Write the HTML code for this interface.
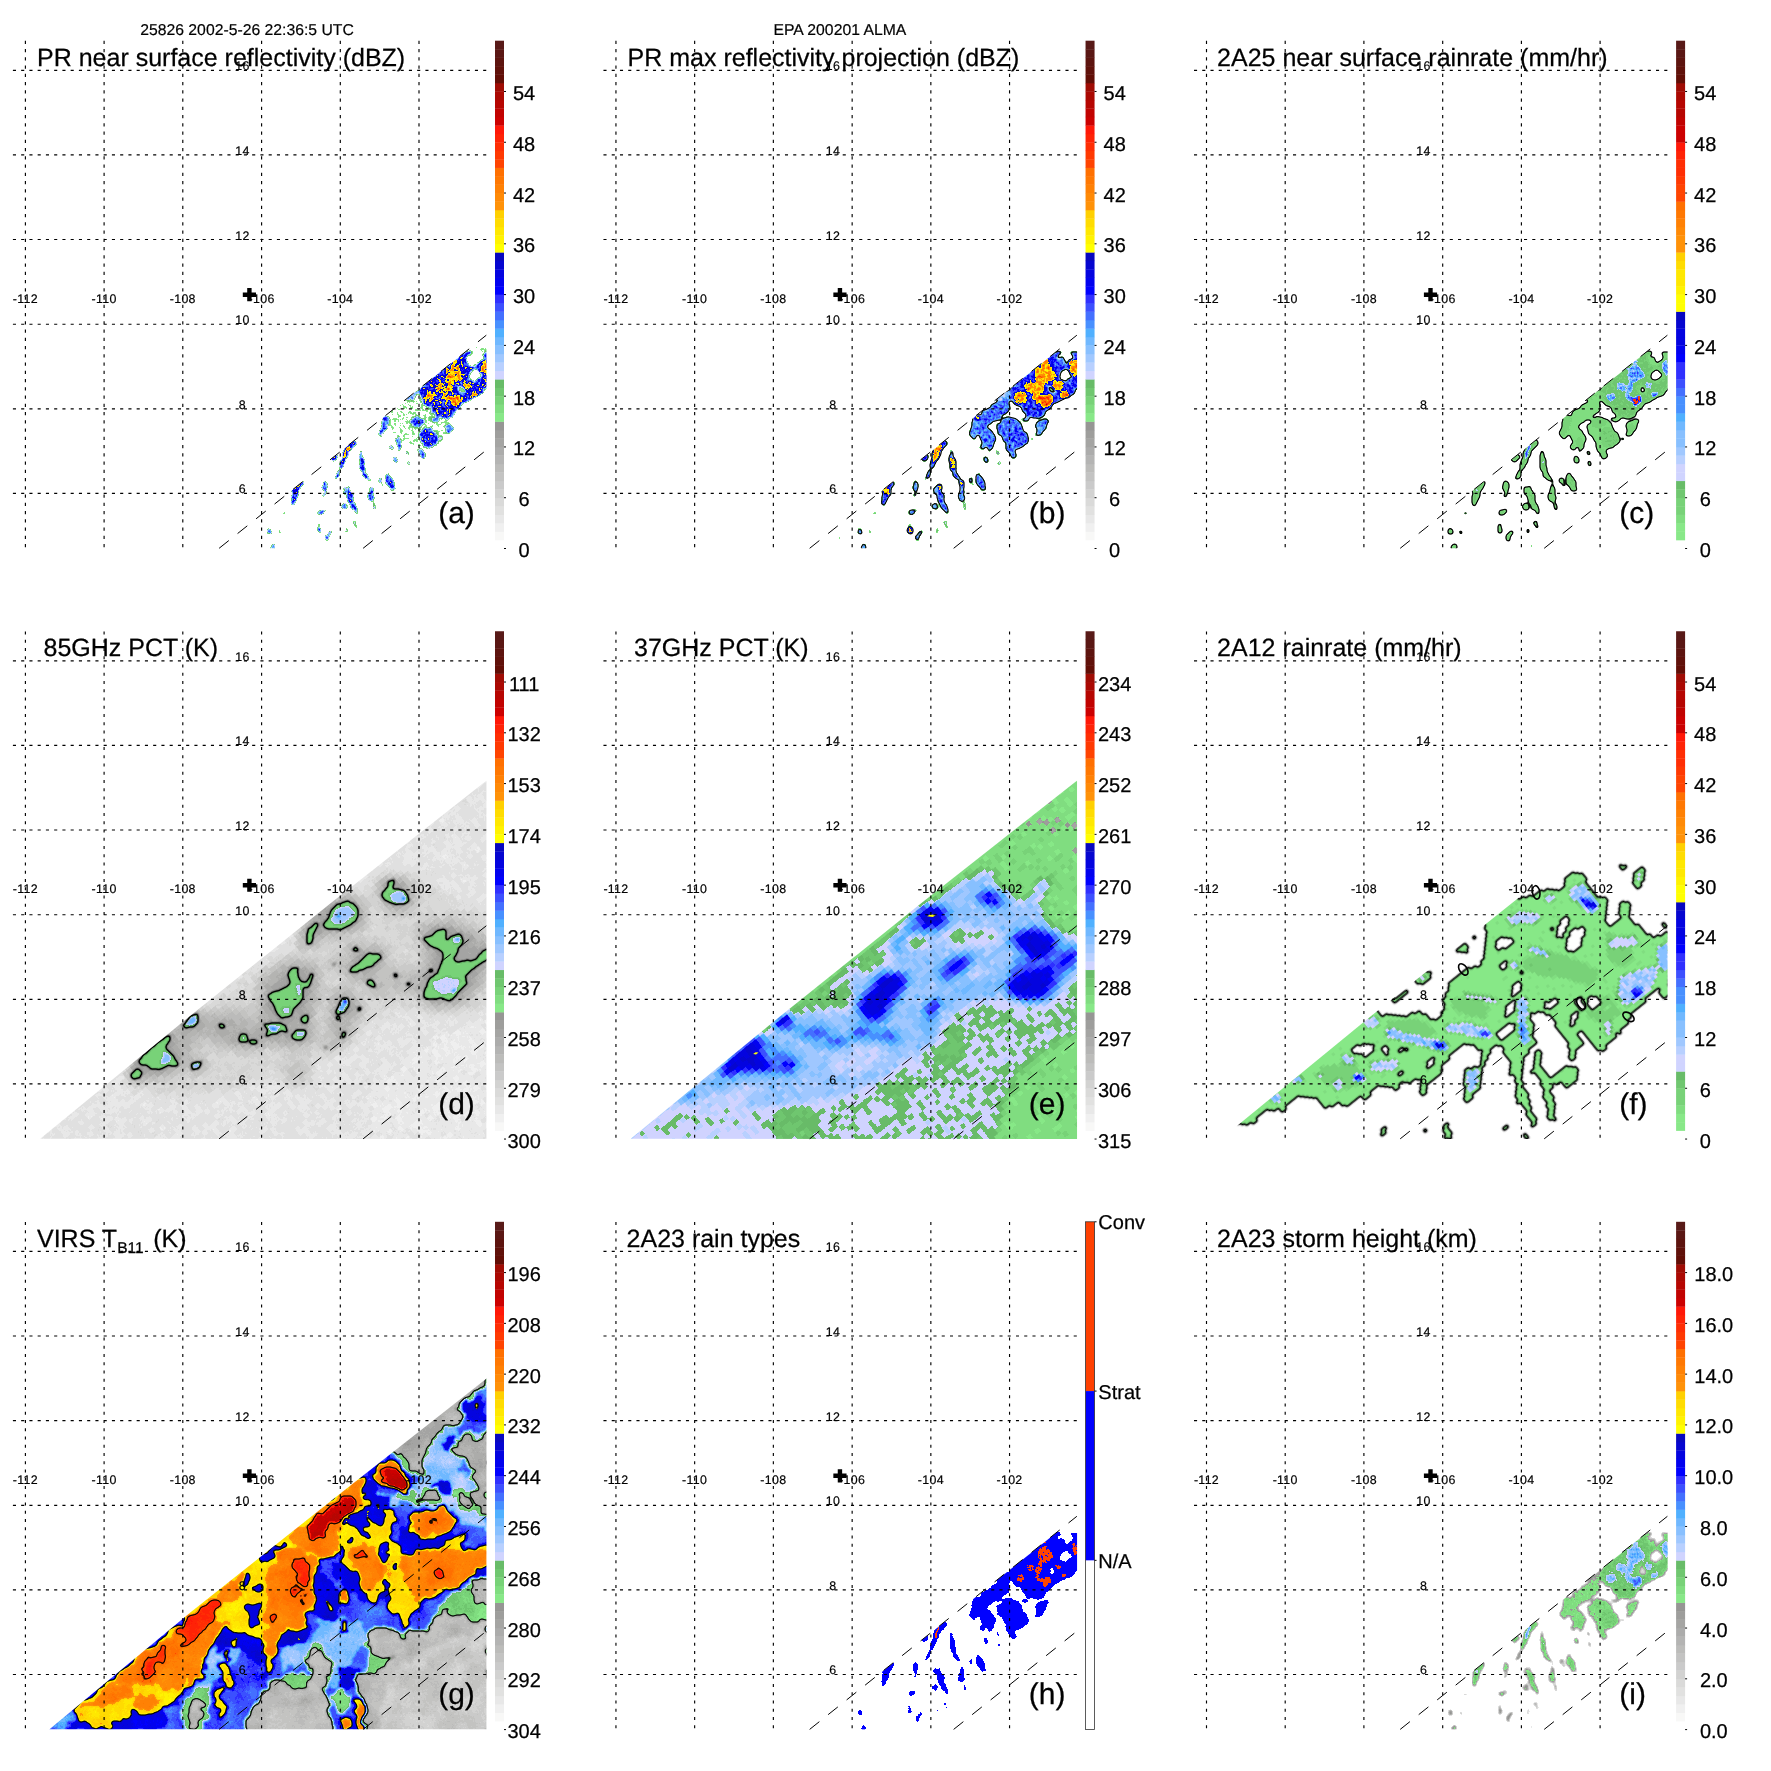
<!DOCTYPE html>
<html><head><meta charset="utf-8"><title>TRMM 25826</title>
<style>html,body{margin:0;padding:0;background:#fff}svg{display:block}</style></head><body>
<svg width="1771" height="1771" viewBox="0 0 1771 1771" style="text-rendering:geometricPrecision">
<defs><clipPath id="mapclip"><rect x="13" y="40.8" width="473.7" height="507.7"/></clipPath></defs>
<rect width="1771" height="1771" fill="#fff"/>
<g opacity="0.9999">
<text x="140.2" y="35.1" style="font-family:'Liberation Sans',sans-serif;font-size:15.75px" fill="#000" stroke="#000" stroke-width="0.2">25826 2002-5-26 22:36:5 UTC</text>
<text x="773.5" y="35.1" style="font-family:'Liberation Sans',sans-serif;font-size:15.75px" fill="#000" stroke="#000" stroke-width="0.2">EPA 200201 ALMA</text>
<g transform="translate(0.00,0.00)">
<g clip-path="url(#mapclip)">
<defs><clipPath id="clipa"><polygon points="219.1,548.6 486.7,335.0 486.7,548.6"/></clipPath></defs>
<filter id="fa" filterUnits="userSpaceOnUse" x="180" y="300" width="330" height="270" color-interpolation-filters="sRGB">
<feTurbulence type="fractalNoise" baseFrequency="0.15" numOctaves="2" seed="21" result="dn"/>
<feDisplacementMap in="SourceGraphic" in2="dn" scale="6" xChannelSelector="R" yChannelSelector="G" result="dp"/>
<feGaussianBlur in="dp" stdDeviation="1.0" result="bl"/>
<feTurbulence type="fractalNoise" baseFrequency="0.33" numOctaves="2" seed="3" result="fn0"/>
<feColorMatrix in="fn0" type="matrix" values="1 0 0 0 0 1 0 0 0 0 1 0 0 0 0 0 0 0 0 1" result="fg0"/>
<feComposite in="bl" in2="fg0" operator="arithmetic" k1="0.7" k2="0.66" k3="0" k4="0" result="fld0"/>
<feComponentTransfer in="fld0" result="col"><feFuncR type="discrete" tableValues="1.000 1.000 1.000 1.000 1.000 1.000 1.000 1.000 1.000 1.000 1.000 1.000 1.000 1.000 1.000 0.533 0.502 0.471 0.439 0.408 0.816 0.722 0.627 0.533 0.439 0.314 0.282 0.267 0.235 0.188 0.000 0.008 0.016 0.024 0.031 1.000 1.000 1.000 1.000 1.000 1.000 1.000 1.000 1.000 1.000 1.000 1.000 1.000 1.000 1.000 0.800 0.757 0.714 0.671 0.627 0.384 0.375 0.365 0.355 0.345"/><feFuncG type="discrete" tableValues="1.000 1.000 1.000 1.000 1.000 1.000 1.000 1.000 1.000 1.000 1.000 1.000 1.000 1.000 1.000 0.910 0.867 0.824 0.780 0.737 0.831 0.816 0.784 0.753 0.722 0.690 0.565 0.439 0.314 0.188 0.000 0.008 0.016 0.024 0.031 1.000 0.954 0.908 0.862 0.816 0.573 0.539 0.506 0.473 0.439 0.267 0.224 0.180 0.137 0.094 0.000 0.012 0.024 0.035 0.047 0.055 0.067 0.078 0.090 0.102"/><feFuncB type="discrete" tableValues="1.000 1.000 1.000 1.000 1.000 1.000 1.000 1.000 1.000 1.000 1.000 1.000 1.000 1.000 1.000 0.533 0.502 0.471 0.439 0.408 1.000 1.000 1.000 1.000 1.000 1.000 1.000 1.000 1.000 1.000 1.000 0.938 0.876 0.815 0.753 0.000 0.000 0.000 0.000 0.000 0.031 0.024 0.016 0.008 0.000 0.000 0.008 0.016 0.024 0.031 0.000 0.004 0.008 0.012 0.016 0.024 0.041 0.059 0.076 0.094"/></feComponentTransfer>
<feMerge><feMergeNode in="col"/></feMerge>
</filter>
<g clip-path="url(#clipa)"><g filter="url(#fa)"><rect x="180" y="300" width="330" height="270" fill="#000"/>
<polygon points="389.4,409.1 402.9,400.0 419.9,397.8 436.8,415.8 452.6,418.1 448.1,431.6 436.8,449.7 421.0,452.0 402.9,442.9 391.6,438.4 387.1,422.6" fill="#3c3c3c"/>
<polygon points="466.2,350.3 482.0,343.6 488.8,346.9 488.8,359.4 472.9,366.1" fill="#3c3c3c"/>
<polygon points="419.9,388.7 431.2,377.4 448.1,363.9 466.2,350.3 470.7,352.6 466.2,361.6 472.9,367.3 482.0,361.6 485.9,352.6 488.8,352.6 488.8,388.7 482.0,393.2 475.2,397.8 466.2,402.3 459.4,409.1 452.6,415.8 445.8,418.1 436.8,415.8 430.0,409.1 423.3,402.3 418.7,395.5" fill="#868686" stroke="#868686" stroke-width="0.9" stroke-linejoin="round"/>
<polygon points="409.7,420.3 416.5,417.0 423.3,420.3 419.9,427.1 412.0,426.0" fill="#7d7d7d" stroke="#7d7d7d" stroke-width="0.9" stroke-linejoin="round"/>
<polygon points="421.0,431.6 430.0,428.2 436.8,433.9 436.8,442.9 430.0,448.6 423.3,445.2 421.0,438.4" fill="#828282" stroke="#828282" stroke-width="0.9" stroke-linejoin="round"/>
<polygon points="381.5,415.8 387.1,414.7 390.5,420.3 386.0,429.4 380.3,437.3 378.1,435.0 381.5,427.1" fill="#797979" stroke="#797979" stroke-width="0.9" stroke-linejoin="round"/>
<polygon points="402.9,398.9 414.2,389.9 419.9,393.2 412.0,400.0" fill="#686868" stroke="#686868" stroke-width="0.9" stroke-linejoin="round"/>
<polygon points="396.2,438.4 399.5,437.3 401.8,447.4 398.4,452.0 396.7,445.2" fill="#7d7d7d" stroke="#7d7d7d" stroke-width="0.9" stroke-linejoin="round"/>
<polygon points="417.6,452.0 422.1,449.7 425.5,455.4 421.0,458.7" fill="#7d7d7d" stroke="#7d7d7d" stroke-width="0.9" stroke-linejoin="round"/>
<polygon points="392.8,457.6 397.3,456.5 398.4,461.0 393.9,462.1" fill="#828282" stroke="#828282" stroke-width="0.9" stroke-linejoin="round"/>
<polygon points="346.5,445.2 353.2,438.4 357.8,442.9 351.0,449.7 346.5,457.6 343.1,465.5 339.7,474.6 335.2,480.2 334.0,477.9 338.6,470.0 340.8,461.0" fill="#868686" stroke="#868686" stroke-width="0.9" stroke-linejoin="round"/>
<polygon points="329.5,458.7 335.2,453.7 338.6,455.4 334.0,461.0" fill="#8a8a8a" stroke="#8a8a8a" stroke-width="0.9" stroke-linejoin="round"/>
<polygon points="360.0,448.6 362.3,449.7 363.4,459.9 364.5,471.2 369.1,476.8 371.3,481.3 367.9,480.2 362.3,475.7 359.5,467.8 360.0,458.7" fill="#828282" stroke="#828282" stroke-width="0.9" stroke-linejoin="round"/>
<polygon points="383.7,475.7 389.4,473.4 393.9,481.3 396.2,489.2 391.6,490.4 387.1,484.7" fill="#828282" stroke="#828282" stroke-width="0.9" stroke-linejoin="round"/>
<polygon points="378.7,477.9 380.3,477.4 383.7,487.0 382.0,488.1" fill="#757575" stroke="#757575" stroke-width="0.9" stroke-linejoin="round"/>
<polygon points="291.1,488.1 301.3,481.3 303.6,482.5 299.0,491.5 296.8,499.4 293.4,506.2 291.7,499.4" fill="#868686" stroke="#868686" stroke-width="0.9" stroke-linejoin="round"/>
<polygon points="321.6,482.5 326.1,480.2 327.8,488.1 326.1,496.0 322.7,497.1 323.3,489.2" fill="#797979" stroke="#797979" stroke-width="0.9" stroke-linejoin="round"/>
<polygon points="346.5,488.1 351.0,490.4 353.2,499.4 357.8,510.7 355.5,512.9 349.9,503.9 346.5,496.0" fill="#828282" stroke="#828282" stroke-width="0.9" stroke-linejoin="round"/>
<polygon points="341.9,488.1 345.3,487.0 345.3,492.6 342.5,493.7" fill="#717171" stroke="#717171" stroke-width="0.9" stroke-linejoin="round"/>
<polygon points="343.1,502.8 346.5,501.7 347.6,507.3 344.2,508.4" fill="#717171" stroke="#717171" stroke-width="0.9" stroke-linejoin="round"/>
<polygon points="369.1,485.8 372.4,487.0 374.7,497.1 371.3,501.7 368.5,493.7" fill="#7d7d7d" stroke="#7d7d7d" stroke-width="0.9" stroke-linejoin="round"/>
<polygon points="372.4,502.8 374.7,502.2 376.4,508.4 374.1,509.6" fill="#6c6c6c" stroke="#6c6c6c" stroke-width="0.9" stroke-linejoin="round"/>
<polygon points="318.2,510.7 322.7,507.9 325.6,509.6 322.7,514.1 318.8,514.6" fill="#797979" stroke="#797979" stroke-width="0.9" stroke-linejoin="round"/>
<polygon points="445.8,426.0 451.5,423.7 452.6,429.4 448.1,433.9 445.8,431.6" fill="#757575" stroke="#757575" stroke-width="0.9" stroke-linejoin="round"/>
<polygon points="440.2,437.3 443.6,436.2 444.2,440.1 441.3,441.2" fill="#686868" stroke="#686868" stroke-width="0.9" stroke-linejoin="round"/>
<polygon points="430.0,418.1 436.8,417.0 439.1,420.3 432.3,422.6" fill="#717171" stroke="#717171" stroke-width="0.9" stroke-linejoin="round"/>
<polygon points="389.4,446.3 392.2,445.2 393.3,449.7 390.5,450.3" fill="#6c6c6c" stroke="#6c6c6c" stroke-width="0.9" stroke-linejoin="round"/>
<polygon points="405.2,449.7 407.4,449.1 408.6,454.2 406.3,454.8" fill="#717171" stroke="#717171" stroke-width="0.9" stroke-linejoin="round"/>
<polygon points="406.3,462.1 409.7,461.0 410.3,464.4 407.4,465.0" fill="#6c6c6c" stroke="#6c6c6c" stroke-width="0.9" stroke-linejoin="round"/>
<polygon points="266.5,529.3 270.4,528.7 271.5,533.8 267.6,534.4" fill="#7d7d7d" stroke="#7d7d7d" stroke-width="0.9" stroke-linejoin="round"/>
<polygon points="270.4,543.4 273.2,542.9 274.9,549.1 271.9,549.1" fill="#7d7d7d" stroke="#7d7d7d" stroke-width="0.9" stroke-linejoin="round"/>
<polygon points="317.3,522.5 320.1,522.0 321.2,532.1 318.4,533.3" fill="#6c6c6c" stroke="#6c6c6c" stroke-width="0.9" stroke-linejoin="round"/>
<polygon points="324.6,535.5 329.7,529.9 332.0,531.6 327.4,541.2 325.2,540.0" fill="#797979" stroke="#797979" stroke-width="0.9" stroke-linejoin="round"/>
<polygon points="353.6,522.5 356.6,522.0 356.8,528.7 354.6,528.7" fill="#686868" stroke="#686868" stroke-width="0.9" stroke-linejoin="round"/>
<polygon points="283.6,511.8 285.9,511.6 286.1,513.8 283.9,514.1" fill="#797979" stroke="#797979" stroke-width="0.9" stroke-linejoin="round"/>
<polygon points="248.2,536.1 249.8,536.1 249.8,540.0 248.2,540.0" fill="#606060" stroke="#606060" stroke-width="0.9" stroke-linejoin="round"/>
<polygon points="277.8,528.7 279.1,528.7 280.2,532.1 278.9,532.4" fill="#606060" stroke="#606060" stroke-width="0.9" stroke-linejoin="round"/>
<polygon points="344.4,527.6 347.2,527.0 347.8,532.7 345.3,533.3" fill="#5b5b5b" stroke="#5b5b5b" stroke-width="0.9" stroke-linejoin="round"/>
<polygon points="349.5,543.4 351.2,543.4 351.2,547.9 349.6,547.9" fill="#5b5b5b" stroke="#5b5b5b" stroke-width="0.9" stroke-linejoin="round"/>
<polygon points="341.6,505.0 345.5,503.9 347.2,508.4 343.3,509.5" fill="#757575" stroke="#757575" stroke-width="0.9" stroke-linejoin="round"/>
<polygon points="372.6,505.0 374.9,504.5 376.0,509.5 373.7,510.1" fill="#646464" stroke="#646464" stroke-width="0.9" stroke-linejoin="round"/>
<polygon points="367.5,497.1 370.4,496.6 371.5,501.6 368.7,502.2" fill="#757575" stroke="#757575" stroke-width="0.9" stroke-linejoin="round"/>
<polygon points="469.6,372.9 477.5,367.3 482.0,375.2 475.2,383.1 470.7,379.7" fill="#2d2d2d"/>
<polygon points="457.1,386.5 464.5,385.9 466.2,392.1 459.4,393.8" fill="#3e3e3e"/>
<polygon points="472.9,352.6 479.7,350.3 482.0,359.4 475.2,363.9" fill="#2d2d2d"/>
<polygon points="445.8,368.4 452.6,363.9 459.4,368.4 463.9,375.2 459.4,379.7 452.6,384.2 448.1,393.2 452.6,400.0 448.1,402.3 443.6,395.5 445.8,384.2 448.1,377.4" fill="#a4a4a4" stroke="#a4a4a4" stroke-width="0.54" stroke-linejoin="round"/>
<polygon points="424.4,395.5 432.3,393.2 434.6,398.9 427.8,402.3" fill="#a4a4a4" stroke="#a4a4a4" stroke-width="0.54" stroke-linejoin="round"/>
<polygon points="436.8,384.2 442.5,383.1 443.6,388.7 437.9,389.9" fill="#a4a4a4" stroke="#a4a4a4" stroke-width="0.54" stroke-linejoin="round"/>
<polygon points="450.4,397.8 459.4,396.6 461.7,402.3 453.7,405.7" fill="#b5b5b5" stroke="#b5b5b5" stroke-width="0.54" stroke-linejoin="round"/>
<polygon points="480.9,361.6 487.1,360.5 488.8,375.2 482.0,374.0" fill="#a4a4a4" stroke="#a4a4a4" stroke-width="0.54" stroke-linejoin="round"/>
<polygon points="463.9,383.1 469.6,381.9 470.7,387.6 465.0,388.7" fill="#9f9f9f" stroke="#9f9f9f" stroke-width="0.54" stroke-linejoin="round"/>
<polygon points="470.7,393.2 475.2,392.1 476.3,396.6 471.8,397.8" fill="#acacac" stroke="#acacac" stroke-width="0.54" stroke-linejoin="round"/>
<polygon points="451.5,359.4 454.9,358.2 456.0,362.7 452.6,363.3" fill="#acacac" stroke="#acacac" stroke-width="0.54" stroke-linejoin="round"/>
<polygon points="344.8,445.2 348.7,442.9 349.3,449.7 345.9,457.6 343.1,459.9 344.2,452.0" fill="#a8a8a8" stroke="#a8a8a8" stroke-width="0.54" stroke-linejoin="round"/>
<polygon points="360.6,459.9 362.8,459.9 363.2,465.5 360.9,465.5" fill="#9f9f9f" stroke="#9f9f9f" stroke-width="0.54" stroke-linejoin="round"/>
<polygon points="294.0,488.7 296.8,488.1 299.0,492.6 296.8,493.7" fill="#9f9f9f" stroke="#9f9f9f" stroke-width="0.54" stroke-linejoin="round"/>
<polygon points="385.4,415.8 387.1,415.6 387.3,418.1 385.7,418.3" fill="#9b9b9b" stroke="#9b9b9b" stroke-width="0.54" stroke-linejoin="round"/>
<polygon points="348.2,485.8 350.4,485.6 350.6,488.1 348.4,488.3" fill="#9b9b9b" stroke="#9b9b9b" stroke-width="0.54" stroke-linejoin="round"/>
<polygon points="370.2,483.0 371.9,482.8 372.1,484.9 370.4,485.2" fill="#9b9b9b" stroke="#9b9b9b" stroke-width="0.54" stroke-linejoin="round"/>
<polygon points="319.0,529.3 320.9,529.1 321.1,531.0 319.2,531.2" fill="#9b9b9b" stroke="#9b9b9b" stroke-width="0.54" stroke-linejoin="round"/></g></g>
</g>
<path d="M219.1 548.3L486.3 335.2M363.1 548.3L486.3 450.1" stroke="#000" stroke-width="1" stroke-dasharray="12.4 11.25" fill="none"/>
<path d="M25.4 40.85V549.3M104.1 40.85V549.3M182.8 40.85V549.3M261.6 40.85V549.3M340.3 40.85V549.3M419 40.85V549.3M12.9 70.3H486.6M12.9 154.9H486.6M12.9 239.5H486.6M12.9 324.2H486.6M12.9 408.8H486.6M12.9 493.4H486.6" stroke="#000" stroke-width="1.15" stroke-dasharray="3.1 5.15" fill="none"/>
<g style="font-family:'Liberation Sans',sans-serif;font-size:12.4px;letter-spacing:0.3px" fill="#000" stroke="#000" stroke-width="0.2">
<text x="25.4" y="302.5" text-anchor="middle">-112</text>
<text x="104.1" y="302.5" text-anchor="middle">-110</text>
<text x="182.8" y="302.5" text-anchor="middle">-108</text>
<text x="261.6" y="302.5" text-anchor="middle">-106</text>
<text x="340.3" y="302.5" text-anchor="middle">-104</text>
<text x="419" y="302.5" text-anchor="middle">-102</text>
<text x="242.4" y="70.3" text-anchor="middle">16</text>
<text x="242.4" y="154.9" text-anchor="middle">14</text>
<text x="242.4" y="239.5" text-anchor="middle">12</text>
<text x="242.4" y="324.2" text-anchor="middle">10</text>
<text x="242.4" y="408.8" text-anchor="middle">8</text>
<text x="242.4" y="493.4" text-anchor="middle">6</text>
</g>
<path d="M242.8 292.5h13.2v4.4h-13.2z M247.2 288.1h4.4v13.2h-4.4z" fill="#000"/>
<text x="37" y="65.9" style="font-family:'Liberation Sans',sans-serif;font-size:25px" fill="#000" stroke="#000" stroke-width="0.25">PR near surface reflectivity (dBZ)</text>
<text x="438.2" y="523.3" style="font-family:'Liberation Sans',sans-serif;font-size:30px" fill="#000" stroke="#000" stroke-width="0.25">(a)</text>
<rect x="495" y="531.57" width="9" height="8.76" fill="#f8f8f7"/>
<rect x="495" y="523.11" width="9" height="8.76" fill="#f0f0f0"/>
<rect x="495" y="514.65" width="9" height="8.76" fill="#e8e8e8"/>
<rect x="495" y="506.18" width="9" height="8.76" fill="#e1e1e0"/>
<rect x="495" y="497.72" width="9" height="8.76" fill="#dadad9"/>
<rect x="495" y="489.26" width="9" height="8.76" fill="#d2d2d1"/>
<rect x="495" y="480.79" width="9" height="8.76" fill="#cacaca"/>
<rect x="495" y="472.33" width="9" height="8.76" fill="#c3c3c2"/>
<rect x="495" y="463.87" width="9" height="8.76" fill="#bcbcba"/>
<rect x="495" y="455.40" width="9" height="8.76" fill="#b4b4b3"/>
<rect x="495" y="446.94" width="9" height="8.76" fill="#acacab"/>
<rect x="495" y="438.48" width="9" height="8.76" fill="#a5a5a3"/>
<rect x="495" y="430.01" width="9" height="8.76" fill="#9e9e9c"/>
<rect x="495" y="421.55" width="9" height="8.76" fill="#969694"/>
<rect x="495" y="413.09" width="9" height="8.76" fill="#88e888"/>
<rect x="495" y="404.62" width="9" height="8.76" fill="#80dd80"/>
<rect x="495" y="396.16" width="9" height="8.76" fill="#78d278"/>
<rect x="495" y="387.70" width="9" height="8.76" fill="#70c770"/>
<rect x="495" y="379.23" width="9" height="8.76" fill="#68bc68"/>
<rect x="495" y="370.77" width="9" height="8.76" fill="#d0d4ff"/>
<rect x="495" y="362.31" width="9" height="8.76" fill="#b8d0ff"/>
<rect x="495" y="353.84" width="9" height="8.76" fill="#a0c8ff"/>
<rect x="495" y="345.38" width="9" height="8.76" fill="#88c0ff"/>
<rect x="495" y="336.92" width="9" height="8.76" fill="#70b8ff"/>
<rect x="495" y="328.45" width="9" height="8.76" fill="#50b0ff"/>
<rect x="495" y="319.99" width="9" height="8.76" fill="#4890ff"/>
<rect x="495" y="311.53" width="9" height="8.76" fill="#4470ff"/>
<rect x="495" y="303.06" width="9" height="8.76" fill="#3c50ff"/>
<rect x="495" y="294.60" width="9" height="8.76" fill="#3030ff"/>
<rect x="495" y="286.14" width="9" height="8.76" fill="#0000ff"/>
<rect x="495" y="277.67" width="9" height="8.76" fill="#0202ef"/>
<rect x="495" y="269.21" width="9" height="8.76" fill="#0404e0"/>
<rect x="495" y="260.75" width="9" height="8.76" fill="#0606d0"/>
<rect x="495" y="252.28" width="9" height="8.76" fill="#0808c0"/>
<rect x="495" y="243.82" width="9" height="8.76" fill="#ffff00"/>
<rect x="495" y="235.36" width="9" height="8.76" fill="#fff300"/>
<rect x="495" y="226.89" width="9" height="8.76" fill="#ffe800"/>
<rect x="495" y="218.43" width="9" height="8.76" fill="#ffdc00"/>
<rect x="495" y="209.97" width="9" height="8.76" fill="#ffd000"/>
<rect x="495" y="201.50" width="9" height="8.76" fill="#ff9208"/>
<rect x="495" y="193.04" width="9" height="8.76" fill="#ff8a06"/>
<rect x="495" y="184.58" width="9" height="8.76" fill="#ff8104"/>
<rect x="495" y="176.11" width="9" height="8.76" fill="#ff7802"/>
<rect x="495" y="167.65" width="9" height="8.76" fill="#ff7000"/>
<rect x="495" y="159.19" width="9" height="8.76" fill="#ff4400"/>
<rect x="495" y="150.72" width="9" height="8.76" fill="#ff3902"/>
<rect x="495" y="142.26" width="9" height="8.76" fill="#ff2e04"/>
<rect x="495" y="133.80" width="9" height="8.76" fill="#ff2306"/>
<rect x="495" y="125.33" width="9" height="8.76" fill="#ff1808"/>
<rect x="495" y="116.87" width="9" height="8.76" fill="#cc0000"/>
<rect x="495" y="108.41" width="9" height="8.76" fill="#c10301"/>
<rect x="495" y="99.94" width="9" height="8.76" fill="#b60602"/>
<rect x="495" y="91.48" width="9" height="8.76" fill="#ab0903"/>
<rect x="495" y="83.02" width="9" height="8.76" fill="#a00c04"/>
<rect x="495" y="74.55" width="9" height="8.76" fill="#620e06"/>
<rect x="495" y="66.09" width="9" height="8.76" fill="#60110a"/>
<rect x="495" y="57.63" width="9" height="8.76" fill="#5d140f"/>
<rect x="495" y="49.16" width="9" height="8.76" fill="#5a1714"/>
<rect x="495" y="40.70" width="9" height="8.76" fill="#581a18"/>
<path d="M504 548.50h2M504 497.72h2M504 446.94h2M504 396.16h2M504 345.38h2M504 294.60h2M504 243.82h2M504 193.04h2M504 142.26h2M504 91.48h2" stroke="#000" stroke-width="1" fill="none"/>
<g style="font-family:'Liberation Sans',sans-serif;font-size:20px" fill="#000" stroke="#000" stroke-width="0.25" text-anchor="middle">
<text x="524.1" y="557.00">0</text>
<text x="524.1" y="506.22">6</text>
<text x="524.1" y="455.44">12</text>
<text x="524.1" y="404.66">18</text>
<text x="524.1" y="353.88">24</text>
<text x="524.1" y="303.10">30</text>
<text x="524.1" y="252.32">36</text>
<text x="524.1" y="201.54">42</text>
<text x="524.1" y="150.76">48</text>
<text x="524.1" y="99.98">54</text>
</g>
</g>
<g transform="translate(590.55,0.00)">
<g clip-path="url(#mapclip)">
<defs><clipPath id="clipb"><polygon points="219.1,548.6 486.7,335.0 486.7,548.6"/></clipPath></defs>
<filter id="fb" filterUnits="userSpaceOnUse" x="180" y="300" width="330" height="270" color-interpolation-filters="sRGB">
<feTurbulence type="fractalNoise" baseFrequency="0.15" numOctaves="2" seed="21" result="dn"/>
<feDisplacementMap in="SourceGraphic" in2="dn" scale="6" xChannelSelector="R" yChannelSelector="G" result="dp"/>
<feGaussianBlur in="dp" stdDeviation="1.0" result="bl"/>
<feTurbulence type="fractalNoise" baseFrequency="0.33" numOctaves="2" seed="3" result="fn0"/>
<feColorMatrix in="fn0" type="matrix" values="1 0 0 0 0 1 0 0 0 0 1 0 0 0 0 0 0 0 0 1" result="fg0"/>
<feComposite in="bl" in2="fg0" operator="arithmetic" k1="0.5" k2="0.75" k3="0" k4="0" result="fld0"/>
<feComponentTransfer in="fld0" result="col"><feFuncR type="discrete" tableValues="1.000 1.000 1.000 1.000 1.000 1.000 1.000 1.000 1.000 1.000 1.000 1.000 1.000 1.000 1.000 0.533 0.502 0.471 0.439 0.408 0.816 0.722 0.627 0.533 0.439 0.314 0.282 0.267 0.235 0.188 0.000 0.008 0.016 0.024 0.031 1.000 1.000 1.000 1.000 1.000 1.000 1.000 1.000 1.000 1.000 1.000 1.000 1.000 1.000 1.000 0.800 0.757 0.714 0.671 0.627 0.384 0.375 0.365 0.355 0.345"/><feFuncG type="discrete" tableValues="1.000 1.000 1.000 1.000 1.000 1.000 1.000 1.000 1.000 1.000 1.000 1.000 1.000 1.000 1.000 0.910 0.867 0.824 0.780 0.737 0.831 0.816 0.784 0.753 0.722 0.690 0.565 0.439 0.314 0.188 0.000 0.008 0.016 0.024 0.031 1.000 0.954 0.908 0.862 0.816 0.573 0.539 0.506 0.473 0.439 0.267 0.224 0.180 0.137 0.094 0.000 0.012 0.024 0.035 0.047 0.055 0.067 0.078 0.090 0.102"/><feFuncB type="discrete" tableValues="1.000 1.000 1.000 1.000 1.000 1.000 1.000 1.000 1.000 1.000 1.000 1.000 1.000 1.000 1.000 0.533 0.502 0.471 0.439 0.408 1.000 1.000 1.000 1.000 1.000 1.000 1.000 1.000 1.000 1.000 1.000 0.938 0.876 0.815 0.753 0.000 0.000 0.000 0.000 0.000 0.031 0.024 0.016 0.008 0.000 0.000 0.008 0.016 0.024 0.031 0.000 0.004 0.008 0.012 0.016 0.024 0.041 0.059 0.076 0.094"/></feComponentTransfer>
<feComponentTransfer in="fld0" result="t0"><feFuncR type="discrete" tableValues="0 0 0 0 0 0 0 0 0 0 0 0 0 0 0 0 0 0 0 0 1 1 1 1 1 1 1 1 1 1 1 1 1 1 1 1 1 1 1 1 1 1 1 1 1 1 1 1 1 1 1 1 1 1 1 1 1 1 1 1"/></feComponentTransfer>
<feColorMatrix in="t0" type="matrix" values="0 0 0 0 0 0 0 0 0 0 0 0 0 0 0 1 0 0 0 0" result="m0"/>
<feGaussianBlur in="m0" stdDeviation="1.0" result="g0"/>
<feComponentTransfer in="g0" result="e0"><feFuncA type="table" tableValues="0 0 0.9 0.9 0 0"/></feComponentTransfer>
<feMerge><feMergeNode in="col"/><feMergeNode in="e0"/></feMerge>
</filter>
<g clip-path="url(#clipb)"><g filter="url(#fb)"><rect x="180" y="300" width="330" height="270" fill="#000"/>
<polygon points="377.8,436.3 382.9,417.6 403.2,402.4 420.1,390.5 420.1,407.5 411.7,417.6 399.8,424.4 389.6,434.6 382.9,439.7" fill="#757575"/>
<polygon points="404.9,424.4 416.7,416.0 426.9,419.3 435.4,431.2 433.7,441.4 425.2,451.5 418.4,456.6 413.4,441.4 406.6,434.6" fill="#757575"/>
<polygon points="387.9,429.5 399.8,427.8 406.6,438.0 401.5,449.8 391.3,446.4" fill="#757575"/>
<polygon points="443.8,424.4 454.0,417.6 459.1,421.0 450.6,436.3 444.7,434.6" fill="#757575"/>
<polygon points="467.6,360.1 477.7,353.3 487.9,349.9 487.9,390.5 477.7,397.3 469.3,383.8" fill="#757575"/>
<polygon points="419.9,388.7 431.2,377.4 448.1,363.9 466.2,350.3 470.7,352.6 466.2,361.6 472.9,367.3 482.0,361.6 485.9,352.6 488.8,352.6 488.8,388.7 482.0,393.2 475.2,397.8 466.2,402.3 459.4,409.1 452.6,415.8 445.8,418.1 436.8,415.8 430.0,409.1 423.3,402.3 418.7,395.5" fill="#7d7d7d" stroke="#7d7d7d" stroke-width="1.4" stroke-linejoin="round"/>
<polygon points="409.7,420.3 416.5,417.0 423.3,420.3 419.9,427.1 412.0,426.0" fill="#757575" stroke="#757575" stroke-width="1.4" stroke-linejoin="round"/>
<polygon points="421.0,431.6 430.0,428.2 436.8,433.9 436.8,442.9 430.0,448.6 423.3,445.2 421.0,438.4" fill="#797979" stroke="#797979" stroke-width="1.4" stroke-linejoin="round"/>
<polygon points="381.5,415.8 387.1,414.7 390.5,420.3 386.0,429.4 380.3,437.3 378.1,435.0 381.5,427.1" fill="#717171" stroke="#717171" stroke-width="1.4" stroke-linejoin="round"/>
<polygon points="402.9,398.9 414.2,389.9 419.9,393.2 412.0,400.0" fill="#606060" stroke="#606060" stroke-width="1.4" stroke-linejoin="round"/>
<polygon points="396.2,438.4 399.5,437.3 401.8,447.4 398.4,452.0 396.7,445.2" fill="#757575" stroke="#757575" stroke-width="1.4" stroke-linejoin="round"/>
<polygon points="417.6,452.0 422.1,449.7 425.5,455.4 421.0,458.7" fill="#757575" stroke="#757575" stroke-width="1.4" stroke-linejoin="round"/>
<polygon points="392.8,457.6 397.3,456.5 398.4,461.0 393.9,462.1" fill="#797979" stroke="#797979" stroke-width="1.4" stroke-linejoin="round"/>
<polygon points="346.5,445.2 353.2,438.4 357.8,442.9 351.0,449.7 346.5,457.6 343.1,465.5 339.7,474.6 335.2,480.2 334.0,477.9 338.6,470.0 340.8,461.0" fill="#7d7d7d" stroke="#7d7d7d" stroke-width="1.4" stroke-linejoin="round"/>
<polygon points="329.5,458.7 335.2,453.7 338.6,455.4 334.0,461.0" fill="#828282" stroke="#828282" stroke-width="1.4" stroke-linejoin="round"/>
<polygon points="360.0,448.6 362.3,449.7 363.4,459.9 364.5,471.2 369.1,476.8 371.3,481.3 367.9,480.2 362.3,475.7 359.5,467.8 360.0,458.7" fill="#797979" stroke="#797979" stroke-width="1.4" stroke-linejoin="round"/>
<polygon points="383.7,475.7 389.4,473.4 393.9,481.3 396.2,489.2 391.6,490.4 387.1,484.7" fill="#797979" stroke="#797979" stroke-width="1.4" stroke-linejoin="round"/>
<polygon points="378.7,477.9 380.3,477.4 383.7,487.0 382.0,488.1" fill="#6c6c6c" stroke="#6c6c6c" stroke-width="1.4" stroke-linejoin="round"/>
<polygon points="291.1,488.1 301.3,481.3 303.6,482.5 299.0,491.5 296.8,499.4 293.4,506.2 291.7,499.4" fill="#7d7d7d" stroke="#7d7d7d" stroke-width="1.4" stroke-linejoin="round"/>
<polygon points="321.6,482.5 326.1,480.2 327.8,488.1 326.1,496.0 322.7,497.1 323.3,489.2" fill="#717171" stroke="#717171" stroke-width="1.4" stroke-linejoin="round"/>
<polygon points="346.5,488.1 351.0,490.4 353.2,499.4 357.8,510.7 355.5,512.9 349.9,503.9 346.5,496.0" fill="#797979" stroke="#797979" stroke-width="1.4" stroke-linejoin="round"/>
<polygon points="341.9,488.1 345.3,487.0 345.3,492.6 342.5,493.7" fill="#686868" stroke="#686868" stroke-width="1.4" stroke-linejoin="round"/>
<polygon points="343.1,502.8 346.5,501.7 347.6,507.3 344.2,508.4" fill="#686868" stroke="#686868" stroke-width="1.4" stroke-linejoin="round"/>
<polygon points="369.1,485.8 372.4,487.0 374.7,497.1 371.3,501.7 368.5,493.7" fill="#757575" stroke="#757575" stroke-width="1.4" stroke-linejoin="round"/>
<polygon points="372.4,502.8 374.7,502.2 376.4,508.4 374.1,509.6" fill="#646464" stroke="#646464" stroke-width="1.4" stroke-linejoin="round"/>
<polygon points="318.2,510.7 322.7,507.9 325.6,509.6 322.7,514.1 318.8,514.6" fill="#717171" stroke="#717171" stroke-width="1.4" stroke-linejoin="round"/>
<polygon points="445.8,426.0 451.5,423.7 452.6,429.4 448.1,433.9 445.8,431.6" fill="#6c6c6c" stroke="#6c6c6c" stroke-width="1.4" stroke-linejoin="round"/>
<polygon points="440.2,437.3 443.6,436.2 444.2,440.1 441.3,441.2" fill="#606060" stroke="#606060" stroke-width="1.4" stroke-linejoin="round"/>
<polygon points="430.0,418.1 436.8,417.0 439.1,420.3 432.3,422.6" fill="#686868" stroke="#686868" stroke-width="1.4" stroke-linejoin="round"/>
<polygon points="389.4,446.3 392.2,445.2 393.3,449.7 390.5,450.3" fill="#646464" stroke="#646464" stroke-width="1.4" stroke-linejoin="round"/>
<polygon points="405.2,449.7 407.4,449.1 408.6,454.2 406.3,454.8" fill="#686868" stroke="#686868" stroke-width="1.4" stroke-linejoin="round"/>
<polygon points="406.3,462.1 409.7,461.0 410.3,464.4 407.4,465.0" fill="#646464" stroke="#646464" stroke-width="1.4" stroke-linejoin="round"/>
<polygon points="266.5,529.3 270.4,528.7 271.5,533.8 267.6,534.4" fill="#757575" stroke="#757575" stroke-width="1.4" stroke-linejoin="round"/>
<polygon points="270.4,543.4 273.2,542.9 274.9,549.1 271.9,549.1" fill="#757575" stroke="#757575" stroke-width="1.4" stroke-linejoin="round"/>
<polygon points="317.3,522.5 320.1,522.0 321.2,532.1 318.4,533.3" fill="#646464" stroke="#646464" stroke-width="1.4" stroke-linejoin="round"/>
<polygon points="324.6,535.5 329.7,529.9 332.0,531.6 327.4,541.2 325.2,540.0" fill="#717171" stroke="#717171" stroke-width="1.4" stroke-linejoin="round"/>
<polygon points="353.6,522.5 356.6,522.0 356.8,528.7 354.6,528.7" fill="#606060" stroke="#606060" stroke-width="1.4" stroke-linejoin="round"/>
<polygon points="283.6,511.8 285.9,511.6 286.1,513.8 283.9,514.1" fill="#717171" stroke="#717171" stroke-width="1.4" stroke-linejoin="round"/>
<polygon points="248.2,536.1 249.8,536.1 249.8,540.0 248.2,540.0" fill="#575757" stroke="#575757" stroke-width="1.4" stroke-linejoin="round"/>
<polygon points="277.8,528.7 279.1,528.7 280.2,532.1 278.9,532.4" fill="#575757" stroke="#575757" stroke-width="1.4" stroke-linejoin="round"/>
<polygon points="344.4,527.6 347.2,527.0 347.8,532.7 345.3,533.3" fill="#535353" stroke="#535353" stroke-width="1.4" stroke-linejoin="round"/>
<polygon points="349.5,543.4 351.2,543.4 351.2,547.9 349.6,547.9" fill="#535353" stroke="#535353" stroke-width="1.4" stroke-linejoin="round"/>
<polygon points="341.6,505.0 345.5,503.9 347.2,508.4 343.3,509.5" fill="#6c6c6c" stroke="#6c6c6c" stroke-width="1.4" stroke-linejoin="round"/>
<polygon points="372.6,505.0 374.9,504.5 376.0,509.5 373.7,510.1" fill="#5b5b5b" stroke="#5b5b5b" stroke-width="1.4" stroke-linejoin="round"/>
<polygon points="367.5,497.1 370.4,496.6 371.5,501.6 368.7,502.2" fill="#6c6c6c" stroke="#6c6c6c" stroke-width="1.4" stroke-linejoin="round"/>
<polygon points="469.6,372.9 477.5,367.3 482.0,375.2 475.2,383.1 470.7,379.7" fill="#2d2d2d"/>
<polygon points="457.1,386.5 464.5,385.9 466.2,392.1 459.4,393.8" fill="#3e3e3e"/>
<polygon points="472.9,352.6 479.7,350.3 482.0,359.4 475.2,363.9" fill="#2d2d2d"/>
<polygon points="445.8,368.4 452.6,363.9 459.4,368.4 463.9,375.2 459.4,379.7 452.6,384.2 448.1,393.2 452.6,400.0 448.1,402.3 443.6,395.5 445.8,384.2 448.1,377.4" fill="#acacac" stroke="#acacac" stroke-width="4.0" stroke-linejoin="round"/>
<polygon points="424.4,395.5 432.3,393.2 434.6,398.9 427.8,402.3" fill="#acacac" stroke="#acacac" stroke-width="4.0" stroke-linejoin="round"/>
<polygon points="436.8,384.2 442.5,383.1 443.6,388.7 437.9,389.9" fill="#acacac" stroke="#acacac" stroke-width="4.0" stroke-linejoin="round"/>
<polygon points="450.4,397.8 459.4,396.6 461.7,402.3 453.7,405.7" fill="#bdbdbd" stroke="#bdbdbd" stroke-width="4.0" stroke-linejoin="round"/>
<polygon points="480.9,361.6 487.1,360.5 488.8,375.2 482.0,374.0" fill="#acacac" stroke="#acacac" stroke-width="4.0" stroke-linejoin="round"/>
<polygon points="463.9,383.1 469.6,381.9 470.7,387.6 465.0,388.7" fill="#a8a8a8" stroke="#a8a8a8" stroke-width="4.0" stroke-linejoin="round"/>
<polygon points="470.7,393.2 475.2,392.1 476.3,396.6 471.8,397.8" fill="#b5b5b5" stroke="#b5b5b5" stroke-width="4.0" stroke-linejoin="round"/>
<polygon points="451.5,359.4 454.9,358.2 456.0,362.7 452.6,363.3" fill="#b5b5b5" stroke="#b5b5b5" stroke-width="4.0" stroke-linejoin="round"/>
<polygon points="344.8,445.2 348.7,442.9 349.3,449.7 345.9,457.6 343.1,459.9 344.2,452.0" fill="#b0b0b0" stroke="#b0b0b0" stroke-width="4.0" stroke-linejoin="round"/>
<polygon points="360.6,459.9 362.8,459.9 363.2,465.5 360.9,465.5" fill="#a8a8a8" stroke="#a8a8a8" stroke-width="4.0" stroke-linejoin="round"/>
<polygon points="294.0,488.7 296.8,488.1 299.0,492.6 296.8,493.7" fill="#a8a8a8" stroke="#a8a8a8" stroke-width="4.0" stroke-linejoin="round"/>
<polygon points="385.4,415.8 387.1,415.6 387.3,418.1 385.7,418.3" fill="#a4a4a4" stroke="#a4a4a4" stroke-width="4.0" stroke-linejoin="round"/>
<polygon points="348.2,485.8 350.4,485.6 350.6,488.1 348.4,488.3" fill="#a4a4a4" stroke="#a4a4a4" stroke-width="4.0" stroke-linejoin="round"/>
<polygon points="370.2,483.0 371.9,482.8 372.1,484.9 370.4,485.2" fill="#a4a4a4" stroke="#a4a4a4" stroke-width="4.0" stroke-linejoin="round"/>
<polygon points="319.0,529.3 320.9,529.1 321.1,531.0 319.2,531.2" fill="#a4a4a4" stroke="#a4a4a4" stroke-width="4.0" stroke-linejoin="round"/></g></g>
</g>
<path d="M219.1 548.3L486.3 335.2M363.1 548.3L486.3 450.1" stroke="#000" stroke-width="1" stroke-dasharray="12.4 11.25" fill="none"/>
<path d="M25.4 40.85V549.3M104.1 40.85V549.3M182.8 40.85V549.3M261.6 40.85V549.3M340.3 40.85V549.3M419 40.85V549.3M12.9 70.3H486.6M12.9 154.9H486.6M12.9 239.5H486.6M12.9 324.2H486.6M12.9 408.8H486.6M12.9 493.4H486.6" stroke="#000" stroke-width="1.15" stroke-dasharray="3.1 5.15" fill="none"/>
<g style="font-family:'Liberation Sans',sans-serif;font-size:12.4px;letter-spacing:0.3px" fill="#000" stroke="#000" stroke-width="0.2">
<text x="25.4" y="302.5" text-anchor="middle">-112</text>
<text x="104.1" y="302.5" text-anchor="middle">-110</text>
<text x="182.8" y="302.5" text-anchor="middle">-108</text>
<text x="261.6" y="302.5" text-anchor="middle">-106</text>
<text x="340.3" y="302.5" text-anchor="middle">-104</text>
<text x="419" y="302.5" text-anchor="middle">-102</text>
<text x="242.4" y="70.3" text-anchor="middle">16</text>
<text x="242.4" y="154.9" text-anchor="middle">14</text>
<text x="242.4" y="239.5" text-anchor="middle">12</text>
<text x="242.4" y="324.2" text-anchor="middle">10</text>
<text x="242.4" y="408.8" text-anchor="middle">8</text>
<text x="242.4" y="493.4" text-anchor="middle">6</text>
</g>
<path d="M242.8 292.5h13.2v4.4h-13.2z M247.2 288.1h4.4v13.2h-4.4z" fill="#000"/>
<text x="37" y="65.9" style="font-family:'Liberation Sans',sans-serif;font-size:25px" fill="#000" stroke="#000" stroke-width="0.25">PR max reflectivity projection (dBZ)</text>
<text x="438.2" y="523.3" style="font-family:'Liberation Sans',sans-serif;font-size:30px" fill="#000" stroke="#000" stroke-width="0.25">(b)</text>
<rect x="495" y="531.57" width="9" height="8.76" fill="#f8f8f7"/>
<rect x="495" y="523.11" width="9" height="8.76" fill="#f0f0f0"/>
<rect x="495" y="514.65" width="9" height="8.76" fill="#e8e8e8"/>
<rect x="495" y="506.18" width="9" height="8.76" fill="#e1e1e0"/>
<rect x="495" y="497.72" width="9" height="8.76" fill="#dadad9"/>
<rect x="495" y="489.26" width="9" height="8.76" fill="#d2d2d1"/>
<rect x="495" y="480.79" width="9" height="8.76" fill="#cacaca"/>
<rect x="495" y="472.33" width="9" height="8.76" fill="#c3c3c2"/>
<rect x="495" y="463.87" width="9" height="8.76" fill="#bcbcba"/>
<rect x="495" y="455.40" width="9" height="8.76" fill="#b4b4b3"/>
<rect x="495" y="446.94" width="9" height="8.76" fill="#acacab"/>
<rect x="495" y="438.48" width="9" height="8.76" fill="#a5a5a3"/>
<rect x="495" y="430.01" width="9" height="8.76" fill="#9e9e9c"/>
<rect x="495" y="421.55" width="9" height="8.76" fill="#969694"/>
<rect x="495" y="413.09" width="9" height="8.76" fill="#88e888"/>
<rect x="495" y="404.62" width="9" height="8.76" fill="#80dd80"/>
<rect x="495" y="396.16" width="9" height="8.76" fill="#78d278"/>
<rect x="495" y="387.70" width="9" height="8.76" fill="#70c770"/>
<rect x="495" y="379.23" width="9" height="8.76" fill="#68bc68"/>
<rect x="495" y="370.77" width="9" height="8.76" fill="#d0d4ff"/>
<rect x="495" y="362.31" width="9" height="8.76" fill="#b8d0ff"/>
<rect x="495" y="353.84" width="9" height="8.76" fill="#a0c8ff"/>
<rect x="495" y="345.38" width="9" height="8.76" fill="#88c0ff"/>
<rect x="495" y="336.92" width="9" height="8.76" fill="#70b8ff"/>
<rect x="495" y="328.45" width="9" height="8.76" fill="#50b0ff"/>
<rect x="495" y="319.99" width="9" height="8.76" fill="#4890ff"/>
<rect x="495" y="311.53" width="9" height="8.76" fill="#4470ff"/>
<rect x="495" y="303.06" width="9" height="8.76" fill="#3c50ff"/>
<rect x="495" y="294.60" width="9" height="8.76" fill="#3030ff"/>
<rect x="495" y="286.14" width="9" height="8.76" fill="#0000ff"/>
<rect x="495" y="277.67" width="9" height="8.76" fill="#0202ef"/>
<rect x="495" y="269.21" width="9" height="8.76" fill="#0404e0"/>
<rect x="495" y="260.75" width="9" height="8.76" fill="#0606d0"/>
<rect x="495" y="252.28" width="9" height="8.76" fill="#0808c0"/>
<rect x="495" y="243.82" width="9" height="8.76" fill="#ffff00"/>
<rect x="495" y="235.36" width="9" height="8.76" fill="#fff300"/>
<rect x="495" y="226.89" width="9" height="8.76" fill="#ffe800"/>
<rect x="495" y="218.43" width="9" height="8.76" fill="#ffdc00"/>
<rect x="495" y="209.97" width="9" height="8.76" fill="#ffd000"/>
<rect x="495" y="201.50" width="9" height="8.76" fill="#ff9208"/>
<rect x="495" y="193.04" width="9" height="8.76" fill="#ff8a06"/>
<rect x="495" y="184.58" width="9" height="8.76" fill="#ff8104"/>
<rect x="495" y="176.11" width="9" height="8.76" fill="#ff7802"/>
<rect x="495" y="167.65" width="9" height="8.76" fill="#ff7000"/>
<rect x="495" y="159.19" width="9" height="8.76" fill="#ff4400"/>
<rect x="495" y="150.72" width="9" height="8.76" fill="#ff3902"/>
<rect x="495" y="142.26" width="9" height="8.76" fill="#ff2e04"/>
<rect x="495" y="133.80" width="9" height="8.76" fill="#ff2306"/>
<rect x="495" y="125.33" width="9" height="8.76" fill="#ff1808"/>
<rect x="495" y="116.87" width="9" height="8.76" fill="#cc0000"/>
<rect x="495" y="108.41" width="9" height="8.76" fill="#c10301"/>
<rect x="495" y="99.94" width="9" height="8.76" fill="#b60602"/>
<rect x="495" y="91.48" width="9" height="8.76" fill="#ab0903"/>
<rect x="495" y="83.02" width="9" height="8.76" fill="#a00c04"/>
<rect x="495" y="74.55" width="9" height="8.76" fill="#620e06"/>
<rect x="495" y="66.09" width="9" height="8.76" fill="#60110a"/>
<rect x="495" y="57.63" width="9" height="8.76" fill="#5d140f"/>
<rect x="495" y="49.16" width="9" height="8.76" fill="#5a1714"/>
<rect x="495" y="40.70" width="9" height="8.76" fill="#581a18"/>
<path d="M504 548.50h2M504 497.72h2M504 446.94h2M504 396.16h2M504 345.38h2M504 294.60h2M504 243.82h2M504 193.04h2M504 142.26h2M504 91.48h2" stroke="#000" stroke-width="1" fill="none"/>
<g style="font-family:'Liberation Sans',sans-serif;font-size:20px" fill="#000" stroke="#000" stroke-width="0.25" text-anchor="middle">
<text x="524.1" y="557.00">0</text>
<text x="524.1" y="506.22">6</text>
<text x="524.1" y="455.44">12</text>
<text x="524.1" y="404.66">18</text>
<text x="524.1" y="353.88">24</text>
<text x="524.1" y="303.10">30</text>
<text x="524.1" y="252.32">36</text>
<text x="524.1" y="201.54">42</text>
<text x="524.1" y="150.76">48</text>
<text x="524.1" y="99.98">54</text>
</g>
</g>
<g transform="translate(1181.10,0.00)">
<g clip-path="url(#mapclip)">
<defs><clipPath id="clipc"><polygon points="219.1,548.6 486.7,335.0 486.7,548.6"/></clipPath></defs>
<filter id="fc" filterUnits="userSpaceOnUse" x="180" y="300" width="330" height="270" color-interpolation-filters="sRGB">
<feTurbulence type="fractalNoise" baseFrequency="0.15" numOctaves="2" seed="21" result="dn"/>
<feDisplacementMap in="SourceGraphic" in2="dn" scale="6" xChannelSelector="R" yChannelSelector="G" result="dp"/>
<feGaussianBlur in="dp" stdDeviation="1.2" result="bl"/>
<feTurbulence type="fractalNoise" baseFrequency="0.4" numOctaves="2" seed="3" result="fn0"/>
<feColorMatrix in="fn0" type="matrix" values="1 0 0 0 0 1 0 0 0 0 1 0 0 0 0 0 0 0 0 1" result="fg0"/>
<feComposite in="bl" in2="fg0" operator="arithmetic" k1="0" k2="1" k3="0.1" k4="-0.05" result="fld0"/>
<feComponentTransfer in="fld0" result="col"><feFuncR type="discrete" tableValues="1.000 1.000 1.000 1.000 1.000 1.000 1.000 1.000 1.000 1.000 1.000 1.000 1.000 1.000 1.000 1.000 1.000 1.000 0.502 0.502 0.502 0.502 0.502 0.502 0.502 0.502 0.471 0.471 0.471 0.471 0.471 0.471 0.439 0.439 0.439 0.439 0.722 0.533 0.314 0.267 0.188 0.008 1.000 1.000 1.000 1.000 1.000 1.000 1.000 1.000 1.000 1.000 1.000 1.000 1.000 1.000 1.000 1.000 1.000 1.000"/><feFuncG type="discrete" tableValues="1.000 1.000 1.000 1.000 1.000 1.000 1.000 1.000 1.000 1.000 1.000 1.000 1.000 1.000 1.000 1.000 1.000 1.000 0.867 0.867 0.867 0.867 0.867 0.867 0.867 0.867 0.824 0.824 0.824 0.824 0.824 0.824 0.780 0.780 0.780 0.780 0.816 0.753 0.690 0.439 0.188 0.008 0.267 0.180 0.137 0.137 0.137 0.137 0.137 0.137 0.137 0.137 0.137 0.137 0.137 0.137 0.137 0.137 0.137 0.137"/><feFuncB type="discrete" tableValues="1.000 1.000 1.000 1.000 1.000 1.000 1.000 1.000 1.000 1.000 1.000 1.000 1.000 1.000 1.000 1.000 1.000 1.000 0.502 0.502 0.502 0.502 0.502 0.502 0.502 0.502 0.471 0.471 0.471 0.471 0.471 0.471 0.439 0.439 0.439 0.439 1.000 1.000 1.000 1.000 1.000 0.938 0.000 0.016 0.024 0.024 0.024 0.024 0.024 0.024 0.024 0.024 0.024 0.024 0.024 0.024 0.024 0.024 0.024 0.024"/></feComponentTransfer>
<feComponentTransfer in="fld0" result="t0"><feFuncR type="discrete" tableValues="0 0 0 0 0 0 0 0 0 0 0 0 0 0 0 0 0 0 1 1 1 1 1 1 1 1 1 1 1 1 1 1 1 1 1 1 1 1 1 1 1 1 1 1 1 1 1 1 1 1 1 1 1 1 1 1 1 1 1 1"/></feComponentTransfer>
<feColorMatrix in="t0" type="matrix" values="0 0 0 0 0 0 0 0 0 0 0 0 0 0 0 1 0 0 0 0" result="m0"/>
<feGaussianBlur in="m0" stdDeviation="1.0" result="g0"/>
<feComponentTransfer in="g0" result="e0"><feFuncA type="table" tableValues="0 0 0.95 0.95 0 0"/></feComponentTransfer>
<feMerge><feMergeNode in="col"/><feMergeNode in="e0"/></feMerge>
</filter>
<g clip-path="url(#clipc)"><g filter="url(#fc)"><rect x="180" y="300" width="330" height="270" fill="#000"/>
<polygon points="377.8,436.3 382.9,417.6 403.2,402.4 420.1,390.5 420.1,407.5 411.7,417.6 399.8,424.4 389.6,434.6 382.9,439.7" fill="#686868"/>
<polygon points="404.9,424.4 416.7,416.0 426.9,419.3 435.4,431.2 433.7,441.4 425.2,451.5 418.4,456.6 413.4,441.4 406.6,434.6" fill="#686868"/>
<polygon points="387.9,429.5 399.8,427.8 406.6,438.0 401.5,449.8 391.3,446.4" fill="#686868"/>
<polygon points="443.8,424.4 454.0,417.6 459.1,421.0 450.6,436.3 444.7,434.6" fill="#686868"/>
<polygon points="467.6,360.1 477.7,353.3 487.9,349.9 487.9,390.5 477.7,397.3 469.3,383.8" fill="#686868"/>
<polygon points="419.9,388.7 431.2,377.4 448.1,363.9 466.2,350.3 470.7,352.6 466.2,361.6 472.9,367.3 482.0,361.6 485.9,352.6 488.8,352.6 488.8,388.7 482.0,393.2 475.2,397.8 466.2,402.3 459.4,409.1 452.6,415.8 445.8,418.1 436.8,415.8 430.0,409.1 423.3,402.3 418.7,395.5" fill="#8a8a8a" stroke="#8a8a8a" stroke-width="1.6" stroke-linejoin="round"/>
<polygon points="409.7,420.3 416.5,417.0 423.3,420.3 419.9,427.1 412.0,426.0" fill="#828282" stroke="#828282" stroke-width="1.6" stroke-linejoin="round"/>
<polygon points="421.0,431.6 430.0,428.2 436.8,433.9 436.8,442.9 430.0,448.6 423.3,445.2 421.0,438.4" fill="#868686" stroke="#868686" stroke-width="1.6" stroke-linejoin="round"/>
<polygon points="381.5,415.8 387.1,414.7 390.5,420.3 386.0,429.4 380.3,437.3 378.1,435.0 381.5,427.1" fill="#7d7d7d" stroke="#7d7d7d" stroke-width="1.6" stroke-linejoin="round"/>
<polygon points="402.9,398.9 414.2,389.9 419.9,393.2 412.0,400.0" fill="#6c6c6c" stroke="#6c6c6c" stroke-width="1.6" stroke-linejoin="round"/>
<polygon points="396.2,438.4 399.5,437.3 401.8,447.4 398.4,452.0 396.7,445.2" fill="#828282" stroke="#828282" stroke-width="1.6" stroke-linejoin="round"/>
<polygon points="417.6,452.0 422.1,449.7 425.5,455.4 421.0,458.7" fill="#828282" stroke="#828282" stroke-width="1.6" stroke-linejoin="round"/>
<polygon points="392.8,457.6 397.3,456.5 398.4,461.0 393.9,462.1" fill="#868686" stroke="#868686" stroke-width="1.6" stroke-linejoin="round"/>
<polygon points="346.5,445.2 353.2,438.4 357.8,442.9 351.0,449.7 346.5,457.6 343.1,465.5 339.7,474.6 335.2,480.2 334.0,477.9 338.6,470.0 340.8,461.0" fill="#8a8a8a" stroke="#8a8a8a" stroke-width="1.6" stroke-linejoin="round"/>
<polygon points="329.5,458.7 335.2,453.7 338.6,455.4 334.0,461.0" fill="#8e8e8e" stroke="#8e8e8e" stroke-width="1.6" stroke-linejoin="round"/>
<polygon points="360.0,448.6 362.3,449.7 363.4,459.9 364.5,471.2 369.1,476.8 371.3,481.3 367.9,480.2 362.3,475.7 359.5,467.8 360.0,458.7" fill="#868686" stroke="#868686" stroke-width="1.6" stroke-linejoin="round"/>
<polygon points="383.7,475.7 389.4,473.4 393.9,481.3 396.2,489.2 391.6,490.4 387.1,484.7" fill="#868686" stroke="#868686" stroke-width="1.6" stroke-linejoin="round"/>
<polygon points="378.7,477.9 380.3,477.4 383.7,487.0 382.0,488.1" fill="#797979" stroke="#797979" stroke-width="1.6" stroke-linejoin="round"/>
<polygon points="291.1,488.1 301.3,481.3 303.6,482.5 299.0,491.5 296.8,499.4 293.4,506.2 291.7,499.4" fill="#8a8a8a" stroke="#8a8a8a" stroke-width="1.6" stroke-linejoin="round"/>
<polygon points="321.6,482.5 326.1,480.2 327.8,488.1 326.1,496.0 322.7,497.1 323.3,489.2" fill="#7d7d7d" stroke="#7d7d7d" stroke-width="1.6" stroke-linejoin="round"/>
<polygon points="346.5,488.1 351.0,490.4 353.2,499.4 357.8,510.7 355.5,512.9 349.9,503.9 346.5,496.0" fill="#868686" stroke="#868686" stroke-width="1.6" stroke-linejoin="round"/>
<polygon points="341.9,488.1 345.3,487.0 345.3,492.6 342.5,493.7" fill="#757575" stroke="#757575" stroke-width="1.6" stroke-linejoin="round"/>
<polygon points="343.1,502.8 346.5,501.7 347.6,507.3 344.2,508.4" fill="#757575" stroke="#757575" stroke-width="1.6" stroke-linejoin="round"/>
<polygon points="369.1,485.8 372.4,487.0 374.7,497.1 371.3,501.7 368.5,493.7" fill="#828282" stroke="#828282" stroke-width="1.6" stroke-linejoin="round"/>
<polygon points="372.4,502.8 374.7,502.2 376.4,508.4 374.1,509.6" fill="#717171" stroke="#717171" stroke-width="1.6" stroke-linejoin="round"/>
<polygon points="318.2,510.7 322.7,507.9 325.6,509.6 322.7,514.1 318.8,514.6" fill="#7d7d7d" stroke="#7d7d7d" stroke-width="1.6" stroke-linejoin="round"/>
<polygon points="445.8,426.0 451.5,423.7 452.6,429.4 448.1,433.9 445.8,431.6" fill="#797979" stroke="#797979" stroke-width="1.6" stroke-linejoin="round"/>
<polygon points="440.2,437.3 443.6,436.2 444.2,440.1 441.3,441.2" fill="#6c6c6c" stroke="#6c6c6c" stroke-width="1.6" stroke-linejoin="round"/>
<polygon points="430.0,418.1 436.8,417.0 439.1,420.3 432.3,422.6" fill="#757575" stroke="#757575" stroke-width="1.6" stroke-linejoin="round"/>
<polygon points="389.4,446.3 392.2,445.2 393.3,449.7 390.5,450.3" fill="#717171" stroke="#717171" stroke-width="1.6" stroke-linejoin="round"/>
<polygon points="405.2,449.7 407.4,449.1 408.6,454.2 406.3,454.8" fill="#757575" stroke="#757575" stroke-width="1.6" stroke-linejoin="round"/>
<polygon points="406.3,462.1 409.7,461.0 410.3,464.4 407.4,465.0" fill="#717171" stroke="#717171" stroke-width="1.6" stroke-linejoin="round"/>
<polygon points="266.5,529.3 270.4,528.7 271.5,533.8 267.6,534.4" fill="#828282" stroke="#828282" stroke-width="1.6" stroke-linejoin="round"/>
<polygon points="270.4,543.4 273.2,542.9 274.9,549.1 271.9,549.1" fill="#828282" stroke="#828282" stroke-width="1.6" stroke-linejoin="round"/>
<polygon points="317.3,522.5 320.1,522.0 321.2,532.1 318.4,533.3" fill="#717171" stroke="#717171" stroke-width="1.6" stroke-linejoin="round"/>
<polygon points="324.6,535.5 329.7,529.9 332.0,531.6 327.4,541.2 325.2,540.0" fill="#7d7d7d" stroke="#7d7d7d" stroke-width="1.6" stroke-linejoin="round"/>
<polygon points="353.6,522.5 356.6,522.0 356.8,528.7 354.6,528.7" fill="#6c6c6c" stroke="#6c6c6c" stroke-width="1.6" stroke-linejoin="round"/>
<polygon points="283.6,511.8 285.9,511.6 286.1,513.8 283.9,514.1" fill="#7d7d7d" stroke="#7d7d7d" stroke-width="1.6" stroke-linejoin="round"/>
<polygon points="248.2,536.1 249.8,536.1 249.8,540.0 248.2,540.0" fill="#646464" stroke="#646464" stroke-width="1.6" stroke-linejoin="round"/>
<polygon points="277.8,528.7 279.1,528.7 280.2,532.1 278.9,532.4" fill="#646464" stroke="#646464" stroke-width="1.6" stroke-linejoin="round"/>
<polygon points="344.4,527.6 347.2,527.0 347.8,532.7 345.3,533.3" fill="#606060" stroke="#606060" stroke-width="1.6" stroke-linejoin="round"/>
<polygon points="349.5,543.4 351.2,543.4 351.2,547.9 349.6,547.9" fill="#606060" stroke="#606060" stroke-width="1.6" stroke-linejoin="round"/>
<polygon points="341.6,505.0 345.5,503.9 347.2,508.4 343.3,509.5" fill="#797979" stroke="#797979" stroke-width="1.6" stroke-linejoin="round"/>
<polygon points="372.6,505.0 374.9,504.5 376.0,509.5 373.7,510.1" fill="#686868" stroke="#686868" stroke-width="1.6" stroke-linejoin="round"/>
<polygon points="367.5,497.1 370.4,496.6 371.5,501.6 368.7,502.2" fill="#797979" stroke="#797979" stroke-width="1.6" stroke-linejoin="round"/>
<polygon points="469.6,372.9 477.5,367.3 482.0,375.2 475.2,383.1 470.7,379.7" fill="#2d2d2d"/>
<polygon points="457.1,386.5 464.5,385.9 466.2,392.1 459.4,393.8" fill="#3e3e3e"/>
<polygon points="472.9,352.6 479.7,350.3 482.0,359.4 475.2,363.9" fill="#2d2d2d"/>
<polygon points="445.8,368.4 452.6,363.9 459.4,368.4 463.9,375.2 459.4,379.7 452.6,384.2 448.1,393.2 452.6,400.0 448.1,402.3 443.6,395.5 445.8,384.2 448.1,377.4" fill="#a4a4a4" stroke="#a4a4a4" stroke-width="0.96" stroke-linejoin="round"/>
<polygon points="424.4,395.5 432.3,393.2 434.6,398.9 427.8,402.3" fill="#a4a4a4" stroke="#a4a4a4" stroke-width="0.96" stroke-linejoin="round"/>
<polygon points="436.8,384.2 442.5,383.1 443.6,388.7 437.9,389.9" fill="#a4a4a4" stroke="#a4a4a4" stroke-width="0.96" stroke-linejoin="round"/>
<polygon points="450.4,397.8 459.4,396.6 461.7,402.3 453.7,405.7" fill="#b5b5b5" stroke="#b5b5b5" stroke-width="0.96" stroke-linejoin="round"/>
<polygon points="480.9,361.6 487.1,360.5 488.8,375.2 482.0,374.0" fill="#a4a4a4" stroke="#a4a4a4" stroke-width="0.96" stroke-linejoin="round"/>
<polygon points="463.9,383.1 469.6,381.9 470.7,387.6 465.0,388.7" fill="#9f9f9f" stroke="#9f9f9f" stroke-width="0.96" stroke-linejoin="round"/>
<polygon points="470.7,393.2 475.2,392.1 476.3,396.6 471.8,397.8" fill="#acacac" stroke="#acacac" stroke-width="0.96" stroke-linejoin="round"/>
<polygon points="451.5,359.4 454.9,358.2 456.0,362.7 452.6,363.3" fill="#acacac" stroke="#acacac" stroke-width="0.96" stroke-linejoin="round"/>
<polygon points="344.8,445.2 348.7,442.9 349.3,449.7 345.9,457.6 343.1,459.9 344.2,452.0" fill="#a8a8a8" stroke="#a8a8a8" stroke-width="0.96" stroke-linejoin="round"/>
<polygon points="360.6,459.9 362.8,459.9 363.2,465.5 360.9,465.5" fill="#9f9f9f" stroke="#9f9f9f" stroke-width="0.96" stroke-linejoin="round"/>
<polygon points="294.0,488.7 296.8,488.1 299.0,492.6 296.8,493.7" fill="#9f9f9f" stroke="#9f9f9f" stroke-width="0.96" stroke-linejoin="round"/>
<polygon points="385.4,415.8 387.1,415.6 387.3,418.1 385.7,418.3" fill="#9b9b9b" stroke="#9b9b9b" stroke-width="0.96" stroke-linejoin="round"/>
<polygon points="348.2,485.8 350.4,485.6 350.6,488.1 348.4,488.3" fill="#9b9b9b" stroke="#9b9b9b" stroke-width="0.96" stroke-linejoin="round"/>
<polygon points="370.2,483.0 371.9,482.8 372.1,484.9 370.4,485.2" fill="#9b9b9b" stroke="#9b9b9b" stroke-width="0.96" stroke-linejoin="round"/>
<polygon points="319.0,529.3 320.9,529.1 321.1,531.0 319.2,531.2" fill="#9b9b9b" stroke="#9b9b9b" stroke-width="0.96" stroke-linejoin="round"/></g></g>
</g>
<path d="M219.1 548.3L486.3 335.2M363.1 548.3L486.3 450.1" stroke="#000" stroke-width="1" stroke-dasharray="12.4 11.25" fill="none"/>
<path d="M25.4 40.85V549.3M104.1 40.85V549.3M182.8 40.85V549.3M261.6 40.85V549.3M340.3 40.85V549.3M419 40.85V549.3M12.9 70.3H486.6M12.9 154.9H486.6M12.9 239.5H486.6M12.9 324.2H486.6M12.9 408.8H486.6M12.9 493.4H486.6" stroke="#000" stroke-width="1.15" stroke-dasharray="3.1 5.15" fill="none"/>
<g style="font-family:'Liberation Sans',sans-serif;font-size:12.4px;letter-spacing:0.3px" fill="#000" stroke="#000" stroke-width="0.2">
<text x="25.4" y="302.5" text-anchor="middle">-112</text>
<text x="104.1" y="302.5" text-anchor="middle">-110</text>
<text x="182.8" y="302.5" text-anchor="middle">-108</text>
<text x="261.6" y="302.5" text-anchor="middle">-106</text>
<text x="340.3" y="302.5" text-anchor="middle">-104</text>
<text x="419" y="302.5" text-anchor="middle">-102</text>
<text x="242.4" y="70.3" text-anchor="middle">16</text>
<text x="242.4" y="154.9" text-anchor="middle">14</text>
<text x="242.4" y="239.5" text-anchor="middle">12</text>
<text x="242.4" y="324.2" text-anchor="middle">10</text>
<text x="242.4" y="408.8" text-anchor="middle">8</text>
<text x="242.4" y="493.4" text-anchor="middle">6</text>
</g>
<path d="M242.8 292.5h13.2v4.4h-13.2z M247.2 288.1h4.4v13.2h-4.4z" fill="#000"/>
<text x="36" y="65.9" style="font-family:'Liberation Sans',sans-serif;font-size:25px" fill="#000" stroke="#000" stroke-width="0.25">2A25 near surface rainrate (mm/hr)</text>
<text x="438.2" y="523.3" style="font-family:'Liberation Sans',sans-serif;font-size:30px" fill="#000" stroke="#000" stroke-width="0.25">(c)</text>
<rect x="495" y="531.57" width="9" height="8.76" fill="#88e888"/>
<rect x="495" y="523.11" width="9" height="8.76" fill="#88e888"/>
<rect x="495" y="514.65" width="9" height="8.76" fill="#80dd80"/>
<rect x="495" y="506.18" width="9" height="8.76" fill="#78d278"/>
<rect x="495" y="497.72" width="9" height="8.76" fill="#78d278"/>
<rect x="495" y="489.26" width="9" height="8.76" fill="#70c770"/>
<rect x="495" y="480.79" width="9" height="8.76" fill="#68bc68"/>
<rect x="495" y="472.33" width="9" height="8.76" fill="#d0d4ff"/>
<rect x="495" y="463.87" width="9" height="8.76" fill="#d0d4ff"/>
<rect x="495" y="455.40" width="9" height="8.76" fill="#b8d0ff"/>
<rect x="495" y="446.94" width="9" height="8.76" fill="#a0c8ff"/>
<rect x="495" y="438.48" width="9" height="8.76" fill="#88c0ff"/>
<rect x="495" y="430.01" width="9" height="8.76" fill="#88c0ff"/>
<rect x="495" y="421.55" width="9" height="8.76" fill="#70b8ff"/>
<rect x="495" y="413.09" width="9" height="8.76" fill="#50b0ff"/>
<rect x="495" y="404.62" width="9" height="8.76" fill="#4890ff"/>
<rect x="495" y="396.16" width="9" height="8.76" fill="#4890ff"/>
<rect x="495" y="387.70" width="9" height="8.76" fill="#4470ff"/>
<rect x="495" y="379.23" width="9" height="8.76" fill="#3c50ff"/>
<rect x="495" y="370.77" width="9" height="8.76" fill="#3030ff"/>
<rect x="495" y="362.31" width="9" height="8.76" fill="#3030ff"/>
<rect x="495" y="353.84" width="9" height="8.76" fill="#0000ff"/>
<rect x="495" y="345.38" width="9" height="8.76" fill="#0202ef"/>
<rect x="495" y="336.92" width="9" height="8.76" fill="#0404e0"/>
<rect x="495" y="328.45" width="9" height="8.76" fill="#0404e0"/>
<rect x="495" y="319.99" width="9" height="8.76" fill="#0606d0"/>
<rect x="495" y="311.53" width="9" height="8.76" fill="#0808c0"/>
<rect x="495" y="303.06" width="9" height="8.76" fill="#ffff00"/>
<rect x="495" y="294.60" width="9" height="8.76" fill="#ffff00"/>
<rect x="495" y="286.14" width="9" height="8.76" fill="#fff300"/>
<rect x="495" y="277.67" width="9" height="8.76" fill="#ffe800"/>
<rect x="495" y="269.21" width="9" height="8.76" fill="#ffe800"/>
<rect x="495" y="260.75" width="9" height="8.76" fill="#ffdc00"/>
<rect x="495" y="252.28" width="9" height="8.76" fill="#ffd000"/>
<rect x="495" y="243.82" width="9" height="8.76" fill="#ff9208"/>
<rect x="495" y="235.36" width="9" height="8.76" fill="#ff9208"/>
<rect x="495" y="226.89" width="9" height="8.76" fill="#ff8a06"/>
<rect x="495" y="218.43" width="9" height="8.76" fill="#ff8104"/>
<rect x="495" y="209.97" width="9" height="8.76" fill="#ff7802"/>
<rect x="495" y="201.50" width="9" height="8.76" fill="#ff7000"/>
<rect x="495" y="193.04" width="9" height="8.76" fill="#ff4400"/>
<rect x="495" y="184.58" width="9" height="8.76" fill="#ff4400"/>
<rect x="495" y="176.11" width="9" height="8.76" fill="#ff3902"/>
<rect x="495" y="167.65" width="9" height="8.76" fill="#ff2e04"/>
<rect x="495" y="159.19" width="9" height="8.76" fill="#ff2e04"/>
<rect x="495" y="150.72" width="9" height="8.76" fill="#ff2306"/>
<rect x="495" y="142.26" width="9" height="8.76" fill="#ff1808"/>
<rect x="495" y="133.80" width="9" height="8.76" fill="#cc0000"/>
<rect x="495" y="125.33" width="9" height="8.76" fill="#cc0000"/>
<rect x="495" y="116.87" width="9" height="8.76" fill="#c10301"/>
<rect x="495" y="108.41" width="9" height="8.76" fill="#b60602"/>
<rect x="495" y="99.94" width="9" height="8.76" fill="#b60602"/>
<rect x="495" y="91.48" width="9" height="8.76" fill="#ab0903"/>
<rect x="495" y="83.02" width="9" height="8.76" fill="#a00c04"/>
<rect x="495" y="74.55" width="9" height="8.76" fill="#620e06"/>
<rect x="495" y="66.09" width="9" height="8.76" fill="#60110a"/>
<rect x="495" y="57.63" width="9" height="8.76" fill="#5d140f"/>
<rect x="495" y="49.16" width="9" height="8.76" fill="#5a1714"/>
<rect x="495" y="40.70" width="9" height="8.76" fill="#581a18"/>
<path d="M504 548.50h2M504 497.72h2M504 446.94h2M504 396.16h2M504 345.38h2M504 294.60h2M504 243.82h2M504 193.04h2M504 142.26h2M504 91.48h2" stroke="#000" stroke-width="1" fill="none"/>
<g style="font-family:'Liberation Sans',sans-serif;font-size:20px" fill="#000" stroke="#000" stroke-width="0.25" text-anchor="middle">
<text x="524.1" y="557.00">0</text>
<text x="524.1" y="506.22">6</text>
<text x="524.1" y="455.44">12</text>
<text x="524.1" y="404.66">18</text>
<text x="524.1" y="353.88">24</text>
<text x="524.1" y="303.10">30</text>
<text x="524.1" y="252.32">36</text>
<text x="524.1" y="201.54">42</text>
<text x="524.1" y="150.76">48</text>
<text x="524.1" y="99.98">54</text>
</g>
</g>
<g transform="translate(0.00,590.55)">
<g clip-path="url(#mapclip)">
<defs><clipPath id="clipd"><polygon points="40.2,548.2 190,425.5 330,313.2 486.6,190.0 486.6,548.5"/></clipPath></defs>
<filter id="bd1" filterUnits="userSpaceOnUse" x="20" y="170" width="490" height="400" color-interpolation-filters="sRGB">
<feGaussianBlur in="SourceGraphic" stdDeviation="6"/>
</filter>
<filter id="bd2" filterUnits="userSpaceOnUse" x="20" y="170" width="490" height="400" color-interpolation-filters="sRGB">
<feTurbulence type="fractalNoise" baseFrequency="0.08" numOctaves="2" seed="11" result="dn"/>
<feDisplacementMap in="SourceGraphic" in2="dn" scale="5" xChannelSelector="R" yChannelSelector="G" result="dp"/>
<feGaussianBlur in="dp" stdDeviation="0.8"/>
</filter>
<filter id="pd" filterUnits="userSpaceOnUse" x="-26" y="356" width="582" height="294" color-interpolation-filters="sRGB">
<feTurbulence type="fractalNoise" baseFrequency="0.3" numOctaves="1" seed="5" result="fn"/>
<feColorMatrix in="fn" type="matrix" values="1 0 0 0 0 1 0 0 0 0 1 0 0 0 0 0 0 0 0 1" result="fg"/>
<feComposite in="SourceGraphic" in2="fg" operator="arithmetic" k1="0" k2="1" k3="0.07" k4="-0.035" result="fld"/>
<feFlood x="-24" y="358" width="1" height="1" flood-color="#000" result="px"/>
<feComposite in="px" in2="px" operator="over" x="-26" y="356" width="5" height="5" result="cell"/>
<feTile in="cell" result="grid"/>
<feComposite in="fld" in2="grid" operator="in" result="smp"/>
<feMorphology in="smp" operator="dilate" radius="2 2"/>
</filter>
<filter id="fd" filterUnits="userSpaceOnUse" x="20" y="170" width="490" height="400" color-interpolation-filters="sRGB">
<feTurbulence type="fractalNoise" baseFrequency="0.5" numOctaves="1" seed="5" result="fn0"/>
<feColorMatrix in="fn0" type="matrix" values="1 0 0 0 0 1 0 0 0 0 1 0 0 0 0 0 0 0 0 1" result="fg0"/>
<feComposite in="SourceGraphic" in2="fg0" operator="arithmetic" k1="0" k2="1" k3="0.02" k4="-0.01" result="fld0"/>
<feComponentTransfer in="fld0" result="col"><feFuncR type="discrete" tableValues="1.000 0.971 0.941 0.912 0.882 0.853 0.824 0.794 0.765 0.735 0.706 0.676 0.647 0.618 0.588 0.533 0.502 0.471 0.439 0.408 0.816 0.722 0.627 0.533 0.439 0.314 0.282 0.267 0.235 0.188 0.000 0.008 0.016 0.024 0.031 1.000 1.000 1.000 1.000 1.000 1.000 1.000 1.000 1.000 1.000 1.000 1.000 1.000 1.000 1.000 0.800 0.757 0.714 0.671 0.627 0.384 0.375 0.365 0.355 0.345"/><feFuncG type="discrete" tableValues="1.000 0.971 0.941 0.912 0.882 0.853 0.824 0.794 0.765 0.735 0.706 0.676 0.647 0.618 0.588 0.910 0.867 0.824 0.780 0.737 0.831 0.816 0.784 0.753 0.722 0.690 0.565 0.439 0.314 0.188 0.000 0.008 0.016 0.024 0.031 1.000 0.954 0.908 0.862 0.816 0.573 0.539 0.506 0.473 0.439 0.267 0.224 0.180 0.137 0.094 0.000 0.012 0.024 0.035 0.047 0.055 0.067 0.078 0.090 0.102"/><feFuncB type="discrete" tableValues="1.000 0.970 0.940 0.910 0.880 0.850 0.820 0.790 0.760 0.730 0.700 0.670 0.640 0.610 0.580 0.533 0.502 0.471 0.439 0.408 1.000 1.000 1.000 1.000 1.000 1.000 1.000 1.000 1.000 1.000 1.000 0.938 0.876 0.815 0.753 0.000 0.000 0.000 0.000 0.000 0.031 0.024 0.016 0.008 0.000 0.000 0.008 0.016 0.024 0.031 0.000 0.004 0.008 0.012 0.016 0.024 0.041 0.059 0.076 0.094"/></feComponentTransfer>
<feComponentTransfer in="fld0" result="t0"><feFuncR type="discrete" tableValues="0 0 0 0 0 0 0 0 0 0 0 0 0 0 0 1 1 1 1 1 1 1 1 1 1 1 1 1 1 1 1 1 1 1 1 1 1 1 1 1 1 1 1 1 1 1 1 1 1 1 1 1 1 1 1 1 1 1 1 1"/></feComponentTransfer>
<feColorMatrix in="t0" type="matrix" values="0 0 0 0 0 0 0 0 0 0 0 0 0 0 0 1 0 0 0 0" result="m0"/>
<feGaussianBlur in="m0" stdDeviation="1.0" result="g0"/>
<feComponentTransfer in="g0" result="e0"><feFuncA type="table" tableValues="0 0.35 1 1 0.35 0"/></feComponentTransfer>
<feMerge><feMergeNode in="col"/><feMergeNode in="e0"/></feMerge>
</filter>
<g clip-path="url(#clipd)"><g filter="url(#fd)">
<g transform="rotate(-38.7 270 370)" filter="url(#pd)"><g transform="rotate(38.7 270 370)">
<g filter="url(#bd1)"><rect x="20" y="170" width="490" height="400" fill="#111111"/>
<polygon points="156.1,475.8 190.0,428.4 240.8,391.1 291.6,357.2 318.7,314.9 359.4,299.6 410.2,279.3 444.1,306.4 488.2,323.3 488.2,418.2 444.1,425.0 393.3,418.2 359.4,441.9 325.5,467.3 274.7,484.3 223.9,501.2 156.1,509.7" fill="#191919"/>
<polygon points="435.6,441.9 488.2,428.4 488.2,548.6 359.4,548.6 376.3,492.7" fill="#0e0e0e"/>
<polygon points="444.1,210.3 488.2,184.9 488.2,278.0 444.1,264.5" fill="#111111"/>
<polygon points="261.2,384.3 291.6,369.1 318.7,374.2 318.7,408.0 308.6,435.1 278.1,441.9 257.8,425.0" fill="#2f2f2f"/>
<polygon points="415.3,333.5 454.3,330.1 488.2,345.4 488.2,384.3 469.5,411.4 430.6,418.2 413.6,394.5 427.2,367.4" fill="#2f2f2f"/>
<polygon points="315.4,309.8 352.6,303.0 366.2,319.9 359.4,340.3 325.5,345.4 301.8,357.2 300.1,336.9" fill="#313131"/>
<polygon points="376.3,288.2 403.5,284.8 417.0,305.1 408.5,320.4 384.8,317.0" fill="#313131"/>
<polygon points="342.5,357.2 384.8,353.8 389.9,374.2 359.4,391.1 342.5,384.3" fill="#282828"/>
<polygon points="254.4,428.4 312.0,421.6 315.4,452.1 284.9,458.9 254.4,452.1" fill="#2a2a2a"/>
<polygon points="206.9,421.6 261.2,435.1 264.5,458.9 223.9,458.9 200.2,441.9" fill="#2d2d2d"/>
<polygon points="124.9,458.9 168.9,435.1 199.4,418.2 209.6,435.1 182.5,475.8 158.7,489.3 131.6,496.1" fill="#2d2d2d"/>
<polygon points="328.9,397.9 356.0,397.9 359.4,428.4 342.5,458.9 325.5,452.1" fill="#282828"/>
<polygon points="359.4,384.3 417.0,377.5 420.4,404.6 376.3,408.0" fill="#222222"/>
<polygon points="281.5,469.0 308.6,465.6 312.0,492.7 284.9,496.1" fill="#222222"/>
<polygon points="199.4,421.6 250.2,418.2 253.6,441.9 207.9,445.3" fill="#2a2a2a"/>
<polygon points="382.3,304.3 387.4,297.5 395.8,298.4 401.8,300.1 408.5,305.1 409.4,311.1 403.5,315.0 393.3,312.8 384.8,309.4" fill="#3c3c3c" stroke="#3c3c3c" stroke-width="5" stroke-linejoin="round"/>
<polygon points="387.4,289.9 394.1,288.2 393.3,293.3 389.1,296.7" fill="#3c3c3c" stroke="#3c3c3c" stroke-width="5" stroke-linejoin="round"/>
<polygon points="323.0,335.2 328.1,330.1 329.8,321.6 337.4,314.9 347.5,310.6 356.0,314.9 357.7,321.6 356.0,330.1 349.2,335.2 339.1,337.7 328.9,338.6" fill="#3c3c3c" stroke="#3c3c3c" stroke-width="5" stroke-linejoin="round"/>
<polygon points="306.9,353.8 306.9,345.4 310.3,336.9 317.1,333.2 316.2,338.6 312.8,345.4 312.0,353.0" fill="#3c3c3c" stroke="#3c3c3c" stroke-width="5" stroke-linejoin="round"/>
<polygon points="350.1,381.8 355.2,375.8 361.1,369.1 369.6,364.0 379.7,362.3 380.6,367.4 373.8,372.5 373.0,375.8 364.5,377.5 356.9,382.6" fill="#3c3c3c" stroke="#3c3c3c" stroke-width="5" stroke-linejoin="round"/>
<polygon points="352.6,358.9 356.9,354.7 359.4,359.8" fill="#3c3c3c" stroke="#3c3c3c" stroke-width="5" stroke-linejoin="round"/>
<polygon points="330.9,373.3 335.7,370.8 336.0,373.3 332.3,374.7" fill="#3c3c3c" stroke="#3c3c3c" stroke-width="5" stroke-linejoin="round"/>
<polygon points="268.8,405.5 274.7,401.3 284.9,398.7 290.8,392.8 289.1,384.3 291.6,378.4 298.4,377.5 296.7,384.3 299.3,391.1 305.2,392.8 311.1,382.6 313.7,384.3 308.6,394.5 301.8,397.9 303.5,408.0 298.4,413.1 293.3,415.7 291.6,423.3 281.5,428.4 276.4,419.9 273.0,413.1" fill="#3c3c3c" stroke="#3c3c3c" stroke-width="5" stroke-linejoin="round"/>
<polygon points="301.0,427.5 307.7,423.3 309.4,426.7 305.2,433.4" fill="#3c3c3c" stroke="#3c3c3c" stroke-width="5" stroke-linejoin="round"/>
<polygon points="261.2,433.4 269.6,435.1 278.1,433.4 285.7,435.1 287.4,442.8 281.5,441.1 274.7,442.8 264.5,444.5 267.9,438.5" fill="#3c3c3c" stroke="#3c3c3c" stroke-width="5" stroke-linejoin="round"/>
<polygon points="291.6,445.3 298.4,440.2 306.0,439.4 306.6,444.5 300.1,449.5 295.0,448.7" fill="#3c3c3c" stroke="#3c3c3c" stroke-width="5" stroke-linejoin="round"/>
<polygon points="239.1,447.0 242.5,441.9 246.8,444.5 246.8,451.2 240.0,452.4" fill="#3c3c3c" stroke="#3c3c3c" stroke-width="5" stroke-linejoin="round"/>
<polygon points="249.6,450.4 253.5,448.7 257.4,450.4 256.1,453.1 251.0,453.4" fill="#3c3c3c" stroke="#3c3c3c" stroke-width="5" stroke-linejoin="round"/>
<polygon points="220.0,433.4 223.9,431.8 225.2,436.8 221.3,438.2" fill="#3c3c3c" stroke="#3c3c3c" stroke-width="5" stroke-linejoin="round"/>
<polygon points="181.6,433.4 197.7,422.4 198.6,431.8 192.6,436.0 185.9,436.8" fill="#3c3c3c" stroke="#3c3c3c" stroke-width="5" stroke-linejoin="round"/>
<polygon points="190.9,473.3 199.4,470.7 202.8,469.0 199.4,477.5 192.6,479.2" fill="#3c3c3c" stroke="#3c3c3c" stroke-width="5" stroke-linejoin="round"/>
<polygon points="334.8,422.4 339.1,414.8 342.5,408.0 348.4,406.3 349.6,411.4 345.0,419.9 339.1,423.3" fill="#3c3c3c" stroke="#3c3c3c" stroke-width="5" stroke-linejoin="round"/>
<polygon points="336.0,425.8 339.4,425.0 339.8,428.4 336.7,429.0" fill="#3c3c3c" stroke="#3c3c3c" stroke-width="5" stroke-linejoin="round"/>
<polygon points="340.8,447.0 342.5,441.1 345.9,440.2 345.0,446.1" fill="#3c3c3c" stroke="#3c3c3c" stroke-width="5" stroke-linejoin="round"/>
<polygon points="366.2,392.8 370.4,387.7 376.3,394.5 377.2,397.9 371.3,396.2" fill="#3c3c3c" stroke="#3c3c3c" stroke-width="5" stroke-linejoin="round"/>
<polygon points="393.3,382.6 396.7,382.3 397.5,387.7 394.6,388.6" fill="#3c3c3c" stroke="#3c3c3c" stroke-width="5" stroke-linejoin="round"/>
<polygon points="422.9,348.7 430.6,346.2 439.0,340.3 445.8,338.6 447.5,343.7 444.1,353.8 450.9,347.0 461.0,343.7 462.7,350.4 457.7,360.6 452.6,369.1 457.7,374.2 464.4,370.8 474.6,369.1 481.4,360.6 488.2,356.4 488.2,369.1 479.7,374.2 472.9,377.5 464.4,384.3 466.1,391.1 461.0,397.9 456.0,404.6 449.2,410.6 440.7,406.3 430.6,408.0 424.6,406.3 424.6,397.9 430.6,389.4 435.6,384.3 440.7,377.5 444.1,369.1 442.4,360.6 435.6,357.2 428.9,353.8" fill="#3c3c3c" stroke="#3c3c3c" stroke-width="5" stroke-linejoin="round"/>
<polygon points="325.0,457.2 327.6,456.3 328.1,458.9 325.5,459.7" fill="#3c3c3c" stroke="#3c3c3c" stroke-width="5" stroke-linejoin="round"/>
<polygon points="356.4,417.4 360.3,416.5 360.8,420.2 356.9,420.7" fill="#3c3c3c" stroke="#3c3c3c" stroke-width="5" stroke-linejoin="round"/>
<polygon points="406.8,391.1 410.2,390.8 410.6,394.5 407.5,394.8" fill="#3c3c3c" stroke="#3c3c3c" stroke-width="5" stroke-linejoin="round"/>
<polygon points="140.1,469.0 148.6,460.5 158.7,452.1 168.9,444.5 169.8,450.4 165.5,457.2 172.3,465.6 179.9,473.3 177.4,475.8 168.9,474.9 160.4,479.2 148.6,475.8 141.8,474.1" fill="#3c3c3c" stroke="#3c3c3c" stroke-width="5" stroke-linejoin="round"/>
<polygon points="131.6,482.6 136.7,478.3 141.0,482.6 138.4,487.7 133.3,488.5" fill="#3c3c3c" stroke="#3c3c3c" stroke-width="5" stroke-linejoin="round"/>
<polygon points="428.5,378.4 431.4,377.5 431.9,380.9 429.2,381.4" fill="#3c3c3c" stroke="#3c3c3c" stroke-width="5" stroke-linejoin="round"/></g>
</g></g>
<g filter="url(#bd2)"><polygon points="382.3,304.3 387.4,297.5 395.8,298.4 401.8,300.1 408.5,305.1 409.4,311.1 403.5,315.0 393.3,312.8 384.8,309.4" fill="#4b4b4b" stroke="#4b4b4b" stroke-width="0.8" stroke-linejoin="round"/>
<polygon points="387.4,289.9 394.1,288.2 393.3,293.3 389.1,296.7" fill="#4b4b4b" stroke="#4b4b4b" stroke-width="0.8" stroke-linejoin="round"/>
<polygon points="323.0,335.2 328.1,330.1 329.8,321.6 337.4,314.9 347.5,310.6 356.0,314.9 357.7,321.6 356.0,330.1 349.2,335.2 339.1,337.7 328.9,338.6" fill="#4b4b4b" stroke="#4b4b4b" stroke-width="0.8" stroke-linejoin="round"/>
<polygon points="306.9,353.8 306.9,345.4 310.3,336.9 317.1,333.2 316.2,338.6 312.8,345.4 312.0,353.0" fill="#4b4b4b" stroke="#4b4b4b" stroke-width="0.8" stroke-linejoin="round"/>
<polygon points="350.1,381.8 355.2,375.8 361.1,369.1 369.6,364.0 379.7,362.3 380.6,367.4 373.8,372.5 373.0,375.8 364.5,377.5 356.9,382.6" fill="#4b4b4b" stroke="#4b4b4b" stroke-width="0.8" stroke-linejoin="round"/>
<polygon points="352.6,358.9 356.9,354.7 359.4,359.8" fill="#4b4b4b" stroke="#4b4b4b" stroke-width="0.8" stroke-linejoin="round"/>
<polygon points="330.9,373.3 335.7,370.8 336.0,373.3 332.3,374.7" fill="#4b4b4b" stroke="#4b4b4b" stroke-width="0.8" stroke-linejoin="round"/>
<polygon points="268.8,405.5 274.7,401.3 284.9,398.7 290.8,392.8 289.1,384.3 291.6,378.4 298.4,377.5 296.7,384.3 299.3,391.1 305.2,392.8 311.1,382.6 313.7,384.3 308.6,394.5 301.8,397.9 303.5,408.0 298.4,413.1 293.3,415.7 291.6,423.3 281.5,428.4 276.4,419.9 273.0,413.1" fill="#4b4b4b" stroke="#4b4b4b" stroke-width="0.8" stroke-linejoin="round"/>
<polygon points="301.0,427.5 307.7,423.3 309.4,426.7 305.2,433.4" fill="#4b4b4b" stroke="#4b4b4b" stroke-width="0.8" stroke-linejoin="round"/>
<polygon points="261.2,433.4 269.6,435.1 278.1,433.4 285.7,435.1 287.4,442.8 281.5,441.1 274.7,442.8 264.5,444.5 267.9,438.5" fill="#4b4b4b" stroke="#4b4b4b" stroke-width="0.8" stroke-linejoin="round"/>
<polygon points="291.6,445.3 298.4,440.2 306.0,439.4 306.6,444.5 300.1,449.5 295.0,448.7" fill="#4b4b4b" stroke="#4b4b4b" stroke-width="0.8" stroke-linejoin="round"/>
<polygon points="239.1,447.0 242.5,441.9 246.8,444.5 246.8,451.2 240.0,452.4" fill="#4b4b4b" stroke="#4b4b4b" stroke-width="0.8" stroke-linejoin="round"/>
<polygon points="249.6,450.4 253.5,448.7 257.4,450.4 256.1,453.1 251.0,453.4" fill="#4b4b4b" stroke="#4b4b4b" stroke-width="0.8" stroke-linejoin="round"/>
<polygon points="220.0,433.4 223.9,431.8 225.2,436.8 221.3,438.2" fill="#4b4b4b" stroke="#4b4b4b" stroke-width="0.8" stroke-linejoin="round"/>
<polygon points="181.6,433.4 197.7,422.4 198.6,431.8 192.6,436.0 185.9,436.8" fill="#4b4b4b" stroke="#4b4b4b" stroke-width="0.8" stroke-linejoin="round"/>
<polygon points="190.9,473.3 199.4,470.7 202.8,469.0 199.4,477.5 192.6,479.2" fill="#4b4b4b" stroke="#4b4b4b" stroke-width="0.8" stroke-linejoin="round"/>
<polygon points="334.8,422.4 339.1,414.8 342.5,408.0 348.4,406.3 349.6,411.4 345.0,419.9 339.1,423.3" fill="#4b4b4b" stroke="#4b4b4b" stroke-width="0.8" stroke-linejoin="round"/>
<polygon points="336.0,425.8 339.4,425.0 339.8,428.4 336.7,429.0" fill="#4b4b4b" stroke="#4b4b4b" stroke-width="0.8" stroke-linejoin="round"/>
<polygon points="340.8,447.0 342.5,441.1 345.9,440.2 345.0,446.1" fill="#4b4b4b" stroke="#4b4b4b" stroke-width="0.8" stroke-linejoin="round"/>
<polygon points="366.2,392.8 370.4,387.7 376.3,394.5 377.2,397.9 371.3,396.2" fill="#4b4b4b" stroke="#4b4b4b" stroke-width="0.8" stroke-linejoin="round"/>
<polygon points="393.3,382.6 396.7,382.3 397.5,387.7 394.6,388.6" fill="#4b4b4b" stroke="#4b4b4b" stroke-width="0.8" stroke-linejoin="round"/>
<polygon points="422.9,348.7 430.6,346.2 439.0,340.3 445.8,338.6 447.5,343.7 444.1,353.8 450.9,347.0 461.0,343.7 462.7,350.4 457.7,360.6 452.6,369.1 457.7,374.2 464.4,370.8 474.6,369.1 481.4,360.6 488.2,356.4 488.2,369.1 479.7,374.2 472.9,377.5 464.4,384.3 466.1,391.1 461.0,397.9 456.0,404.6 449.2,410.6 440.7,406.3 430.6,408.0 424.6,406.3 424.6,397.9 430.6,389.4 435.6,384.3 440.7,377.5 444.1,369.1 442.4,360.6 435.6,357.2 428.9,353.8" fill="#4b4b4b" stroke="#4b4b4b" stroke-width="0.8" stroke-linejoin="round"/>
<polygon points="325.0,457.2 327.6,456.3 328.1,458.9 325.5,459.7" fill="#4b4b4b" stroke="#4b4b4b" stroke-width="0.8" stroke-linejoin="round"/>
<polygon points="356.4,417.4 360.3,416.5 360.8,420.2 356.9,420.7" fill="#4b4b4b" stroke="#4b4b4b" stroke-width="0.8" stroke-linejoin="round"/>
<polygon points="406.8,391.1 410.2,390.8 410.6,394.5 407.5,394.8" fill="#4b4b4b" stroke="#4b4b4b" stroke-width="0.8" stroke-linejoin="round"/>
<polygon points="140.1,469.0 148.6,460.5 158.7,452.1 168.9,444.5 169.8,450.4 165.5,457.2 172.3,465.6 179.9,473.3 177.4,475.8 168.9,474.9 160.4,479.2 148.6,475.8 141.8,474.1" fill="#4b4b4b" stroke="#4b4b4b" stroke-width="0.8" stroke-linejoin="round"/>
<polygon points="131.6,482.6 136.7,478.3 141.0,482.6 138.4,487.7 133.3,488.5" fill="#4b4b4b" stroke="#4b4b4b" stroke-width="0.8" stroke-linejoin="round"/>
<polygon points="428.5,378.4 431.4,377.5 431.9,380.9 429.2,381.4" fill="#4b4b4b" stroke="#4b4b4b" stroke-width="0.8" stroke-linejoin="round"/>
<polygon points="390.7,303.4 400.1,300.9 407.7,306.8 403.5,313.6 393.3,311.1" fill="#606060"/>
<polygon points="330.6,328.4 335.7,319.9 349.2,314.9 354.3,321.6 347.5,331.8 335.7,335.2" fill="#606060"/>
<polygon points="295.9,395.3 301.0,394.5 301.8,403.0 296.7,404.6" fill="#5b5b5b"/>
<polygon points="282.3,417.4 289.1,416.5 289.6,422.4 283.2,423.3" fill="#5b5b5b"/>
<polygon points="267.9,436.0 279.8,435.5 274.7,440.2 269.6,441.1" fill="#686868"/>
<polygon points="297.6,442.8 304.3,441.1 303.5,445.3 298.4,447.0" fill="#646464"/>
<polygon points="183.3,432.6 195.2,425.0 196.9,430.9 189.2,435.1" fill="#686868"/>
<polygon points="160.4,472.4 163.8,460.5 170.6,467.3 168.9,473.3" fill="#646464"/>
<polygon points="337.4,419.9 342.5,410.6 347.5,408.0 347.5,413.1 342.5,420.7" fill="#6c6c6c"/>
<polygon points="451.7,347.0 461.0,345.4 460.2,352.1 454.3,354.7" fill="#5b5b5b"/>
<polygon points="433.9,391.1 447.5,386.0 459.4,389.4 456.0,401.3 444.1,404.6 433.9,399.6" fill="#595959"/>
<polygon points="192.6,474.1 199.4,472.1 198.6,476.6 193.5,477.8" fill="#686868"/>
<polygon points="240.8,446.1 245.1,445.3 245.6,449.5 241.7,450.4" fill="#595959"/>
<polygon points="251.0,450.4 256.1,450.0 255.7,452.4 251.3,452.8" fill="#595959"/>
<ellipse cx="404.3" cy="308.5" rx="2.0" ry="1.7" fill="#828282"/>
<ellipse cx="345.0" cy="410.1" rx="2.0" ry="2.4" fill="#868686"/>
<ellipse cx="339.1" cy="325.9" rx="2.4" ry="1.7" fill="#757575"/>
<ellipse cx="273.0" cy="438.2" rx="2.0" ry="1.0" fill="#7d7d7d"/>
<ellipse cx="453.4" cy="401.3" rx="1.7" ry="2.0" fill="#797979"/>
<ellipse cx="457.7" cy="348.7" rx="1.4" ry="1.7" fill="#757575"/></g>
</g></g>
</g>
<path d="M219.1 548.3L486.3 335.2M363.1 548.3L486.3 450.1" stroke="#000" stroke-width="1" stroke-dasharray="12.4 11.25" fill="none"/>
<path d="M25.4 40.85V549.3M104.1 40.85V549.3M182.8 40.85V549.3M261.6 40.85V549.3M340.3 40.85V549.3M419 40.85V549.3M12.9 70.3H486.6M12.9 154.9H486.6M12.9 239.5H486.6M12.9 324.2H486.6M12.9 408.8H486.6M12.9 493.4H486.6" stroke="#000" stroke-width="1.15" stroke-dasharray="3.1 5.15" fill="none"/>
<g style="font-family:'Liberation Sans',sans-serif;font-size:12.4px;letter-spacing:0.3px" fill="#000" stroke="#000" stroke-width="0.2">
<text x="25.4" y="302.5" text-anchor="middle">-112</text>
<text x="104.1" y="302.5" text-anchor="middle">-110</text>
<text x="182.8" y="302.5" text-anchor="middle">-108</text>
<text x="261.6" y="302.5" text-anchor="middle">-106</text>
<text x="340.3" y="302.5" text-anchor="middle">-104</text>
<text x="419" y="302.5" text-anchor="middle">-102</text>
<text x="242.4" y="70.3" text-anchor="middle">16</text>
<text x="242.4" y="154.9" text-anchor="middle">14</text>
<text x="242.4" y="239.5" text-anchor="middle">12</text>
<text x="242.4" y="324.2" text-anchor="middle">10</text>
<text x="242.4" y="408.8" text-anchor="middle">8</text>
<text x="242.4" y="493.4" text-anchor="middle">6</text>
</g>
<path d="M242.8 292.5h13.2v4.4h-13.2z M247.2 288.1h4.4v13.2h-4.4z" fill="#000"/>
<text x="43.5" y="65.9" style="font-family:'Liberation Sans',sans-serif;font-size:25px" fill="#000" stroke="#000" stroke-width="0.25">85GHz PCT (K)</text>
<text x="438.2" y="523.3" style="font-family:'Liberation Sans',sans-serif;font-size:30px" fill="#000" stroke="#000" stroke-width="0.25">(d)</text>
<rect x="495" y="531.57" width="9" height="8.76" fill="#f8f8f7"/>
<rect x="495" y="523.11" width="9" height="8.76" fill="#f0f0f0"/>
<rect x="495" y="514.65" width="9" height="8.76" fill="#e8e8e8"/>
<rect x="495" y="506.18" width="9" height="8.76" fill="#e1e1e0"/>
<rect x="495" y="497.72" width="9" height="8.76" fill="#dadad9"/>
<rect x="495" y="489.26" width="9" height="8.76" fill="#d2d2d1"/>
<rect x="495" y="480.79" width="9" height="8.76" fill="#cacaca"/>
<rect x="495" y="472.33" width="9" height="8.76" fill="#c3c3c2"/>
<rect x="495" y="463.87" width="9" height="8.76" fill="#bcbcba"/>
<rect x="495" y="455.40" width="9" height="8.76" fill="#b4b4b3"/>
<rect x="495" y="446.94" width="9" height="8.76" fill="#acacab"/>
<rect x="495" y="438.48" width="9" height="8.76" fill="#a5a5a3"/>
<rect x="495" y="430.01" width="9" height="8.76" fill="#9e9e9c"/>
<rect x="495" y="421.55" width="9" height="8.76" fill="#969694"/>
<rect x="495" y="413.09" width="9" height="8.76" fill="#88e888"/>
<rect x="495" y="404.62" width="9" height="8.76" fill="#80dd80"/>
<rect x="495" y="396.16" width="9" height="8.76" fill="#78d278"/>
<rect x="495" y="387.70" width="9" height="8.76" fill="#70c770"/>
<rect x="495" y="379.23" width="9" height="8.76" fill="#68bc68"/>
<rect x="495" y="370.77" width="9" height="8.76" fill="#d0d4ff"/>
<rect x="495" y="362.31" width="9" height="8.76" fill="#b8d0ff"/>
<rect x="495" y="353.84" width="9" height="8.76" fill="#a0c8ff"/>
<rect x="495" y="345.38" width="9" height="8.76" fill="#88c0ff"/>
<rect x="495" y="336.92" width="9" height="8.76" fill="#70b8ff"/>
<rect x="495" y="328.45" width="9" height="8.76" fill="#50b0ff"/>
<rect x="495" y="319.99" width="9" height="8.76" fill="#4890ff"/>
<rect x="495" y="311.53" width="9" height="8.76" fill="#4470ff"/>
<rect x="495" y="303.06" width="9" height="8.76" fill="#3c50ff"/>
<rect x="495" y="294.60" width="9" height="8.76" fill="#3030ff"/>
<rect x="495" y="286.14" width="9" height="8.76" fill="#0000ff"/>
<rect x="495" y="277.67" width="9" height="8.76" fill="#0202ef"/>
<rect x="495" y="269.21" width="9" height="8.76" fill="#0404e0"/>
<rect x="495" y="260.75" width="9" height="8.76" fill="#0606d0"/>
<rect x="495" y="252.28" width="9" height="8.76" fill="#0808c0"/>
<rect x="495" y="243.82" width="9" height="8.76" fill="#ffff00"/>
<rect x="495" y="235.36" width="9" height="8.76" fill="#fff300"/>
<rect x="495" y="226.89" width="9" height="8.76" fill="#ffe800"/>
<rect x="495" y="218.43" width="9" height="8.76" fill="#ffdc00"/>
<rect x="495" y="209.97" width="9" height="8.76" fill="#ffd000"/>
<rect x="495" y="201.50" width="9" height="8.76" fill="#ff9208"/>
<rect x="495" y="193.04" width="9" height="8.76" fill="#ff8a06"/>
<rect x="495" y="184.58" width="9" height="8.76" fill="#ff8104"/>
<rect x="495" y="176.11" width="9" height="8.76" fill="#ff7802"/>
<rect x="495" y="167.65" width="9" height="8.76" fill="#ff7000"/>
<rect x="495" y="159.19" width="9" height="8.76" fill="#ff4400"/>
<rect x="495" y="150.72" width="9" height="8.76" fill="#ff3902"/>
<rect x="495" y="142.26" width="9" height="8.76" fill="#ff2e04"/>
<rect x="495" y="133.80" width="9" height="8.76" fill="#ff2306"/>
<rect x="495" y="125.33" width="9" height="8.76" fill="#ff1808"/>
<rect x="495" y="116.87" width="9" height="8.76" fill="#cc0000"/>
<rect x="495" y="108.41" width="9" height="8.76" fill="#c10301"/>
<rect x="495" y="99.94" width="9" height="8.76" fill="#b60602"/>
<rect x="495" y="91.48" width="9" height="8.76" fill="#ab0903"/>
<rect x="495" y="83.02" width="9" height="8.76" fill="#a00c04"/>
<rect x="495" y="74.55" width="9" height="8.76" fill="#620e06"/>
<rect x="495" y="66.09" width="9" height="8.76" fill="#60110a"/>
<rect x="495" y="57.63" width="9" height="8.76" fill="#5d140f"/>
<rect x="495" y="49.16" width="9" height="8.76" fill="#5a1714"/>
<rect x="495" y="40.70" width="9" height="8.76" fill="#581a18"/>
<path d="M504 548.50h2M504 497.72h2M504 446.94h2M504 396.16h2M504 345.38h2M504 294.60h2M504 243.82h2M504 193.04h2M504 142.26h2M504 91.48h2" stroke="#000" stroke-width="1" fill="none"/>
<g style="font-family:'Liberation Sans',sans-serif;font-size:20px" fill="#000" stroke="#000" stroke-width="0.25" text-anchor="middle">
<text x="524.1" y="557.00">300</text>
<text x="524.1" y="506.22">279</text>
<text x="524.1" y="455.44">258</text>
<text x="524.1" y="404.66">237</text>
<text x="524.1" y="353.88">216</text>
<text x="524.1" y="303.10">195</text>
<text x="524.1" y="252.32">174</text>
<text x="524.1" y="201.54">153</text>
<text x="524.1" y="150.76">132</text>
<text x="524.1" y="99.98">111</text>
</g>
</g>
<g transform="translate(590.55,590.55)">
<g clip-path="url(#mapclip)">
<defs><clipPath id="clipe"><polygon points="40.2,548.2 190,425.5 330,313.2 486.6,190.0 486.6,548.5"/></clipPath></defs>
<filter id="be1" filterUnits="userSpaceOnUse" x="0" y="150" width="520" height="430" color-interpolation-filters="sRGB">
<feGaussianBlur in="SourceGraphic" stdDeviation="3.2"/>
</filter>
<filter id="fe" filterUnits="userSpaceOnUse" x="-26" y="356" width="582" height="294" color-interpolation-filters="sRGB">
<feTurbulence type="fractalNoise" baseFrequency="0.3" numOctaves="1" seed="4" result="fn"/>
<feColorMatrix in="fn" type="matrix" values="1 0 0 0 0 1 0 0 0 0 1 0 0 0 0 0 0 0 0 1" result="fg"/>
<feComposite in="SourceGraphic" in2="fg" operator="arithmetic" k1="0" k2="1" k3="0.085" k4="-0.0425" result="fld"/>
<feFlood x="-24" y="358" width="1" height="1" flood-color="#000" result="px"/>
<feComposite in="px" in2="px" operator="over" x="-26" y="356" width="5" height="5" result="cell"/>
<feTile in="cell" result="grid"/>
<feComposite in="fld" in2="grid" operator="in" result="smp"/>
<feMorphology in="smp" operator="dilate" radius="2 2" result="pix"/>
<feComponentTransfer in="pix" result="col"><feFuncR type="discrete" tableValues="1.000 0.971 0.941 0.912 0.882 0.853 0.824 0.794 0.765 0.735 0.706 0.676 0.647 0.618 0.588 0.533 0.502 0.471 0.439 0.408 0.816 0.722 0.627 0.533 0.439 0.314 0.282 0.267 0.235 0.188 0.000 0.008 0.016 0.024 0.031 1.000 1.000 1.000 1.000 1.000 1.000 1.000 1.000 1.000 1.000 1.000 1.000 1.000 1.000 1.000 0.800 0.757 0.714 0.671 0.627 0.384 0.375 0.365 0.355 0.345"/><feFuncG type="discrete" tableValues="1.000 0.971 0.941 0.912 0.882 0.853 0.824 0.794 0.765 0.735 0.706 0.676 0.647 0.618 0.588 0.910 0.867 0.824 0.780 0.737 0.831 0.816 0.784 0.753 0.722 0.690 0.565 0.439 0.314 0.188 0.000 0.008 0.016 0.024 0.031 1.000 0.954 0.908 0.862 0.816 0.573 0.539 0.506 0.473 0.439 0.267 0.224 0.180 0.137 0.094 0.000 0.012 0.024 0.035 0.047 0.055 0.067 0.078 0.090 0.102"/><feFuncB type="discrete" tableValues="1.000 0.970 0.940 0.910 0.880 0.850 0.820 0.790 0.760 0.730 0.700 0.670 0.640 0.610 0.580 0.533 0.502 0.471 0.439 0.408 1.000 1.000 1.000 1.000 1.000 1.000 1.000 1.000 1.000 1.000 1.000 0.938 0.876 0.815 0.753 0.000 0.000 0.000 0.000 0.000 0.031 0.024 0.016 0.008 0.000 0.000 0.008 0.016 0.024 0.031 0.000 0.004 0.008 0.012 0.016 0.024 0.041 0.059 0.076 0.094"/></feComponentTransfer>
</filter>
<g clip-path="url(#clipe)">
<g transform="rotate(-38.7 270 370)" filter="url(#fe)">
<g transform="rotate(38.7 270 370)">
<g filter="url(#be1)"><rect x="0" y="150" width="520" height="430" fill="#464646"/>
<polygon points="21.0,560.5 21.0,509.7 190.5,509.7 292.1,475.8 342.9,441.9 359.9,418.2 410.7,404.6 454.7,408.0 488.6,380.9 488.6,441.9 454.7,458.9 427.6,484.3 410.7,518.1 402.2,560.5" fill="#555555"/>
<polygon points="30.5,560.5 40.6,548.6 81.3,526.6 125.3,514.8 159.2,509.7 182.9,560.5" fill="#585858"/>
<polygon points="292.1,492.7 319.2,484.3 326.0,501.2 309.0,514.8 292.1,509.7" fill="#505050"/>
<polygon points="342.9,458.9 359.9,441.9 376.8,445.3 370.0,469.0 349.7,475.8" fill="#505050"/>
<polygon points="385.3,418.2 403.9,414.8 410.7,435.1 393.7,441.9" fill="#535353"/>
<polygon points="179.5,523.2 210.0,514.8 233.7,526.6 216.8,548.6 182.9,548.6" fill="#505050"/>
<polygon points="180.3,441.9 258.2,377.5 359.9,297.9 381.9,284.4 390.3,279.3 405.6,281.0 403.9,291.1 415.8,299.6 427.6,311.5 441.2,304.7 447.9,291.1 461.5,284.4 458.1,297.9 447.9,311.5 454.7,328.4 468.3,338.6 478.4,345.4 488.6,340.3 488.6,384.3 478.4,391.1 461.5,404.6 454.7,411.4 434.4,414.8 417.5,408.0 402.2,408.0 385.3,411.4 370.0,418.2 359.9,425.0 349.7,438.5 342.9,452.1 332.8,462.2 315.8,469.0 302.3,479.2 292.1,489.3 275.2,496.1 258.2,502.9 241.3,509.7 224.3,511.4 207.4,513.1 190.5,514.8 166.1,518.1 149.1,514.8 132.2,514.8 115.2,523.2 98.3,526.6 81.4,535.1 64.4,540.2 38.0,550.3 38.0,526.6" fill="#616161"/>
<polygon points="241.3,458.9 275.2,452.1 298.9,458.9 292.1,475.8 261.6,486.0 241.3,479.2" fill="#5a5a5a"/>
<polygon points="81.3,523.2 125.3,501.2 166.0,496.1 159.2,509.7 115.2,521.5 84.7,533.4" fill="#5a5a5a"/>
<polygon points="265.0,377.5 278.5,364.0 292.1,357.2 305.6,353.8 309.0,340.3 319.2,345.4 336.1,347.0 339.5,355.5 326.0,358.9 315.8,357.2 309.0,365.7 298.9,369.1 285.3,377.5 275.2,384.3 265.0,384.3" fill="#505050"/>
<polygon points="187.1,428.4 207.4,411.4 224.3,401.3 241.3,397.9 258.2,391.1 261.6,408.0 254.8,421.6 241.3,418.2 224.3,418.2 207.4,425.0 197.2,435.1" fill="#505050"/>
<polygon points="353.1,340.3 370.0,335.2 387.0,338.6 400.5,336.9 410.7,343.7 400.5,357.2 387.0,353.8 370.0,357.2 356.5,353.8" fill="#535353"/>
<polygon points="373.4,379.2 390.3,377.5 393.7,389.4 376.8,391.1" fill="#535353"/>
<polygon points="241.3,384.3 261.6,370.8 268.4,380.9 251.4,394.5" fill="#545454"/>
<polygon points="40.6,548.6 64.3,526.6 81.3,514.8 101.6,516.5 105.0,533.4 81.3,548.6" fill="#565656"/>
<polygon points="309.0,340.3 319.2,323.3 331.1,313.2 353.1,311.5 361.5,323.3 356.5,336.9 342.9,342.0 326.0,343.7" fill="#717171"/>
<polygon points="298.9,360.6 305.6,343.7 315.8,340.3 315.8,353.8 309.0,369.1" fill="#6c6c6c"/>
<polygon points="381.9,306.4 393.7,297.9 410.7,299.6 417.5,313.2 407.3,319.9 390.3,316.6" fill="#717171"/>
<polygon points="266.7,408.0 278.5,394.5 288.7,382.6 312.4,380.9 322.6,387.7 315.8,401.3 305.6,414.8 298.9,428.4 285.3,435.1 271.8,431.8 265.0,421.6" fill="#717171"/>
<polygon points="342.9,384.3 353.1,370.8 370.0,362.3 385.3,364.0 383.6,377.5 366.6,389.4 349.7,394.5" fill="#6c6c6c"/>
<polygon points="414.1,347.0 441.2,333.5 464.9,340.3 475.1,357.2 488.6,352.1 488.6,374.2 471.7,387.7 468.3,401.3 454.7,413.1 434.4,413.1 415.8,406.3 410.7,391.1 424.2,377.5 427.6,364.0" fill="#717171"/>
<polygon points="331.1,425.0 337.8,408.0 349.7,404.6 353.1,411.4 346.3,425.0 342.9,441.9 337.8,452.1 332.8,441.9" fill="#6c6c6c"/>
<polygon points="254.8,441.9 271.8,433.4 292.1,436.8 312.4,443.6 309.0,453.8 285.3,452.1 261.6,452.1" fill="#6e6e6e"/>
<polygon points="200.6,438.5 224.3,433.4 244.7,440.2 261.6,448.7 254.8,458.9 231.1,455.5 207.4,448.7" fill="#6e6e6e"/>
<polygon points="359.9,397.9 376.8,387.7 393.7,384.3 410.7,391.1 403.9,404.6 380.2,408.0 363.2,408.0" fill="#666666"/>
<polygon points="125.3,482.6 138.9,462.2 159.2,445.3 172.8,441.9 179.5,452.1 193.1,458.9 210.0,469.0 206.6,482.6 182.9,486.0 159.2,484.3 138.9,489.3" fill="#717171"/>
<polygon points="176.1,435.1 193.1,419.9 204.9,425.0 206.6,436.8 193.1,441.9" fill="#717171"/>
<polygon points="89.7,508.0 103.3,497.0 106.7,502.9 98.2,509.7" fill="#757575"/>
<polygon points="115.2,492.7 132.1,486.0 138.9,496.1 121.9,502.9" fill="#686868"/>
<polygon points="326.0,328.4 331.1,319.9 339.5,316.6 351.4,318.2 354.8,326.7 348.0,335.2 336.1,336.9" fill="#8e8e8e"/>
<polygon points="288.7,386.0 309.0,384.3 315.8,389.4 309.0,399.6 298.9,411.4 292.1,425.0 278.5,428.4 270.1,418.2 271.8,408.0 281.9,399.6" fill="#8c8c8c"/>
<polygon points="420.8,347.0 441.2,338.6 461.5,345.4 464.9,357.2 454.7,367.4 464.9,380.9 461.5,394.5 451.3,406.3 434.4,408.0 419.1,401.3 417.5,391.1 432.7,380.9 441.2,370.8 434.4,360.6" fill="#8a8a8a"/>
<polygon points="464.9,370.8 488.6,355.5 488.6,365.7 470.0,382.6" fill="#868686"/>
<polygon points="351.4,380.9 359.9,370.8 373.4,364.0 381.9,367.4 373.4,377.5 359.9,387.7 351.4,389.4" fill="#828282"/>
<polygon points="334.4,423.3 339.5,411.4 346.3,408.0 350.5,410.6 342.9,423.3" fill="#888888"/>
<polygon points="387.0,304.7 398.8,301.3 409.0,308.1 405.6,314.9 393.7,311.5" fill="#868686"/>
<polygon points="132.1,475.8 142.3,465.6 155.8,452.1 164.3,446.1 171.1,450.4 169.4,465.6 179.5,472.4 182.9,477.5 171.1,480.9 155.8,477.5 142.3,482.6 132.1,484.3" fill="#8c8c8c"/>
<polygon points="181.2,433.4 193.1,422.4 199.9,426.7 201.5,433.4 191.4,436.0" fill="#8a8a8a"/>
<polygon points="189.7,477.5 196.5,469.0 204.9,472.4 201.5,480.0 193.1,480.9" fill="#888888"/>
<polygon points="263.3,438.5 275.2,436.8 278.5,443.6 266.7,445.3" fill="#808080"/>
<polygon points="292.1,441.9 305.6,443.6 307.3,450.4 293.8,449.5" fill="#7d7d7d"/>
<polygon points="215.9,438.5 229.4,436.8 232.8,443.6 219.2,445.3" fill="#7d7d7d"/>
<polygon points="237.9,447.0 254.8,450.4 253.1,456.3 239.6,453.8" fill="#7d7d7d"/>
<polygon points="417.5,377.5 434.4,369.1 454.7,365.7 464.9,369.1 454.7,377.5 434.4,380.9 420.8,386.0" fill="#757575"/></g>
<polygon points="454.7,210.3 464.9,208.7 464.9,211.1 454.7,212.6" fill="#3a3a3a"/>
<polygon points="464.9,217.9 473.4,216.6 473.4,219.0 464.9,220.3" fill="#3a3a3a"/>
<polygon points="447.9,230.6 471.7,227.0 471.7,229.8 447.9,233.3" fill="#3a3a3a"/>
<polygon points="476.7,234.0 486.9,232.5 486.9,235.2 476.7,236.7" fill="#3a3a3a"/>
<polygon points="458.1,239.1 464.9,238.1 464.9,240.1 458.1,241.1" fill="#3a3a3a"/>
<polygon points="471.7,223.8 478.4,222.8 478.4,224.8 471.7,225.9" fill="#3a3a3a"/>
<polygon points="456.4,251.8 463.2,250.8 463.2,252.8 456.4,253.8" fill="#3a3a3a"/>
<polygon points="481.8,259.4 486.1,258.8 486.1,261.1 481.8,261.8" fill="#3a3a3a"/>
<polygon points="436.1,232.3 442.9,231.3 442.9,233.0 436.1,234.0" fill="#3a3a3a"/>
<polygon points="461.5,201.8 468.3,200.8 468.3,202.5 461.5,203.5" fill="#3a3a3a"/>
</g></g>
<polygon points="336.5,325.7 339.5,324.0 345.5,324.3 342.4,326.4" fill="#ffff00"/>
<polygon points="162.6,463.4 165.1,461.6 168.0,461.9 165.5,463.9" fill="#ffff00"/>
</g>
</g>
<path d="M219.1 548.3L486.3 335.2M363.1 548.3L486.3 450.1" stroke="#000" stroke-width="1" stroke-dasharray="12.4 11.25" fill="none"/>
<path d="M25.4 40.85V549.3M104.1 40.85V549.3M182.8 40.85V549.3M261.6 40.85V549.3M340.3 40.85V549.3M419 40.85V549.3M12.9 70.3H486.6M12.9 154.9H486.6M12.9 239.5H486.6M12.9 324.2H486.6M12.9 408.8H486.6M12.9 493.4H486.6" stroke="#000" stroke-width="1.15" stroke-dasharray="3.1 5.15" fill="none"/>
<g style="font-family:'Liberation Sans',sans-serif;font-size:12.4px;letter-spacing:0.3px" fill="#000" stroke="#000" stroke-width="0.2">
<text x="25.4" y="302.5" text-anchor="middle">-112</text>
<text x="104.1" y="302.5" text-anchor="middle">-110</text>
<text x="182.8" y="302.5" text-anchor="middle">-108</text>
<text x="261.6" y="302.5" text-anchor="middle">-106</text>
<text x="340.3" y="302.5" text-anchor="middle">-104</text>
<text x="419" y="302.5" text-anchor="middle">-102</text>
<text x="242.4" y="70.3" text-anchor="middle">16</text>
<text x="242.4" y="154.9" text-anchor="middle">14</text>
<text x="242.4" y="239.5" text-anchor="middle">12</text>
<text x="242.4" y="324.2" text-anchor="middle">10</text>
<text x="242.4" y="408.8" text-anchor="middle">8</text>
<text x="242.4" y="493.4" text-anchor="middle">6</text>
</g>
<path d="M242.8 292.5h13.2v4.4h-13.2z M247.2 288.1h4.4v13.2h-4.4z" fill="#000"/>
<text x="43.5" y="65.9" style="font-family:'Liberation Sans',sans-serif;font-size:25px" fill="#000" stroke="#000" stroke-width="0.25">37GHz PCT (K)</text>
<text x="438.2" y="523.3" style="font-family:'Liberation Sans',sans-serif;font-size:30px" fill="#000" stroke="#000" stroke-width="0.25">(e)</text>
<rect x="495" y="531.57" width="9" height="8.76" fill="#f8f8f7"/>
<rect x="495" y="523.11" width="9" height="8.76" fill="#f0f0f0"/>
<rect x="495" y="514.65" width="9" height="8.76" fill="#e8e8e8"/>
<rect x="495" y="506.18" width="9" height="8.76" fill="#e1e1e0"/>
<rect x="495" y="497.72" width="9" height="8.76" fill="#dadad9"/>
<rect x="495" y="489.26" width="9" height="8.76" fill="#d2d2d1"/>
<rect x="495" y="480.79" width="9" height="8.76" fill="#cacaca"/>
<rect x="495" y="472.33" width="9" height="8.76" fill="#c3c3c2"/>
<rect x="495" y="463.87" width="9" height="8.76" fill="#bcbcba"/>
<rect x="495" y="455.40" width="9" height="8.76" fill="#b4b4b3"/>
<rect x="495" y="446.94" width="9" height="8.76" fill="#acacab"/>
<rect x="495" y="438.48" width="9" height="8.76" fill="#a5a5a3"/>
<rect x="495" y="430.01" width="9" height="8.76" fill="#9e9e9c"/>
<rect x="495" y="421.55" width="9" height="8.76" fill="#969694"/>
<rect x="495" y="413.09" width="9" height="8.76" fill="#88e888"/>
<rect x="495" y="404.62" width="9" height="8.76" fill="#80dd80"/>
<rect x="495" y="396.16" width="9" height="8.76" fill="#78d278"/>
<rect x="495" y="387.70" width="9" height="8.76" fill="#70c770"/>
<rect x="495" y="379.23" width="9" height="8.76" fill="#68bc68"/>
<rect x="495" y="370.77" width="9" height="8.76" fill="#d0d4ff"/>
<rect x="495" y="362.31" width="9" height="8.76" fill="#b8d0ff"/>
<rect x="495" y="353.84" width="9" height="8.76" fill="#a0c8ff"/>
<rect x="495" y="345.38" width="9" height="8.76" fill="#88c0ff"/>
<rect x="495" y="336.92" width="9" height="8.76" fill="#70b8ff"/>
<rect x="495" y="328.45" width="9" height="8.76" fill="#50b0ff"/>
<rect x="495" y="319.99" width="9" height="8.76" fill="#4890ff"/>
<rect x="495" y="311.53" width="9" height="8.76" fill="#4470ff"/>
<rect x="495" y="303.06" width="9" height="8.76" fill="#3c50ff"/>
<rect x="495" y="294.60" width="9" height="8.76" fill="#3030ff"/>
<rect x="495" y="286.14" width="9" height="8.76" fill="#0000ff"/>
<rect x="495" y="277.67" width="9" height="8.76" fill="#0202ef"/>
<rect x="495" y="269.21" width="9" height="8.76" fill="#0404e0"/>
<rect x="495" y="260.75" width="9" height="8.76" fill="#0606d0"/>
<rect x="495" y="252.28" width="9" height="8.76" fill="#0808c0"/>
<rect x="495" y="243.82" width="9" height="8.76" fill="#ffff00"/>
<rect x="495" y="235.36" width="9" height="8.76" fill="#fff300"/>
<rect x="495" y="226.89" width="9" height="8.76" fill="#ffe800"/>
<rect x="495" y="218.43" width="9" height="8.76" fill="#ffdc00"/>
<rect x="495" y="209.97" width="9" height="8.76" fill="#ffd000"/>
<rect x="495" y="201.50" width="9" height="8.76" fill="#ff9208"/>
<rect x="495" y="193.04" width="9" height="8.76" fill="#ff8a06"/>
<rect x="495" y="184.58" width="9" height="8.76" fill="#ff8104"/>
<rect x="495" y="176.11" width="9" height="8.76" fill="#ff7802"/>
<rect x="495" y="167.65" width="9" height="8.76" fill="#ff7000"/>
<rect x="495" y="159.19" width="9" height="8.76" fill="#ff4400"/>
<rect x="495" y="150.72" width="9" height="8.76" fill="#ff3902"/>
<rect x="495" y="142.26" width="9" height="8.76" fill="#ff2e04"/>
<rect x="495" y="133.80" width="9" height="8.76" fill="#ff2306"/>
<rect x="495" y="125.33" width="9" height="8.76" fill="#ff1808"/>
<rect x="495" y="116.87" width="9" height="8.76" fill="#cc0000"/>
<rect x="495" y="108.41" width="9" height="8.76" fill="#c10301"/>
<rect x="495" y="99.94" width="9" height="8.76" fill="#b60602"/>
<rect x="495" y="91.48" width="9" height="8.76" fill="#ab0903"/>
<rect x="495" y="83.02" width="9" height="8.76" fill="#a00c04"/>
<rect x="495" y="74.55" width="9" height="8.76" fill="#620e06"/>
<rect x="495" y="66.09" width="9" height="8.76" fill="#60110a"/>
<rect x="495" y="57.63" width="9" height="8.76" fill="#5d140f"/>
<rect x="495" y="49.16" width="9" height="8.76" fill="#5a1714"/>
<rect x="495" y="40.70" width="9" height="8.76" fill="#581a18"/>
<path d="M504 548.50h2M504 497.72h2M504 446.94h2M504 396.16h2M504 345.38h2M504 294.60h2M504 243.82h2M504 193.04h2M504 142.26h2M504 91.48h2" stroke="#000" stroke-width="1" fill="none"/>
<g style="font-family:'Liberation Sans',sans-serif;font-size:20px" fill="#000" stroke="#000" stroke-width="0.25" text-anchor="middle">
<text x="524.1" y="557.00">315</text>
<text x="524.1" y="506.22">306</text>
<text x="524.1" y="455.44">297</text>
<text x="524.1" y="404.66">288</text>
<text x="524.1" y="353.88">279</text>
<text x="524.1" y="303.10">270</text>
<text x="524.1" y="252.32">261</text>
<text x="524.1" y="201.54">252</text>
<text x="524.1" y="150.76">243</text>
<text x="524.1" y="99.98">234</text>
</g>
</g>
<g transform="translate(1181.10,590.55)">
<g clip-path="url(#mapclip)">
<defs><clipPath id="clipf"><polygon points="40.2,548.2 190,425.5 330,313.2 486.6,190.0 486.6,548.5"/></clipPath></defs>
<filter id="bf1" filterUnits="userSpaceOnUse" x="0" y="150" width="520" height="430" color-interpolation-filters="sRGB">
<feGaussianBlur in="SourceGraphic" stdDeviation="0.9"/>
</filter>
<filter id="ff" filterUnits="userSpaceOnUse" x="-26" y="356" width="582" height="294" color-interpolation-filters="sRGB">
<feTurbulence type="fractalNoise" baseFrequency="0.25" numOctaves="1" seed="9" result="fn"/>
<feColorMatrix in="fn" type="matrix" values="1 0 0 0 0 1 0 0 0 0 1 0 0 0 0 0 0 0 0 1" result="fg"/>
<feComposite in="SourceGraphic" in2="fg" operator="arithmetic" k1="0.8" k2="0.6" k3="0" k4="0" result="fld"/>
<feFlood x="-25" y="357" width="1" height="1" flood-color="#000" result="px"/>
<feComposite in="px" in2="px" operator="over" x="-26" y="356" width="3" height="3" result="cell"/>
<feTile in="cell" result="grid"/>
<feComposite in="fld" in2="grid" operator="in" result="smp"/>
<feMorphology in="smp" operator="dilate" radius="1 1" result="pix"/>
<feComponentTransfer in="pix" result="col"><feFuncR type="discrete" tableValues="1.000 0.533 0.533 0.502 0.471 0.471 0.439 0.408 0.816 0.816 0.722 0.627 0.533 0.533 0.439 0.314 0.282 0.282 0.267 0.235 0.188 0.188 0.000 0.008 0.016 0.016 0.024 0.031 1.000 1.000 1.000 1.000 1.000 1.000 1.000 1.000 1.000 1.000 1.000 1.000 1.000 1.000 1.000 1.000 1.000 1.000 1.000 1.000 0.800 0.800 0.757 0.714 0.714 0.671 0.627 0.384 0.375 0.365 0.355 0.345"/><feFuncG type="discrete" tableValues="1.000 0.910 0.910 0.867 0.824 0.824 0.780 0.737 0.831 0.831 0.816 0.784 0.753 0.753 0.722 0.690 0.565 0.565 0.439 0.314 0.188 0.188 0.000 0.008 0.016 0.016 0.024 0.031 1.000 1.000 0.954 0.908 0.908 0.862 0.816 0.573 0.573 0.539 0.506 0.473 0.439 0.267 0.267 0.224 0.180 0.180 0.137 0.094 0.000 0.000 0.012 0.024 0.024 0.035 0.047 0.055 0.067 0.078 0.090 0.102"/><feFuncB type="discrete" tableValues="1.000 0.533 0.533 0.502 0.471 0.471 0.439 0.408 1.000 1.000 1.000 1.000 1.000 1.000 1.000 1.000 1.000 1.000 1.000 1.000 1.000 1.000 1.000 0.938 0.876 0.876 0.815 0.753 0.000 0.000 0.000 0.000 0.000 0.000 0.000 0.031 0.031 0.024 0.016 0.008 0.000 0.000 0.000 0.008 0.016 0.016 0.024 0.031 0.000 0.000 0.004 0.008 0.008 0.012 0.016 0.024 0.041 0.059 0.076 0.094"/></feComponentTransfer>
<feComponentTransfer in="pix" result="t0"><feFuncR type="discrete" tableValues="0 1 1 1 1 1 1 1 1 1 1 1 1 1 1 1 1 1 1 1 1 1 1 1 1 1 1 1 1 1 1 1 1 1 1 1 1 1 1 1 1 1 1 1 1 1 1 1 1 1 1 1 1 1 1 1 1 1 1 1"/></feComponentTransfer>
<feColorMatrix in="t0" type="matrix" values="0 0 0 0 0 0 0 0 0 0 0 0 0 0 0 1 0 0 0 0" result="m0"/>
<feGaussianBlur in="m0" stdDeviation="1.0" result="g0"/>
<feComponentTransfer in="g0" result="e0"><feFuncA type="table" tableValues="0 0.35 1 1 0.35 0"/></feComponentTransfer>
<feMerge><feMergeNode in="col"/><feMergeNode in="e0"/></feMerge>
</filter>
<g clip-path="url(#clipf)">
<g transform="rotate(-38.7 270 370)" filter="url(#ff)">
<g transform="rotate(38.7 270 370)">
<g filter="url(#bf1)"><rect x="0" y="150" width="520" height="430" fill="#000"/>
<polygon points="305.1,334.0 301.7,327.2 333.9,302.6 339.0,308.6 350.8,305.2 362.7,300.1 376.2,300.1 383.0,296.7 386.4,283.2 403.4,283.2 408.4,300.1 418.6,306.9 425.4,308.6 423.7,334.0 430.5,335.7 440.6,327.2 437.2,318.7 442.3,310.3 449.1,312.0 447.4,323.8 450.8,330.6 460.9,337.4 471.1,347.5 477.9,345.8 488.1,339.1 488.1,393.3 477.9,398.4 467.7,403.4 460.9,415.3 450.8,422.1 444.0,437.3 433.8,445.8 425.4,456.0 418.6,461.9 401.7,440.7 395.7,444.1 402.5,454.3 394.9,461.0 392.3,469.5 389.0,469.5 387.3,454.3 384.7,445.8 376.2,440.7 371.2,425.5 362.7,422.1 350.8,422.1 347.4,425.5 352.5,435.6 350.0,445.8 355.9,456.0 361.0,466.1 359.3,476.3 366.1,484.8 372.9,488.1 379.6,478.0 389.8,474.6 396.6,479.7 393.2,493.2 386.4,496.6 381.3,491.5 371.2,493.2 369.5,500.0 372.9,510.2 372.0,523.7 374.6,530.5 367.8,528.8 366.1,516.9 362.7,503.4 359.3,489.8 352.5,483.1 342.4,483.1 339.0,484.8 342.4,496.6 347.4,506.8 350.8,520.3 355.9,530.5 352.5,537.3 349.1,530.5 342.4,513.6 335.6,511.9 335.6,496.6 333.9,484.8 328.8,484.8 330.5,474.6 323.7,462.7 322.0,456.0 311.9,454.3 308.5,462.7 301.7,476.3 300.0,484.8 298.3,496.6 291.5,503.4 289.0,511.9 282.2,510.2 285.6,500.0 282.2,491.5 283.9,486.5 291.5,478.0 300.0,474.6 301.7,461.0 296.6,459.3 291.5,454.3 283.1,452.6 274.6,457.7 267.8,462.7 261.1,471.2 259.4,483.1 254.3,486.5 247.5,489.8 245.8,496.6 240.7,503.4 239.0,506.8 240.7,493.2 237.3,486.5 223.8,486.5 210.2,496.6 200.1,493.2 183.1,494.9 183.1,422.1 198.4,422.1 200.1,427.2 210.2,423.8 220.4,427.2 230.6,423.8 239.0,422.1 247.5,428.9 257.7,428.9 262.7,422.1 262.7,408.5 266.1,401.8 269.5,391.6 274.6,384.8 288.2,378.0 298.3,376.3 301.7,367.9 305.1,354.3" fill="#0b0b0b"/>
<polygon points="53.8,533.4 62.3,533.4 74.1,531.7 77.5,524.9 84.3,518.1 94.4,519.0 102.9,519.8 108.0,513.1 118.2,504.6 124.9,506.3 135.1,508.0 141.9,516.5 150.3,515.6 158.8,510.5 163.9,516.5 172.4,509.7 179.1,503.7 182.5,509.7 189.3,506.3 191.0,497.8 197.8,494.4 206.2,495.3 214.7,499.5 219.8,491.9 231.7,491.0 238.4,486.0 245.2,489.3 241.8,497.8 240.1,506.3 245.2,502.9 246.9,491.0 255.4,487.7 260.5,482.6 262.1,472.4 270.6,463.9 275.7,457.2 274.0,425.0 263.8,414.8 260.5,426.7 255.4,430.1 246.9,427.5 240.1,420.7 230.0,423.3 219.8,426.7 211.3,423.3 207.9,425.0 199.5,425.0 196.1,419.9 189.3,418.2 53.8,526.6" fill="#0b0b0b"/>
<polygon points="275.8,357.7 281.4,353.5 288.2,354.3 287.3,359.4 282.2,363.1 277.1,361.9" fill="#0b0b0b"/>
<polygon points="233.9,389.9 240.7,384.8 247.5,380.6 250.0,385.7 245.8,392.4 239.0,394.6" fill="#0b0b0b"/>
<polygon points="210.2,409.4 218.7,403.4 226.3,397.5 224.6,403.4 219.5,409.4 212.8,411.9" fill="#0b0b0b"/>
<polygon points="451.6,286.6 457.6,279.8 463.5,273.0 462.6,284.9 459.3,295.0 455.0,301.0 453.3,293.3" fill="#0b0b0b"/>
<polygon points="437.6,275.5 444.0,274.4 444.9,277.7 440.6,278.9" fill="#0b0b0b"/>
<polygon points="289.0,347.5 294.1,342.5 294.9,345.8 291.5,349.2" fill="#0b0b0b"/>
<polygon points="199.8,536.8 204.6,535.4 204.9,543.6 201.2,544.9" fill="#0b0b0b"/>
<polygon points="240.1,538.8 242.2,538.1 246.1,542.2 243.9,542.9" fill="#0b0b0b"/>
<polygon points="261.3,533.4 265.5,532.0 270.6,543.6 268.9,548.6 263.8,548.6" fill="#0b0b0b"/>
<polygon points="200.1,539.0 204.3,538.1 205.1,545.7 200.9,545.7" fill="#0b0b0b"/>
<polygon points="321.2,539.8 325.4,533.9 326.3,537.3 322.9,543.2" fill="#0b0b0b"/>
<polygon points="340.7,547.4 344.9,540.7 348.3,547.4" fill="#0b0b0b"/>
<polygon points="480.4,334.0 485.5,332.3 486.0,335.7 481.6,337.4" fill="#0b0b0b"/>
<polygon points="477.9,401.8 488.1,393.3 488.1,403.4 481.3,408.5" fill="#0b0b0b"/>
<polygon points="342.4,367.9 367.8,361.1 393.2,367.9 418.6,381.4 410.1,395.0 384.7,388.2 359.3,384.8 342.4,378.0" fill="#161616"/>
<polygon points="423.7,340.8 444.0,347.5 454.2,367.9 440.6,378.0 427.1,367.9" fill="#151515"/>
<polygon points="271.2,408.5 291.5,405.1 308.5,415.3 305.1,428.9 284.8,425.5 271.2,418.7" fill="#141414"/>
<polygon points="401.7,408.5 427.1,405.1 440.6,422.1 423.7,435.6 406.7,425.5" fill="#151515"/>
<polygon points="206.2,430.1 240.1,428.4 257.1,441.9 231.7,452.1 206.2,441.9" fill="#141414"/>
<polygon points="138.5,475.8 172.4,472.4 189.3,489.3 165.6,499.5 141.9,492.7" fill="#141414"/>
<polygon points="388.1,298.4 401.7,291.6 415.2,306.9 418.6,317.0 410.1,323.8 398.3,313.7 389.8,308.6" fill="#313131"/>
<polygon points="398.3,306.9 410.1,308.6 416.9,315.4 411.8,320.4 401.7,313.7" fill="#606060"/>
<polygon points="362.7,305.2 372.9,303.5 373.7,310.3 364.4,311.1" fill="#2d2d2d"/>
<polygon points="325.4,327.2 339.0,320.4 352.5,322.1 361.0,327.2 352.5,334.0 339.0,332.3 330.5,335.7" fill="#2d2d2d"/>
<polygon points="347.4,356.0 359.3,357.7 367.8,362.8 366.1,366.2 354.2,362.8 347.4,359.4" fill="#353535"/>
<polygon points="476.2,356.0 488.1,350.9 488.1,378.0 481.3,381.4 476.2,369.6" fill="#393939"/>
<polygon points="438.9,386.5 450.8,381.4 464.3,378.0 477.9,374.6 474.5,388.2 467.7,401.8 454.2,411.9 444.0,415.3 435.5,405.1" fill="#2f2f2f"/>
<polygon points="449.1,400.1 459.3,395.0 460.9,403.4 452.5,408.5" fill="#606060"/>
<polygon points="425.4,350.9 433.8,347.5 454.2,344.2 457.6,354.3 440.6,357.7 427.1,357.7" fill="#282828"/>
<polygon points="335.6,408.5 345.8,406.8 347.4,422.1 342.4,439.0 337.3,428.9" fill="#353535"/>
<polygon points="337.3,428.9 345.8,435.6 349.1,450.9 342.4,454.3 337.3,444.1" fill="#464646"/>
<polygon points="264.4,433.9 284.8,432.2 305.1,437.3 311.9,445.8 298.3,447.5 278.0,442.4 264.4,440.7" fill="#313131"/>
<polygon points="298.3,440.7 308.5,441.6 309.3,445.8 300.0,445.8" fill="#686868"/>
<polygon points="205.1,439.0 223.8,442.4 244.1,447.5 267.8,452.6 266.1,461.0 254.3,459.3 237.3,454.3 217.0,449.2 205.1,445.8" fill="#353535"/>
<polygon points="250.9,449.2 264.4,452.6 264.4,459.3 254.3,457.7" fill="#646464"/>
<polygon points="284.8,479.7 298.3,478.0 296.6,493.2 289.8,503.4 285.6,496.6" fill="#353535"/>
<polygon points="189.9,425.5 196.7,427.2 195.0,435.6 189.9,435.6" fill="#2d2d2d"/>
<polygon points="193.3,471.2 213.6,472.9 215.3,479.7 196.7,478.0" fill="#313131"/>
<polygon points="281.4,401.8 311.9,406.8 318.6,411.9 308.5,411.9 284.8,406.8" fill="#282828"/>
<polygon points="423.7,432.2 430.5,430.5 430.5,444.1 423.7,444.1" fill="#2d2d2d"/>
<polygon points="328.8,371.3 335.6,371.3 337.3,378.0 330.5,378.0" fill="#353535"/>
<polygon points="237.3,384.8 244.1,383.1 245.8,389.9 239.0,391.6" fill="#282828"/>
<polygon points="455.9,281.5 460.9,279.8 460.1,289.9 456.2,290.8" fill="#282828"/>
<polygon points="182.5,428.4 196.1,425.0 197.8,435.1 185.9,438.5" fill="#2d2d2d"/>
<polygon points="204.6,438.5 214.7,438.5 216.4,443.6 206.2,444.5" fill="#3e3e3e"/>
<polygon points="160.5,463.9 172.4,465.6 174.1,474.1 162.2,474.1" fill="#2d2d2d"/>
<polygon points="189.3,470.7 216.4,469.0 218.1,475.8 199.5,480.9 189.3,479.2" fill="#2d2d2d"/>
<polygon points="172.4,484.3 182.5,484.3 182.5,490.2 173.2,490.2" fill="#6c6c6c"/>
<polygon points="111.4,486.0 121.5,486.0 121.5,491.0 112.2,491.9" fill="#3e3e3e"/>
<polygon points="89.4,504.6 99.5,504.6 99.5,511.4 91.1,511.4" fill="#3e3e3e"/>
<polygon points="152.0,491.0 158.8,486.0 160.5,497.8 153.7,501.2" fill="#2d2d2d"/>
<polygon points="135.1,482.6 141.9,482.6 141.0,487.7 135.9,487.7" fill="#282828"/>
<polygon points="314.4,349.2 322.0,346.2 335.6,347.5 330.5,352.6 323.7,357.7 315.3,361.1" fill="#000000"/>
<polygon points="379.6,327.2 387.3,323.8 389.0,330.6 384.7,340.8 379.6,348.4 375.4,345.8 377.1,335.7" fill="#000000"/>
<polygon points="391.5,339.1 402.5,335.7 404.2,340.8 400.0,352.6 394.9,361.1 386.4,362.8 383.0,357.7 386.4,347.5" fill="#000000"/>
<polygon points="318.6,374.6 325.4,370.4 326.8,374.6 323.7,380.1 318.3,380.6" fill="#000000"/>
<polygon points="332.2,393.3 339.0,391.6 339.8,396.7 336.4,405.1 330.5,406.0 329.7,400.1" fill="#000000"/>
<polygon points="327.1,411.9 335.6,407.7 335.9,411.9 332.2,420.4 328.0,426.3 322.9,427.2 324.6,418.7" fill="#000000"/>
<polygon points="362.7,413.6 369.5,408.5 377.1,408.5 376.2,413.6 369.5,417.8 363.5,420.4" fill="#000000"/>
<polygon points="313.6,444.1 320.3,439.0 325.4,432.2 332.2,432.2 333.9,439.0 328.8,445.8 318.6,450.0" fill="#000000"/>
<polygon points="340.7,484.8 342.4,471.2 349.1,456.0 357.6,454.3 352.5,471.2 350.8,483.1" fill="#000000"/>
<polygon points="425.4,310.3 435.5,312.0 438.9,323.8 430.5,334.0 424.5,332.3" fill="#000000"/>
<polygon points="394.0,409.4 400.0,406.8 405.0,417.0 400.0,419.5 395.7,416.1" fill="#000000"/>
<polygon points="405.0,408.5 415.2,405.1 420.3,411.9 416.9,418.7 408.4,419.5" fill="#000000"/>
<polygon points="389.0,435.6 391.5,422.1 398.3,418.7 395.7,428.9 392.3,435.6" fill="#000000"/>
<polygon points="423.7,417.0 428.8,414.5 427.9,417.0 424.5,419.5" fill="#000000"/>
<polygon points="366.9,339.1 372.0,336.5 372.9,338.2 367.8,341.6" fill="#000000"/>
<polygon points="336.9,383.1 341.5,380.6 342.0,382.8 337.6,385.1" fill="#000000"/>
<polygon points="170.7,458.9 177.4,454.6 192.7,452.9 192.7,458.9 188.5,464.8 182.5,467.3 178.3,463.1 172.4,464.8" fill="#000000"/>
<polygon points="200.3,455.5 205.4,452.4 208.3,457.2 206.2,463.9 200.8,463.9" fill="#000000"/>
<polygon points="215.6,461.4 221.5,457.2 227.9,455.8 225.7,459.7 217.3,463.9" fill="#000000"/>
<polygon points="247.8,468.2 254.5,465.6 255.7,469.0 251.1,473.3 247.8,478.3 244.9,477.5" fill="#000000"/>
<polygon points="217.8,482.6 222.3,480.9 222.8,484.3 218.4,485.6" fill="#000000"/>
<polygon points="217.0,481.4 222.9,479.7 223.4,483.1 217.9,484.8" fill="#000000"/></g>
</g></g>
<ellipse cx="282.2" cy="378.9" rx="3.7" ry="6.4" fill="none" stroke="#000" stroke-width="1.6" transform="rotate(-35 282.2 378.9)"/>
<ellipse cx="355.1" cy="301.8" rx="3.7" ry="6.8" fill="none" stroke="#000" stroke-width="1.6" transform="rotate(-10 355.1 301.8)"/>
<ellipse cx="447.4" cy="426.3" rx="3.7" ry="6.4" fill="none" stroke="#000" stroke-width="1.6" transform="rotate(-55 447.4 426.3)"/>
<ellipse cx="400.0" cy="412.8" rx="3.7" ry="6.4" fill="none" stroke="#000" stroke-width="1.6" transform="rotate(-30 400.0 412.8)"/>
</g>
</g>
<path d="M219.1 548.3L486.3 335.2M363.1 548.3L486.3 450.1" stroke="#000" stroke-width="1" stroke-dasharray="12.4 11.25" fill="none"/>
<path d="M25.4 40.85V549.3M104.1 40.85V549.3M182.8 40.85V549.3M261.6 40.85V549.3M340.3 40.85V549.3M419 40.85V549.3M12.9 70.3H486.6M12.9 154.9H486.6M12.9 239.5H486.6M12.9 324.2H486.6M12.9 408.8H486.6M12.9 493.4H486.6" stroke="#000" stroke-width="1.15" stroke-dasharray="3.1 5.15" fill="none"/>
<g style="font-family:'Liberation Sans',sans-serif;font-size:12.4px;letter-spacing:0.3px" fill="#000" stroke="#000" stroke-width="0.2">
<text x="25.4" y="302.5" text-anchor="middle">-112</text>
<text x="104.1" y="302.5" text-anchor="middle">-110</text>
<text x="182.8" y="302.5" text-anchor="middle">-108</text>
<text x="261.6" y="302.5" text-anchor="middle">-106</text>
<text x="340.3" y="302.5" text-anchor="middle">-104</text>
<text x="419" y="302.5" text-anchor="middle">-102</text>
<text x="242.4" y="70.3" text-anchor="middle">16</text>
<text x="242.4" y="154.9" text-anchor="middle">14</text>
<text x="242.4" y="239.5" text-anchor="middle">12</text>
<text x="242.4" y="324.2" text-anchor="middle">10</text>
<text x="242.4" y="408.8" text-anchor="middle">8</text>
<text x="242.4" y="493.4" text-anchor="middle">6</text>
</g>
<path d="M242.8 292.5h13.2v4.4h-13.2z M247.2 288.1h4.4v13.2h-4.4z" fill="#000"/>
<text x="36" y="65.9" style="font-family:'Liberation Sans',sans-serif;font-size:25px" fill="#000" stroke="#000" stroke-width="0.25">2A12 rainrate (mm/hr)</text>
<text x="438.2" y="523.3" style="font-family:'Liberation Sans',sans-serif;font-size:30px" fill="#000" stroke="#000" stroke-width="0.25">(f)</text>
<rect x="495" y="531.57" width="9" height="8.76" fill="#88e888"/>
<rect x="495" y="523.11" width="9" height="8.76" fill="#88e888"/>
<rect x="495" y="514.65" width="9" height="8.76" fill="#80dd80"/>
<rect x="495" y="506.18" width="9" height="8.76" fill="#78d278"/>
<rect x="495" y="497.72" width="9" height="8.76" fill="#78d278"/>
<rect x="495" y="489.26" width="9" height="8.76" fill="#70c770"/>
<rect x="495" y="480.79" width="9" height="8.76" fill="#68bc68"/>
<rect x="495" y="472.33" width="9" height="8.76" fill="#d0d4ff"/>
<rect x="495" y="463.87" width="9" height="8.76" fill="#d0d4ff"/>
<rect x="495" y="455.40" width="9" height="8.76" fill="#b8d0ff"/>
<rect x="495" y="446.94" width="9" height="8.76" fill="#a0c8ff"/>
<rect x="495" y="438.48" width="9" height="8.76" fill="#88c0ff"/>
<rect x="495" y="430.01" width="9" height="8.76" fill="#88c0ff"/>
<rect x="495" y="421.55" width="9" height="8.76" fill="#70b8ff"/>
<rect x="495" y="413.09" width="9" height="8.76" fill="#50b0ff"/>
<rect x="495" y="404.62" width="9" height="8.76" fill="#4890ff"/>
<rect x="495" y="396.16" width="9" height="8.76" fill="#4890ff"/>
<rect x="495" y="387.70" width="9" height="8.76" fill="#4470ff"/>
<rect x="495" y="379.23" width="9" height="8.76" fill="#3c50ff"/>
<rect x="495" y="370.77" width="9" height="8.76" fill="#3030ff"/>
<rect x="495" y="362.31" width="9" height="8.76" fill="#3030ff"/>
<rect x="495" y="353.84" width="9" height="8.76" fill="#0000ff"/>
<rect x="495" y="345.38" width="9" height="8.76" fill="#0202ef"/>
<rect x="495" y="336.92" width="9" height="8.76" fill="#0404e0"/>
<rect x="495" y="328.45" width="9" height="8.76" fill="#0404e0"/>
<rect x="495" y="319.99" width="9" height="8.76" fill="#0606d0"/>
<rect x="495" y="311.53" width="9" height="8.76" fill="#0808c0"/>
<rect x="495" y="303.06" width="9" height="8.76" fill="#ffff00"/>
<rect x="495" y="294.60" width="9" height="8.76" fill="#ffff00"/>
<rect x="495" y="286.14" width="9" height="8.76" fill="#fff300"/>
<rect x="495" y="277.67" width="9" height="8.76" fill="#ffe800"/>
<rect x="495" y="269.21" width="9" height="8.76" fill="#ffe800"/>
<rect x="495" y="260.75" width="9" height="8.76" fill="#ffdc00"/>
<rect x="495" y="252.28" width="9" height="8.76" fill="#ffd000"/>
<rect x="495" y="243.82" width="9" height="8.76" fill="#ff9208"/>
<rect x="495" y="235.36" width="9" height="8.76" fill="#ff9208"/>
<rect x="495" y="226.89" width="9" height="8.76" fill="#ff8a06"/>
<rect x="495" y="218.43" width="9" height="8.76" fill="#ff8104"/>
<rect x="495" y="209.97" width="9" height="8.76" fill="#ff7802"/>
<rect x="495" y="201.50" width="9" height="8.76" fill="#ff7000"/>
<rect x="495" y="193.04" width="9" height="8.76" fill="#ff4400"/>
<rect x="495" y="184.58" width="9" height="8.76" fill="#ff4400"/>
<rect x="495" y="176.11" width="9" height="8.76" fill="#ff3902"/>
<rect x="495" y="167.65" width="9" height="8.76" fill="#ff2e04"/>
<rect x="495" y="159.19" width="9" height="8.76" fill="#ff2e04"/>
<rect x="495" y="150.72" width="9" height="8.76" fill="#ff2306"/>
<rect x="495" y="142.26" width="9" height="8.76" fill="#ff1808"/>
<rect x="495" y="133.80" width="9" height="8.76" fill="#cc0000"/>
<rect x="495" y="125.33" width="9" height="8.76" fill="#cc0000"/>
<rect x="495" y="116.87" width="9" height="8.76" fill="#c10301"/>
<rect x="495" y="108.41" width="9" height="8.76" fill="#b60602"/>
<rect x="495" y="99.94" width="9" height="8.76" fill="#b60602"/>
<rect x="495" y="91.48" width="9" height="8.76" fill="#ab0903"/>
<rect x="495" y="83.02" width="9" height="8.76" fill="#a00c04"/>
<rect x="495" y="74.55" width="9" height="8.76" fill="#620e06"/>
<rect x="495" y="66.09" width="9" height="8.76" fill="#60110a"/>
<rect x="495" y="57.63" width="9" height="8.76" fill="#5d140f"/>
<rect x="495" y="49.16" width="9" height="8.76" fill="#5a1714"/>
<rect x="495" y="40.70" width="9" height="8.76" fill="#581a18"/>
<path d="M504 548.50h2M504 497.72h2M504 446.94h2M504 396.16h2M504 345.38h2M504 294.60h2M504 243.82h2M504 193.04h2M504 142.26h2M504 91.48h2" stroke="#000" stroke-width="1" fill="none"/>
<g style="font-family:'Liberation Sans',sans-serif;font-size:20px" fill="#000" stroke="#000" stroke-width="0.25" text-anchor="middle">
<text x="524.1" y="557.00">0</text>
<text x="524.1" y="506.22">6</text>
<text x="524.1" y="455.44">12</text>
<text x="524.1" y="404.66">18</text>
<text x="524.1" y="353.88">24</text>
<text x="524.1" y="303.10">30</text>
<text x="524.1" y="252.32">36</text>
<text x="524.1" y="201.54">42</text>
<text x="524.1" y="150.76">48</text>
<text x="524.1" y="99.98">54</text>
</g>
</g>
<g transform="translate(0.00,1181.10)">
<g clip-path="url(#mapclip)">
<defs><clipPath id="clipg"><polygon points="49.3,548.3 190,431.6 340,312.6 486.6,197.5 486.6,548.5"/></clipPath></defs>
<filter id="fg" filterUnits="userSpaceOnUse" x="20" y="170" width="490" height="400" color-interpolation-filters="sRGB">
<feTurbulence type="fractalNoise" baseFrequency="0.09" numOctaves="4" seed="3" result="dn"/>
<feDisplacementMap in="SourceGraphic" in2="dn" scale="14" xChannelSelector="R" yChannelSelector="G" result="dp"/>
<feGaussianBlur in="dp" stdDeviation="1.1" result="bl"/>
<feTurbulence type="fractalNoise" baseFrequency="0.045" numOctaves="3" seed="12" result="fn0"/>
<feColorMatrix in="fn0" type="matrix" values="1 0 0 0 0 1 0 0 0 0 1 0 0 0 0 0 0 0 0 1" result="fg0"/>
<feComposite in="bl" in2="fg0" operator="arithmetic" k1="0" k2="1" k3="0.1" k4="-0.05" result="fld0"/>
<feTurbulence type="fractalNoise" baseFrequency="0.4" numOctaves="2" seed="7" result="fn1"/>
<feColorMatrix in="fn1" type="matrix" values="1 0 0 0 0 1 0 0 0 0 1 0 0 0 0 0 0 0 0 1" result="fg1"/>
<feComposite in="fld0" in2="fg1" operator="arithmetic" k1="0" k2="1" k3="0.04" k4="-0.02" result="fld1"/>
<feComponentTransfer in="fld1" result="col"><feFuncR type="discrete" tableValues="1.000 0.971 0.941 0.912 0.882 0.853 0.824 0.794 0.765 0.735 0.706 0.676 0.647 0.618 0.588 0.533 0.502 0.471 0.439 0.408 0.816 0.722 0.627 0.533 0.439 0.314 0.282 0.267 0.235 0.188 0.000 0.008 0.016 0.024 0.031 1.000 1.000 1.000 1.000 1.000 1.000 1.000 1.000 1.000 1.000 1.000 1.000 1.000 1.000 1.000 0.800 0.757 0.714 0.671 0.627 0.384 0.375 0.365 0.355 0.345"/><feFuncG type="discrete" tableValues="1.000 0.971 0.941 0.912 0.882 0.853 0.824 0.794 0.765 0.735 0.706 0.676 0.647 0.618 0.588 0.910 0.867 0.824 0.780 0.737 0.831 0.816 0.784 0.753 0.722 0.690 0.565 0.439 0.314 0.188 0.000 0.008 0.016 0.024 0.031 1.000 0.954 0.908 0.862 0.816 0.573 0.539 0.506 0.473 0.439 0.267 0.224 0.180 0.137 0.094 0.000 0.012 0.024 0.035 0.047 0.055 0.067 0.078 0.090 0.102"/><feFuncB type="discrete" tableValues="1.000 0.970 0.940 0.910 0.880 0.850 0.820 0.790 0.760 0.730 0.700 0.670 0.640 0.610 0.580 0.533 0.502 0.471 0.439 0.408 1.000 1.000 1.000 1.000 1.000 1.000 1.000 1.000 1.000 1.000 1.000 0.938 0.876 0.815 0.753 0.000 0.000 0.000 0.000 0.000 0.031 0.024 0.016 0.008 0.000 0.000 0.008 0.016 0.024 0.031 0.000 0.004 0.008 0.012 0.016 0.024 0.041 0.059 0.076 0.094"/></feComponentTransfer>
<feComponentTransfer in="fld1" result="t0"><feFuncR type="discrete" tableValues="0 0 0 0 0 0 0 0 0 0 0 0 0 0 0 1 1 1 1 1 1 1 1 1 1 1 1 1 1 1 1 1 1 1 1 1 1 1 1 1 1 1 1 1 1 1 1 1 1 1 1 1 1 1 1 1 1 1 1 1"/></feComponentTransfer>
<feColorMatrix in="t0" type="matrix" values="0 0 0 0 0 0 0 0 0 0 0 0 0 0 0 1 0 0 0 0" result="m0"/>
<feGaussianBlur in="m0" stdDeviation="1.0" result="g0"/>
<feComponentTransfer in="g0" result="e0"><feFuncA type="table" tableValues="0 0 0.9 0.9 0 0"/></feComponentTransfer>
<feComponentTransfer in="fld1" result="t1"><feFuncR type="discrete" tableValues="0 0 0 0 0 0 0 0 0 0 0 0 0 0 0 0 0 0 0 0 0 0 0 0 0 0 0 0 0 0 0 0 0 0 0 1 1 1 1 1 1 1 1 1 1 1 1 1 1 1 1 1 1 1 1 1 1 1 1 1"/></feComponentTransfer>
<feColorMatrix in="t1" type="matrix" values="0 0 0 0 0 0 0 0 0 0 0 0 0 0 0 1 0 0 0 0" result="m1"/>
<feGaussianBlur in="m1" stdDeviation="1.0" result="g1"/>
<feComponentTransfer in="g1" result="e1"><feFuncA type="table" tableValues="0 0 0.9 0.9 0 0"/></feComponentTransfer>
<feComponentTransfer in="fld1" result="t2"><feFuncR type="discrete" tableValues="0 0 0 0 0 0 0 0 0 0 0 0 0 0 0 0 0 0 0 0 0 0 0 0 0 0 0 0 0 0 0 0 0 0 0 0 0 0 0 0 0 0 0 0 0 1 1 1 1 1 1 1 1 1 1 1 1 1 1 1"/></feComponentTransfer>
<feColorMatrix in="t2" type="matrix" values="0 0 0 0 0 0 0 0 0 0 0 0 0 0 0 1 0 0 0 0" result="m2"/>
<feGaussianBlur in="m2" stdDeviation="1.0" result="g2"/>
<feComponentTransfer in="g2" result="e2"><feFuncA type="table" tableValues="0 0 0.9 0.9 0 0"/></feComponentTransfer>
<feMerge><feMergeNode in="col"/><feMergeNode in="e0"/><feMergeNode in="e1"/><feMergeNode in="e2"/></feMerge>
</filter>
<g clip-path="url(#clipg)"><g filter="url(#fg)">
<rect x="20" y="170" width="490" height="400" fill="#797979"/>
<polygon points="398.4,316.4 415.3,324.9 454.3,328.3 461.0,341.9 485.6,348.6 485.6,311.4 454.3,287.6 432.2,277.5 423.8,294.4 410.2,311.4" fill="#606060"/>
<polygon points="430.6,253.8 454.3,247.0 467.8,267.3 461.0,287.6 440.7,301.2 427.2,287.6 423.8,270.7" fill="#646464"/>
<polygon points="318.7,441.4 342.5,434.6 359.4,441.4 366.2,458.3 352.6,475.2 342.5,492.2 335.7,509.1 322.1,492.2 312.0,458.3" fill="#646464"/>
<polygon points="284.9,458.3 308.6,451.5 312.0,468.5 298.4,485.4 281.5,488.8" fill="#646464"/>
<polygon points="202.6,475.2 226.3,458.3 243.3,461.7 236.5,478.6 216.2,500.7 206.0,514.2 192.5,509.1" fill="#646464"/>
<polygon points="366.2,309.2 400.1,316.0 398.4,324.5 376.3,322.8" fill="#606060"/>
<polygon points="330.6,383.8 342.5,380.4 357.7,385.5 359.4,397.3 367.9,407.5 376.3,417.6 369.6,422.7 357.7,414.3 347.5,407.5 337.4,397.3" fill="#8a8a8a"/>
<polygon points="384.8,388.8 391.6,397.3 396.7,417.6 393.3,434.6 386.5,424.4 378.0,414.3 379.7,400.7" fill="#8a8a8a"/>
<polygon points="315.4,383.8 325.5,393.9 335.7,404.1 339.1,417.6 337.4,434.6 325.5,441.4 315.4,434.6 308.6,424.4 313.7,400.7" fill="#8a8a8a"/>
<polygon points="342.5,338.0 352.6,331.3 364.5,327.9 369.6,344.8 362.8,355.0 352.6,348.2 345.9,358.4 342.5,370.2 339.1,356.7" fill="#8a8a8a"/>
<polygon points="362.8,304.1 373.0,299.1 376.3,312.6 386.5,314.3 389.9,322.8 384.8,344.8 374.7,339.7 369.6,326.2 366.2,314.3" fill="#8a8a8a"/>
<polygon points="400.1,344.8 410.2,346.5 417.0,355.0 430.6,360.1 450.9,353.3 454.3,358.4 439.0,366.8 417.0,370.2 405.1,371.9 400.1,360.1" fill="#8a8a8a"/>
<polygon points="217.1,449.8 230.7,451.5 247.6,453.2 264.5,463.4 271.3,480.3 261.2,483.7 247.6,475.2 234.0,465.1 223.9,468.5 217.1,475.2" fill="#8a8a8a"/>
<polygon points="284.9,448.1 298.4,449.8 308.6,444.8 306.9,458.3 291.6,465.1 281.5,461.7" fill="#8a8a8a"/>
<polygon points="112.8,548.1 116.2,541.3 129.8,534.5 134.9,529.5 145.0,532.8 158.6,529.5 165.4,532.8 167.1,548.1" fill="#8a8a8a"/>
<polygon points="50.2,548.1 73.9,528.6 77.3,532.8 75.6,539.6 90.8,541.3 94.2,548.1" fill="#8a8a8a"/>
<polygon points="185.7,500.7 192.5,488.8 202.6,476.9 209.4,480.3 202.6,492.2 192.5,507.4" fill="#8a8a8a"/>
<polygon points="454.3,214.8 467.8,209.7 478.0,214.8 485.6,223.3 485.6,238.5 476.3,240.2 461.0,233.4" fill="#8a8a8a"/>
<polygon points="440.7,260.5 454.3,253.8 464.4,260.5 454.3,270.7 444.1,270.7" fill="#8a8a8a"/>
<polygon points="430.6,302.9 447.5,299.5 454.3,309.7 440.7,316.4 430.6,311.4" fill="#8a8a8a"/>
<polygon points="339.1,488.8 349.2,482.0 359.4,492.2 352.6,507.4 342.5,509.1" fill="#8a8a8a"/>
<polygon points="461.0,383.8 485.6,383.8 485.6,397.3 471.2,399.0 457.7,405.8" fill="#8a8a8a"/>
<polygon points="366.2,295.7 364.5,314.3 367.9,322.8 359.4,329.6 349.2,332.9 342.5,338.0 340.8,346.5 343.3,360.1 339.1,368.5 332.3,377.0 323.8,380.4 315.4,377.0 317.1,387.2 314.5,397.3 316.2,407.5 318.7,417.6 312.0,427.8 306.9,434.6 308.6,444.8 298.4,449.8 284.9,448.1 279.8,458.3 276.4,471.9 271.3,480.3 264.5,468.5 257.8,461.7 247.6,451.5 235.7,451.5 220.5,446.4 217.1,451.5 206.9,465.1 196.8,473.6 183.2,476.9 183.2,424.4 291.6,344.8 359.4,292.3" fill="#8a8a8a" stroke="#8a8a8a" stroke-width="2.5" stroke-linejoin="round"/>
<polygon points="209.4,468.5 202.6,476.9 192.5,488.8 185.7,500.7 180.6,514.2 175.5,522.7 163.7,526.1 156.9,529.5 143.3,534.5 134.9,529.5 128.1,534.5 114.5,541.3 111.2,548.1 95.9,548.1 90.8,541.3 77.3,539.6 73.9,528.6 107.8,500.7 158.6,460.0 192.5,432.9 219.6,449.8" fill="#8a8a8a" stroke="#8a8a8a" stroke-width="2.5" stroke-linejoin="round"/>
<polygon points="367.9,327.9 373.0,339.7 381.4,344.8 386.5,331.3 393.3,327.9 395.0,339.7 388.2,346.5 389.9,356.7 400.1,360.1 401.8,371.9 408.5,373.6 417.0,370.2 427.2,368.5 444.1,365.1 454.3,356.7 464.4,351.6 467.8,360.1 461.0,366.8 474.6,368.5 488.2,363.4 488.2,383.8 478.0,385.5 467.8,397.3 457.7,404.1 447.5,407.5 435.6,414.3 427.2,417.6 418.7,422.7 410.2,434.6 405.1,446.4 400.1,441.4 398.4,427.8 393.3,434.6 388.2,424.4 389.9,407.5 384.8,390.5 379.7,400.7 379.7,417.6 373.0,422.7 366.2,419.3 369.6,412.6 359.4,407.5 361.1,397.3 356.0,390.5 345.9,383.8 340.8,377.0 343.3,360.1 340.8,346.5 349.2,339.7 356.0,344.8 362.8,355.0 369.6,344.8 366.2,334.6" fill="#8a8a8a" stroke="#8a8a8a" stroke-width="2.5" stroke-linejoin="round"/>
<polygon points="408.5,334.6 417.0,331.3 427.2,327.9 444.1,326.2 450.9,331.3 454.3,341.4 450.9,351.6 440.7,353.3 430.6,356.7 423.8,360.1 415.3,353.3 410.2,344.8" fill="#8a8a8a" stroke="#8a8a8a" stroke-width="2.5" stroke-linejoin="round"/>
<polygon points="371.3,292.7 378.0,284.3 389.9,277.5 398.4,282.6 403.5,291.0 410.2,299.5 411.9,306.3 403.5,310.5 391.6,309.7 383.1,306.3 376.3,301.2" fill="#8a8a8a" stroke="#8a8a8a" stroke-width="2.5" stroke-linejoin="round"/>
<polygon points="337.4,412.6 344.2,405.8 350.9,410.9 347.5,419.3 340.8,424.4" fill="#8a8a8a" stroke="#8a8a8a" stroke-width="2.5" stroke-linejoin="round"/>
<polygon points="354.3,517.6 359.4,515.9 364.5,529.5 364.5,548.1 357.7,548.1 356.0,532.8" fill="#8a8a8a" stroke="#8a8a8a" stroke-width="2.5" stroke-linejoin="round"/>
<polygon points="342.5,541.3 350.9,539.6 352.6,548.1 340.8,548.1" fill="#8a8a8a" stroke="#8a8a8a" stroke-width="2.5" stroke-linejoin="round"/>
<polygon points="190.0,476.9 200.2,475.2 205.2,482.0 200.2,497.3 195.1,505.7 186.6,507.4" fill="#8a8a8a" stroke="#8a8a8a" stroke-width="2.5" stroke-linejoin="round"/>
<polygon points="220.5,482.0 225.6,480.3 232.4,499.0 234.0,507.4 223.9,505.7 221.3,492.2" fill="#8a8a8a" stroke="#8a8a8a" stroke-width="2" stroke-linejoin="round"/>
<polygon points="216.3,507.4 221.3,505.7 223.9,522.7 225.6,534.5 218.8,536.2 217.1,522.7" fill="#8a8a8a" stroke="#8a8a8a" stroke-width="2" stroke-linejoin="round"/>
<polygon points="265.4,480.3 270.5,479.5 271.3,491.3 266.2,492.2" fill="#8a8a8a" stroke="#8a8a8a" stroke-width="2" stroke-linejoin="round"/>
<polygon points="341.6,440.5 346.7,439.7 346.7,449.0 341.6,449.0" fill="#8a8a8a" stroke="#8a8a8a" stroke-width="2" stroke-linejoin="round"/>
<polygon points="472.9,225.0 478.0,221.6 481.4,226.7 478.0,231.7 474.6,230.1" fill="#8a8a8a" stroke="#8a8a8a" stroke-width="2" stroke-linejoin="round"/>
<polygon points="232.4,458.3 236.6,457.5 236.6,466.8 233.2,466.8" fill="#8a8a8a" stroke="#8a8a8a" stroke-width="2" stroke-linejoin="round"/>
<polygon points="374.7,322.8 378.0,321.9 378.9,328.7 375.5,329.6" fill="#8a8a8a" stroke="#8a8a8a" stroke-width="2" stroke-linejoin="round"/>
<polygon points="224.7,471.9 228.9,470.2 229.7,478.6 226.3,480.3" fill="#8a8a8a" stroke="#8a8a8a" stroke-width="2" stroke-linejoin="round"/>
<polygon points="267.0,480.3 271.2,480.3 270.4,492.2 267.0,492.2" fill="#8a8a8a" stroke="#8a8a8a" stroke-width="2" stroke-linejoin="round"/>
<polygon points="327.2,421.0 330.6,420.2 331.5,431.2 328.1,432.0" fill="#8a8a8a" stroke="#8a8a8a" stroke-width="2" stroke-linejoin="round"/>
<polygon points="46.8,549.8 73.9,527.8 78.1,531.1 63.7,549.8" fill="#6c6c6c"/>
<polygon points="488.2,196.2 478.0,205.5 469.5,214.8 459.4,221.6 454.3,226.7 462.7,233.4 461.0,240.2 450.9,247.0 442.4,243.6 435.6,251.2 430.6,260.5 423.8,270.7 422.1,280.9 428.0,289.3 417.0,294.4 409.4,287.6 406.0,277.5 391.6,267.3 384.8,253.8 488.2,175.8" fill="#4a4a4a" stroke="#4a4a4a" stroke-width="5" stroke-linejoin="round"/>
<polygon points="488.2,250.4 476.3,258.8 467.8,252.9 459.4,258.8 454.3,269.0 461.0,275.8 469.5,277.5 476.3,287.6 471.2,297.8 478.0,308.0 469.5,314.8 476.3,326.6 481.4,333.4 488.2,333.4" fill="#4a4a4a" stroke="#4a4a4a" stroke-width="5" stroke-linejoin="round"/>
<polygon points="418.7,319.0 424.6,311.4 438.2,308.8 439.0,318.1 427.2,320.7" fill="#4a4a4a" stroke="#4a4a4a" stroke-width="5" stroke-linejoin="round"/>
<polygon points="459.4,312.2 464.4,313.9 471.2,325.8 466.1,326.6" fill="#4a4a4a" stroke="#4a4a4a" stroke-width="5" stroke-linejoin="round"/>
<polygon points="488.2,438.0 476.3,441.4 464.4,432.9 454.3,436.3 447.5,429.5 437.3,436.3 433.9,441.4 423.8,451.5 410.2,448.1 403.5,458.3 393.3,451.5 381.4,448.1 371.3,451.5 366.2,461.7 373.0,471.9 384.8,475.2 395.0,473.6 386.5,483.7 379.7,490.5 362.8,492.2 354.3,497.3 359.4,507.4 364.5,515.9 366.2,526.1 367.0,539.6 366.2,553.2 488.2,553.2" fill="#4a4a4a" stroke="#4a4a4a" stroke-width="5" stroke-linejoin="round"/>
<polygon points="264.5,509.1 278.1,497.3 291.6,507.4 306.9,507.4 312.0,492.2 308.6,478.6 312.0,468.5 325.5,475.2 330.6,485.4 327.2,497.3 322.1,509.1 330.6,522.7 325.5,532.8 332.3,543.0 330.6,553.2 244.2,553.2 252.7,532.8" fill="#4a4a4a" stroke="#4a4a4a" stroke-width="5" stroke-linejoin="round"/>
<polygon points="190.0,522.7 196.8,515.9 203.6,522.7 200.2,536.2 195.1,548.1 190.0,548.1" fill="#4a4a4a" stroke="#4a4a4a" stroke-width="5" stroke-linejoin="round"/>
<polygon points="471.2,399.0 488.2,397.3 488.2,424.4 476.3,422.7 471.2,414.3" fill="#4a4a4a" stroke="#4a4a4a" stroke-width="5" stroke-linejoin="round"/>
<polygon points="439.0,426.1 454.3,410.9 471.2,407.5 471.2,417.6 488.2,426.1 488.2,439.7 476.3,441.4 464.4,432.9 454.3,436.3 447.5,429.5 437.3,436.3" fill="#4a4a4a"/>
<polygon points="278.1,497.3 288.3,490.5 305.2,492.2 312.0,493.9 308.6,507.4 298.4,514.2 288.3,509.1 281.5,507.4" fill="#4a4a4a"/>
<polygon points="369.6,473.6 384.8,475.2 396.7,473.6 389.9,485.4 379.7,492.2 366.2,493.9" fill="#4a4a4a"/>
<polygon points="312.0,460.0 320.4,458.3 325.5,468.5 315.4,470.2" fill="#4a4a4a"/>
<polygon points="180.6,526.1 192.5,509.1 207.7,505.7 211.1,522.7 207.7,539.6 202.6,548.1 182.3,548.1" fill="#4a4a4a"/>
<polygon points="398.4,311.4 410.2,308.0 418.7,311.4 417.0,319.8 403.5,321.5" fill="#4a4a4a"/>
<polygon points="450.9,306.3 461.0,302.9 464.4,311.4 459.4,319.8 450.9,316.4" fill="#4a4a4a"/>
<polygon points="389.9,269.0 398.4,267.3 406.8,277.5 408.5,287.6 401.8,284.3 398.4,275.8" fill="#4a4a4a"/>
<polygon points="332.3,514.2 342.5,509.1 352.6,515.9 349.2,529.5 339.1,532.8" fill="#4a4a4a"/>
<polygon points="488.2,196.2 478.0,205.5 469.5,214.8 459.4,221.6 454.3,226.7 462.7,233.4 461.0,240.2 450.9,247.0 442.4,243.6 435.6,251.2 430.6,260.5 423.8,270.7 422.1,280.9 428.0,289.3 417.0,294.4 409.4,287.6 406.0,277.5 391.6,267.3 384.8,253.8 488.2,175.8" fill="#2f2f2f"/>
<polygon points="488.2,250.4 476.3,258.8 467.8,252.9 459.4,258.8 454.3,269.0 461.0,275.8 469.5,277.5 476.3,287.6 471.2,297.8 478.0,308.0 469.5,314.8 476.3,326.6 481.4,333.4 488.2,333.4" fill="#2d2d2d"/>
<polygon points="418.7,319.0 424.6,311.4 438.2,308.8 439.0,318.1 427.2,320.7" fill="#2d2d2d"/>
<polygon points="459.4,312.2 464.4,313.9 471.2,325.8 466.1,326.6" fill="#2d2d2d"/>
<polygon points="488.2,438.0 476.3,441.4 464.4,432.9 454.3,436.3 447.5,429.5 437.3,436.3 433.9,441.4 423.8,451.5 410.2,448.1 403.5,458.3 393.3,451.5 381.4,448.1 371.3,451.5 366.2,461.7 373.0,471.9 384.8,475.2 395.0,473.6 386.5,483.7 379.7,490.5 362.8,492.2 354.3,497.3 359.4,507.4 364.5,515.9 366.2,526.1 367.0,539.6 366.2,553.2 488.2,553.2" fill="#282828"/>
<polygon points="264.5,509.1 278.1,497.3 291.6,507.4 306.9,507.4 312.0,492.2 308.6,478.6 312.0,468.5 325.5,475.2 330.6,485.4 327.2,497.3 322.1,509.1 330.6,522.7 325.5,532.8 332.3,543.0 330.6,553.2 244.2,553.2 252.7,532.8" fill="#282828"/>
<polygon points="190.0,522.7 196.8,515.9 203.6,522.7 200.2,536.2 195.1,548.1 190.0,548.1" fill="#2a2a2a"/>
<polygon points="471.2,399.0 488.2,397.3 488.2,424.4 476.3,422.7 471.2,414.3" fill="#2a2a2a"/>
<polygon points="401.8,483.7 444.1,458.3 488.2,449.8 488.2,553.2 376.3,553.2 384.8,509.1" fill="#202020"/>
<polygon points="274.7,526.1 308.6,522.7 318.7,553.2 257.8,553.2" fill="#242424"/>
<polygon points="366.2,295.7 364.5,314.3 367.9,322.8 359.4,329.6 349.2,332.9 342.5,338.0 340.8,346.5 343.3,360.1 339.1,368.5 332.3,377.0 323.8,380.4 315.4,377.0 317.1,387.2 314.5,397.3 316.2,407.5 318.7,417.6 312.0,427.8 306.9,434.6 308.6,444.8 298.4,449.8 284.9,448.1 279.8,458.3 276.4,471.9 271.3,480.3 264.5,468.5 257.8,461.7 247.6,451.5 235.7,451.5 220.5,446.4 217.1,451.5 206.9,465.1 196.8,473.6 183.2,476.9 183.2,424.4 291.6,344.8 359.4,292.3" fill="#a2a2a2"/>
<polygon points="209.4,468.5 202.6,476.9 192.5,488.8 185.7,500.7 180.6,514.2 175.5,522.7 163.7,526.1 156.9,529.5 143.3,534.5 134.9,529.5 128.1,534.5 114.5,541.3 111.2,548.1 95.9,548.1 90.8,541.3 77.3,539.6 73.9,528.6 107.8,500.7 158.6,460.0 192.5,432.9 219.6,449.8" fill="#a2a2a2"/>
<polygon points="367.9,327.9 373.0,339.7 381.4,344.8 386.5,331.3 393.3,327.9 395.0,339.7 388.2,346.5 389.9,356.7 400.1,360.1 401.8,371.9 408.5,373.6 417.0,370.2 427.2,368.5 444.1,365.1 454.3,356.7 464.4,351.6 467.8,360.1 461.0,366.8 474.6,368.5 488.2,363.4 488.2,383.8 478.0,385.5 467.8,397.3 457.7,404.1 447.5,407.5 435.6,414.3 427.2,417.6 418.7,422.7 410.2,434.6 405.1,446.4 400.1,441.4 398.4,427.8 393.3,434.6 388.2,424.4 389.9,407.5 384.8,390.5 379.7,400.7 379.7,417.6 373.0,422.7 366.2,419.3 369.6,412.6 359.4,407.5 361.1,397.3 356.0,390.5 345.9,383.8 340.8,377.0 343.3,360.1 340.8,346.5 349.2,339.7 356.0,344.8 362.8,355.0 369.6,344.8 366.2,334.6" fill="#a2a2a2"/>
<polygon points="408.5,334.6 417.0,331.3 427.2,327.9 444.1,326.2 450.9,331.3 454.3,341.4 450.9,351.6 440.7,353.3 430.6,356.7 423.8,360.1 415.3,353.3 410.2,344.8" fill="#a2a2a2"/>
<polygon points="371.3,292.7 378.0,284.3 389.9,277.5 398.4,282.6 403.5,291.0 410.2,299.5 411.9,306.3 403.5,310.5 391.6,309.7 383.1,306.3 376.3,301.2" fill="#a2a2a2"/>
<polygon points="337.4,412.6 344.2,405.8 350.9,410.9 347.5,419.3 340.8,424.4" fill="#a2a2a2"/>
<polygon points="354.3,517.6 359.4,515.9 364.5,529.5 364.5,548.1 357.7,548.1 356.0,532.8" fill="#a2a2a2"/>
<polygon points="342.5,541.3 350.9,539.6 352.6,548.1 340.8,548.1" fill="#a2a2a2"/>
<polygon points="190.0,476.9 200.2,475.2 205.2,482.0 200.2,497.3 195.1,505.7 186.6,507.4" fill="#a2a2a2"/>
<polygon points="220.5,482.0 225.6,480.3 232.4,499.0 234.0,507.4 223.9,505.7 221.3,492.2" fill="#a2a2a2"/>
<polygon points="216.3,507.4 221.3,505.7 223.9,522.7 225.6,534.5 218.8,536.2 217.1,522.7" fill="#a2a2a2"/>
<polygon points="265.4,480.3 270.5,479.5 271.3,491.3 266.2,492.2" fill="#a2a2a2"/>
<polygon points="341.6,440.5 346.7,439.7 346.7,449.0 341.6,449.0" fill="#a2a2a2"/>
<polygon points="472.9,225.0 478.0,221.6 481.4,226.7 478.0,231.7 474.6,230.1" fill="#a2a2a2"/>
<polygon points="232.4,458.3 236.6,457.5 236.6,466.8 233.2,466.8" fill="#a2a2a2"/>
<polygon points="374.7,322.8 378.0,321.9 378.9,328.7 375.5,329.6" fill="#a2a2a2"/>
<polygon points="224.7,471.9 228.9,470.2 229.7,478.6 226.3,480.3" fill="#a2a2a2"/>
<polygon points="267.0,480.3 271.2,480.3 270.4,492.2 267.0,492.2" fill="#a2a2a2"/>
<polygon points="327.2,421.0 330.6,420.2 331.5,431.2 328.1,432.0" fill="#a2a2a2"/>
<polygon points="79.0,531.1 95.9,515.9 112.8,502.4 134.9,505.7 148.4,500.7 158.6,507.4 168.7,514.2 158.6,526.1 145.0,531.1 134.9,527.8 124.7,532.8 111.2,539.6 94.2,541.3 80.7,537.9" fill="#a2a2a2"/>
<polygon points="382.3,363.4 388.2,361.7 388.2,380.4 383.1,383.8" fill="#868686"/>
<polygon points="393.3,380.4 398.4,380.4 397.5,390.5 394.1,388.8" fill="#868686"/>
<polygon points="261.2,377.0 284.9,358.4 289.9,363.4 274.7,377.0 264.5,378.7" fill="#868686"/>
<polygon points="244.2,390.5 249.3,392.2 247.6,407.5 242.5,410.9" fill="#868686"/>
<polygon points="247.6,421.0 257.8,424.4 259.5,444.8 251.0,446.4 247.6,432.9" fill="#868686"/>
<polygon points="252.7,402.4 261.2,404.1 259.5,410.9 254.4,410.9" fill="#868686"/>
<polygon points="364.5,351.6 369.6,349.9 371.3,356.7 366.2,358.4" fill="#868686"/>
<polygon points="347.5,356.7 352.6,355.8 352.6,361.7 348.4,362.6" fill="#868686"/>
<polygon points="364.5,299.1 361.9,314.3 364.5,322.8 357.7,327.9 347.5,331.3 340.8,337.2 338.2,346.5 340.8,360.1 337.4,366.8 330.6,374.4 323.8,377.0 315.4,373.6 308.6,368.5 298.4,363.4 289.9,356.7 359.4,295.7" fill="#b5b5b5"/>
<polygon points="269.6,383.8 284.9,368.5 298.4,365.1 315.4,377.0 314.5,390.5 312.8,400.7 314.5,410.9 315.4,419.3 308.6,427.8 305.2,436.3 306.9,443.1 298.4,447.3 286.6,444.8 278.1,454.9 274.7,468.5 271.3,473.6 266.2,465.1 259.5,458.3 269.6,448.1 264.5,434.6 267.9,417.6 264.5,397.3" fill="#b5b5b5"/>
<polygon points="183.2,458.3 195.1,455.8 206.9,448.1 217.1,439.7 223.9,441.4 232.4,448.1 220.5,444.8 215.4,449.8 206.9,463.4 196.8,471.9 183.2,475.2" fill="#b5b5b5"/>
<polygon points="223.9,405.8 261.2,378.7 245.9,388.8 240.8,407.5 237.4,417.6 223.9,422.7 218.8,424.4 215.4,414.3" fill="#b5b5b5"/>
<polygon points="206.9,468.5 200.9,476.1 190.8,488.0 184.0,499.8 178.9,509.1 170.4,512.5 158.6,505.7 148.4,499.0 134.9,504.0 119.6,500.7 107.8,504.0 158.6,463.4 192.5,441.4 217.9,451.5" fill="#b5b5b5"/>
<polygon points="79.8,528.6 95.9,515.1 107.8,505.7 121.3,502.4 134.9,505.7 131.5,515.9 112.8,522.7 90.8,525.2" fill="#b5b5b5"/>
<polygon points="134.9,514.2 148.4,509.1 162.0,515.9 156.9,524.4 143.3,529.5 134.9,524.4" fill="#b5b5b5"/>
<polygon points="352.6,368.5 366.2,363.4 378.0,368.5 381.4,383.8 379.7,397.3 369.6,410.9 359.4,405.8 357.7,390.5 349.2,380.4" fill="#b5b5b5"/>
<polygon points="401.8,373.6 417.0,371.9 430.6,370.2 447.5,366.8 461.0,368.5 478.0,370.2 488.2,368.5 488.2,382.1 476.3,385.5 466.1,397.3 454.3,402.4 440.7,407.5 427.2,416.0 417.0,421.0 410.2,407.5 403.5,393.9" fill="#b5b5b5"/>
<polygon points="410.2,335.5 417.0,332.6 427.2,329.6 443.3,327.9 449.2,332.1 452.2,341.4 449.2,349.9 440.7,351.6 430.6,355.0 423.8,358.0 416.7,351.9 411.9,344.8" fill="#b5b5b5"/>
<polygon points="373.8,292.7 378.9,286.0 389.9,279.5 397.0,283.9 401.8,291.9 408.5,299.8 409.9,305.4 403.1,308.7 391.9,308.0 384.0,304.9 378.0,300.5" fill="#b5b5b5"/>
<polygon points="339.1,413.4 344.2,408.3 349.2,411.7 346.7,418.5 341.6,421.9" fill="#b5b5b5"/>
<polygon points="356.0,522.7 360.3,521.8 362.8,532.8 362.8,546.4 358.6,546.4" fill="#b5b5b5"/>
<polygon points="343.3,542.2 350.1,541.0 350.9,548.1 342.5,548.1" fill="#b5b5b5"/>
<polygon points="190.0,478.6 199.3,476.9 203.6,482.0 198.5,496.4 194.2,504.0 186.6,505.7" fill="#b5b5b5"/>
<polygon points="76.4,531.1 90.8,525.2 111.2,523.5 114.5,532.8 107.8,541.3 90.8,543.0 80.7,537.9" fill="#a2a2a2"/>
<polygon points="134.9,504.0 148.4,499.8 158.6,505.7 155.2,514.2 141.6,515.1" fill="#a4a4a4"/>
<polygon points="271.3,393.9 284.9,383.8 301.8,387.2 308.6,397.3 306.9,417.6 298.4,434.6 284.9,438.0 274.7,427.8 269.6,410.9" fill="#bababa"/>
<polygon points="423.8,380.4 440.7,377.0 454.3,383.8 450.9,397.3 433.9,404.1 423.8,393.9" fill="#bababa"/>
<polygon points="423.8,334.6 440.7,332.9 445.8,341.4 433.9,348.2 423.8,344.8" fill="#bababa"/>
<polygon points="134.9,488.8 158.6,468.5 175.5,454.9 192.5,446.4 185.7,465.1 172.1,478.6 158.6,495.6 145.0,505.7 134.9,502.4" fill="#bababa"/>
<polygon points="303.5,346.5 312.0,339.7 323.8,331.3 330.6,327.9 342.5,317.7 350.9,312.6 355.2,317.7 354.3,329.6 347.5,338.0 339.1,341.4 330.6,339.7 325.5,344.8 323.8,355.0 313.7,358.4 306.9,355.0" fill="#dbdbdb"/>
<polygon points="180.6,441.4 192.5,432.9 216.2,414.3 219.6,424.4 214.5,438.0 202.6,449.8 192.5,454.9 187.4,465.1 182.3,468.5 184.0,456.6 178.9,454.9" fill="#cacaca"/>
<polygon points="143.3,492.2 148.4,483.7 158.6,471.9 165.4,465.1 168.7,471.9 162.0,480.3 155.2,487.1 148.4,492.2" fill="#cacaca"/>
<polygon points="288.3,377.0 298.4,380.4 306.9,371.9 310.3,383.8 306.9,393.9 303.5,405.8 298.4,397.3 295.0,387.2" fill="#cacaca"/>
<polygon points="380.6,291.0 386.5,286.0 395.0,291.0 401.8,294.4 407.7,299.5 406.8,306.3 398.4,308.0 389.9,304.6 383.1,299.5" fill="#dbdbdb"/>
<polygon points="354.3,373.6 361.1,371.9 367.9,373.6 366.2,377.0 356.0,377.0" fill="#cacaca"/>
<ellipse cx="439.0" cy="393.1" rx="5.4" ry="3.7" fill="#cecece" transform="rotate(20 439.0 393.1)"/>
<ellipse cx="343.3" cy="410.0" rx="2.7" ry="2.4" fill="#cecece"/>
<ellipse cx="273.9" cy="438.0" rx="2.4" ry="5.1" fill="#cacaca" transform="rotate(20 273.9 438.0)"/>
<ellipse cx="294.1" cy="410.9" rx="1.7" ry="3.7" fill="#cacaca" transform="rotate(-10 294.1 410.9)"/>
</g></g>
</g>
<path d="M219.1 548.3L486.3 335.2M363.1 548.3L486.3 450.1" stroke="#000" stroke-width="1" stroke-dasharray="12.4 11.25" fill="none"/>
<path d="M25.4 40.85V549.3M104.1 40.85V549.3M182.8 40.85V549.3M261.6 40.85V549.3M340.3 40.85V549.3M419 40.85V549.3M12.9 70.3H486.6M12.9 154.9H486.6M12.9 239.5H486.6M12.9 324.2H486.6M12.9 408.8H486.6M12.9 493.4H486.6" stroke="#000" stroke-width="1.15" stroke-dasharray="3.1 5.15" fill="none"/>
<g style="font-family:'Liberation Sans',sans-serif;font-size:12.4px;letter-spacing:0.3px" fill="#000" stroke="#000" stroke-width="0.2">
<text x="25.4" y="302.5" text-anchor="middle">-112</text>
<text x="104.1" y="302.5" text-anchor="middle">-110</text>
<text x="182.8" y="302.5" text-anchor="middle">-108</text>
<text x="261.6" y="302.5" text-anchor="middle">-106</text>
<text x="340.3" y="302.5" text-anchor="middle">-104</text>
<text x="419" y="302.5" text-anchor="middle">-102</text>
<text x="242.4" y="70.3" text-anchor="middle">16</text>
<text x="242.4" y="154.9" text-anchor="middle">14</text>
<text x="242.4" y="239.5" text-anchor="middle">12</text>
<text x="242.4" y="324.2" text-anchor="middle">10</text>
<text x="242.4" y="408.8" text-anchor="middle">8</text>
<text x="242.4" y="493.4" text-anchor="middle">6</text>
</g>
<path d="M242.8 292.5h13.2v4.4h-13.2z M247.2 288.1h4.4v13.2h-4.4z" fill="#000"/>
<text x="37" y="65.9" style="font-family:'Liberation Sans',sans-serif;font-size:25px" fill="#000" stroke="#000" stroke-width="0.25">VIRS T<tspan dy="6.2" font-size="15.6">B11</tspan><tspan dy="-6.2" dx="2.5"> (K)</tspan></text>
<text x="438.2" y="523.3" style="font-family:'Liberation Sans',sans-serif;font-size:30px" fill="#000" stroke="#000" stroke-width="0.25">(g)</text>
<rect x="495" y="531.57" width="9" height="8.76" fill="#f8f8f7"/>
<rect x="495" y="523.11" width="9" height="8.76" fill="#f0f0f0"/>
<rect x="495" y="514.65" width="9" height="8.76" fill="#e8e8e8"/>
<rect x="495" y="506.18" width="9" height="8.76" fill="#e1e1e0"/>
<rect x="495" y="497.72" width="9" height="8.76" fill="#dadad9"/>
<rect x="495" y="489.26" width="9" height="8.76" fill="#d2d2d1"/>
<rect x="495" y="480.79" width="9" height="8.76" fill="#cacaca"/>
<rect x="495" y="472.33" width="9" height="8.76" fill="#c3c3c2"/>
<rect x="495" y="463.87" width="9" height="8.76" fill="#bcbcba"/>
<rect x="495" y="455.40" width="9" height="8.76" fill="#b4b4b3"/>
<rect x="495" y="446.94" width="9" height="8.76" fill="#acacab"/>
<rect x="495" y="438.48" width="9" height="8.76" fill="#a5a5a3"/>
<rect x="495" y="430.01" width="9" height="8.76" fill="#9e9e9c"/>
<rect x="495" y="421.55" width="9" height="8.76" fill="#969694"/>
<rect x="495" y="413.09" width="9" height="8.76" fill="#88e888"/>
<rect x="495" y="404.62" width="9" height="8.76" fill="#80dd80"/>
<rect x="495" y="396.16" width="9" height="8.76" fill="#78d278"/>
<rect x="495" y="387.70" width="9" height="8.76" fill="#70c770"/>
<rect x="495" y="379.23" width="9" height="8.76" fill="#68bc68"/>
<rect x="495" y="370.77" width="9" height="8.76" fill="#d0d4ff"/>
<rect x="495" y="362.31" width="9" height="8.76" fill="#b8d0ff"/>
<rect x="495" y="353.84" width="9" height="8.76" fill="#a0c8ff"/>
<rect x="495" y="345.38" width="9" height="8.76" fill="#88c0ff"/>
<rect x="495" y="336.92" width="9" height="8.76" fill="#70b8ff"/>
<rect x="495" y="328.45" width="9" height="8.76" fill="#50b0ff"/>
<rect x="495" y="319.99" width="9" height="8.76" fill="#4890ff"/>
<rect x="495" y="311.53" width="9" height="8.76" fill="#4470ff"/>
<rect x="495" y="303.06" width="9" height="8.76" fill="#3c50ff"/>
<rect x="495" y="294.60" width="9" height="8.76" fill="#3030ff"/>
<rect x="495" y="286.14" width="9" height="8.76" fill="#0000ff"/>
<rect x="495" y="277.67" width="9" height="8.76" fill="#0202ef"/>
<rect x="495" y="269.21" width="9" height="8.76" fill="#0404e0"/>
<rect x="495" y="260.75" width="9" height="8.76" fill="#0606d0"/>
<rect x="495" y="252.28" width="9" height="8.76" fill="#0808c0"/>
<rect x="495" y="243.82" width="9" height="8.76" fill="#ffff00"/>
<rect x="495" y="235.36" width="9" height="8.76" fill="#fff300"/>
<rect x="495" y="226.89" width="9" height="8.76" fill="#ffe800"/>
<rect x="495" y="218.43" width="9" height="8.76" fill="#ffdc00"/>
<rect x="495" y="209.97" width="9" height="8.76" fill="#ffd000"/>
<rect x="495" y="201.50" width="9" height="8.76" fill="#ff9208"/>
<rect x="495" y="193.04" width="9" height="8.76" fill="#ff8a06"/>
<rect x="495" y="184.58" width="9" height="8.76" fill="#ff8104"/>
<rect x="495" y="176.11" width="9" height="8.76" fill="#ff7802"/>
<rect x="495" y="167.65" width="9" height="8.76" fill="#ff7000"/>
<rect x="495" y="159.19" width="9" height="8.76" fill="#ff4400"/>
<rect x="495" y="150.72" width="9" height="8.76" fill="#ff3902"/>
<rect x="495" y="142.26" width="9" height="8.76" fill="#ff2e04"/>
<rect x="495" y="133.80" width="9" height="8.76" fill="#ff2306"/>
<rect x="495" y="125.33" width="9" height="8.76" fill="#ff1808"/>
<rect x="495" y="116.87" width="9" height="8.76" fill="#cc0000"/>
<rect x="495" y="108.41" width="9" height="8.76" fill="#c10301"/>
<rect x="495" y="99.94" width="9" height="8.76" fill="#b60602"/>
<rect x="495" y="91.48" width="9" height="8.76" fill="#ab0903"/>
<rect x="495" y="83.02" width="9" height="8.76" fill="#a00c04"/>
<rect x="495" y="74.55" width="9" height="8.76" fill="#620e06"/>
<rect x="495" y="66.09" width="9" height="8.76" fill="#60110a"/>
<rect x="495" y="57.63" width="9" height="8.76" fill="#5d140f"/>
<rect x="495" y="49.16" width="9" height="8.76" fill="#5a1714"/>
<rect x="495" y="40.70" width="9" height="8.76" fill="#581a18"/>
<path d="M504 548.50h2M504 497.72h2M504 446.94h2M504 396.16h2M504 345.38h2M504 294.60h2M504 243.82h2M504 193.04h2M504 142.26h2M504 91.48h2" stroke="#000" stroke-width="1" fill="none"/>
<g style="font-family:'Liberation Sans',sans-serif;font-size:20px" fill="#000" stroke="#000" stroke-width="0.25" text-anchor="middle">
<text x="524.1" y="557.00">304</text>
<text x="524.1" y="506.22">292</text>
<text x="524.1" y="455.44">280</text>
<text x="524.1" y="404.66">268</text>
<text x="524.1" y="353.88">256</text>
<text x="524.1" y="303.10">244</text>
<text x="524.1" y="252.32">232</text>
<text x="524.1" y="201.54">220</text>
<text x="524.1" y="150.76">208</text>
<text x="524.1" y="99.98">196</text>
</g>
</g>
<g transform="translate(590.55,1181.10)">
<g clip-path="url(#mapclip)">
<defs><clipPath id="cliph"><polygon points="219.1,548.6 486.7,335.0 486.7,548.6"/></clipPath></defs>
<filter id="fh" filterUnits="userSpaceOnUse" x="180" y="300" width="330" height="270" color-interpolation-filters="sRGB">
<feTurbulence type="fractalNoise" baseFrequency="0.15" numOctaves="2" seed="21" result="dn"/>
<feDisplacementMap in="SourceGraphic" in2="dn" scale="6" xChannelSelector="R" yChannelSelector="G" result="dp"/>
<feGaussianBlur in="dp" stdDeviation="1.0" result="bl"/>
<feTurbulence type="fractalNoise" baseFrequency="0.45" numOctaves="2" seed="3" result="fn0"/>
<feColorMatrix in="fn0" type="matrix" values="1 0 0 0 0 1 0 0 0 0 1 0 0 0 0 0 0 0 0 1" result="fg0"/>
<feComposite in="bl" in2="fg0" operator="arithmetic" k1="0" k2="1" k3="0.16" k4="-0.08" result="fld0"/>
<feComponentTransfer in="fld0" result="col"><feFuncR type="discrete" tableValues="1.000 1.000 1.000 1.000 1.000 1.000 1.000 1.000 1.000 1.000 1.000 1.000 1.000 1.000 1.000 1.000 1.000 0.000 0.000 0.000 0.000 0.000 0.000 0.000 0.000 0.000 0.000 0.000 0.000 0.000 0.000 0.000 0.000 0.000 0.000 0.000 0.000 1.000 1.000 1.000 1.000 1.000 1.000 1.000 1.000 1.000 1.000 1.000 1.000 1.000 1.000 1.000 1.000 1.000 1.000 1.000 1.000 1.000 1.000 1.000"/><feFuncG type="discrete" tableValues="1.000 1.000 1.000 1.000 1.000 1.000 1.000 1.000 1.000 1.000 1.000 1.000 1.000 1.000 1.000 1.000 1.000 0.000 0.000 0.000 0.000 0.000 0.000 0.000 0.000 0.000 0.000 0.000 0.000 0.000 0.000 0.000 0.000 0.000 0.000 0.000 0.000 0.267 0.267 0.267 0.267 0.267 0.267 0.267 0.267 0.267 0.267 0.267 0.267 0.267 0.267 0.267 0.267 0.267 0.267 0.267 0.267 0.267 0.267 0.267"/><feFuncB type="discrete" tableValues="1.000 1.000 1.000 1.000 1.000 1.000 1.000 1.000 1.000 1.000 1.000 1.000 1.000 1.000 1.000 1.000 1.000 1.000 1.000 1.000 1.000 1.000 1.000 1.000 1.000 1.000 1.000 1.000 1.000 1.000 1.000 1.000 1.000 1.000 1.000 1.000 1.000 0.000 0.000 0.000 0.000 0.000 0.000 0.000 0.000 0.000 0.000 0.000 0.000 0.000 0.000 0.000 0.000 0.000 0.000 0.000 0.000 0.000 0.000 0.000"/></feComponentTransfer>
<feMerge><feMergeNode in="col"/></feMerge>
</filter>
<g clip-path="url(#cliph)"><g filter="url(#fh)"><rect x="180" y="300" width="330" height="270" fill="#000"/>
<polygon points="377.8,436.3 382.9,417.6 403.2,402.4 420.1,390.5 420.1,407.5 411.7,417.6 399.8,424.4 389.6,434.6 382.9,439.7" fill="#686868"/>
<polygon points="404.9,424.4 416.7,416.0 426.9,419.3 435.4,431.2 433.7,441.4 425.2,451.5 418.4,456.6 413.4,441.4 406.6,434.6" fill="#686868"/>
<polygon points="387.9,429.5 399.8,427.8 406.6,438.0 401.5,449.8 391.3,446.4" fill="#686868"/>
<polygon points="443.8,424.4 454.0,417.6 459.1,421.0 450.6,436.3 444.7,434.6" fill="#686868"/>
<polygon points="467.6,360.1 477.7,353.3 487.9,349.9 487.9,390.5 477.7,397.3 469.3,383.8" fill="#686868"/>
<polygon points="419.9,388.7 431.2,377.4 448.1,363.9 466.2,350.3 470.7,352.6 466.2,361.6 472.9,367.3 482.0,361.6 485.9,352.6 488.8,352.6 488.8,388.7 482.0,393.2 475.2,397.8 466.2,402.3 459.4,409.1 452.6,415.8 445.8,418.1 436.8,415.8 430.0,409.1 423.3,402.3 418.7,395.5" fill="#868686" stroke="#868686" stroke-width="0.6" stroke-linejoin="round"/>
<polygon points="409.7,420.3 416.5,417.0 423.3,420.3 419.9,427.1 412.0,426.0" fill="#7d7d7d" stroke="#7d7d7d" stroke-width="0.6" stroke-linejoin="round"/>
<polygon points="421.0,431.6 430.0,428.2 436.8,433.9 436.8,442.9 430.0,448.6 423.3,445.2 421.0,438.4" fill="#828282" stroke="#828282" stroke-width="0.6" stroke-linejoin="round"/>
<polygon points="381.5,415.8 387.1,414.7 390.5,420.3 386.0,429.4 380.3,437.3 378.1,435.0 381.5,427.1" fill="#797979" stroke="#797979" stroke-width="0.6" stroke-linejoin="round"/>
<polygon points="402.9,398.9 414.2,389.9 419.9,393.2 412.0,400.0" fill="#686868" stroke="#686868" stroke-width="0.6" stroke-linejoin="round"/>
<polygon points="396.2,438.4 399.5,437.3 401.8,447.4 398.4,452.0 396.7,445.2" fill="#7d7d7d" stroke="#7d7d7d" stroke-width="0.6" stroke-linejoin="round"/>
<polygon points="417.6,452.0 422.1,449.7 425.5,455.4 421.0,458.7" fill="#7d7d7d" stroke="#7d7d7d" stroke-width="0.6" stroke-linejoin="round"/>
<polygon points="392.8,457.6 397.3,456.5 398.4,461.0 393.9,462.1" fill="#828282" stroke="#828282" stroke-width="0.6" stroke-linejoin="round"/>
<polygon points="346.5,445.2 353.2,438.4 357.8,442.9 351.0,449.7 346.5,457.6 343.1,465.5 339.7,474.6 335.2,480.2 334.0,477.9 338.6,470.0 340.8,461.0" fill="#868686" stroke="#868686" stroke-width="0.6" stroke-linejoin="round"/>
<polygon points="329.5,458.7 335.2,453.7 338.6,455.4 334.0,461.0" fill="#8a8a8a" stroke="#8a8a8a" stroke-width="0.6" stroke-linejoin="round"/>
<polygon points="360.0,448.6 362.3,449.7 363.4,459.9 364.5,471.2 369.1,476.8 371.3,481.3 367.9,480.2 362.3,475.7 359.5,467.8 360.0,458.7" fill="#828282" stroke="#828282" stroke-width="0.6" stroke-linejoin="round"/>
<polygon points="383.7,475.7 389.4,473.4 393.9,481.3 396.2,489.2 391.6,490.4 387.1,484.7" fill="#828282" stroke="#828282" stroke-width="0.6" stroke-linejoin="round"/>
<polygon points="378.7,477.9 380.3,477.4 383.7,487.0 382.0,488.1" fill="#757575" stroke="#757575" stroke-width="0.6" stroke-linejoin="round"/>
<polygon points="291.1,488.1 301.3,481.3 303.6,482.5 299.0,491.5 296.8,499.4 293.4,506.2 291.7,499.4" fill="#868686" stroke="#868686" stroke-width="0.6" stroke-linejoin="round"/>
<polygon points="321.6,482.5 326.1,480.2 327.8,488.1 326.1,496.0 322.7,497.1 323.3,489.2" fill="#797979" stroke="#797979" stroke-width="0.6" stroke-linejoin="round"/>
<polygon points="346.5,488.1 351.0,490.4 353.2,499.4 357.8,510.7 355.5,512.9 349.9,503.9 346.5,496.0" fill="#828282" stroke="#828282" stroke-width="0.6" stroke-linejoin="round"/>
<polygon points="341.9,488.1 345.3,487.0 345.3,492.6 342.5,493.7" fill="#717171" stroke="#717171" stroke-width="0.6" stroke-linejoin="round"/>
<polygon points="343.1,502.8 346.5,501.7 347.6,507.3 344.2,508.4" fill="#717171" stroke="#717171" stroke-width="0.6" stroke-linejoin="round"/>
<polygon points="369.1,485.8 372.4,487.0 374.7,497.1 371.3,501.7 368.5,493.7" fill="#7d7d7d" stroke="#7d7d7d" stroke-width="0.6" stroke-linejoin="round"/>
<polygon points="372.4,502.8 374.7,502.2 376.4,508.4 374.1,509.6" fill="#6c6c6c" stroke="#6c6c6c" stroke-width="0.6" stroke-linejoin="round"/>
<polygon points="318.2,510.7 322.7,507.9 325.6,509.6 322.7,514.1 318.8,514.6" fill="#797979" stroke="#797979" stroke-width="0.6" stroke-linejoin="round"/>
<polygon points="445.8,426.0 451.5,423.7 452.6,429.4 448.1,433.9 445.8,431.6" fill="#757575" stroke="#757575" stroke-width="0.6" stroke-linejoin="round"/>
<polygon points="440.2,437.3 443.6,436.2 444.2,440.1 441.3,441.2" fill="#686868" stroke="#686868" stroke-width="0.6" stroke-linejoin="round"/>
<polygon points="430.0,418.1 436.8,417.0 439.1,420.3 432.3,422.6" fill="#717171" stroke="#717171" stroke-width="0.6" stroke-linejoin="round"/>
<polygon points="389.4,446.3 392.2,445.2 393.3,449.7 390.5,450.3" fill="#6c6c6c" stroke="#6c6c6c" stroke-width="0.6" stroke-linejoin="round"/>
<polygon points="405.2,449.7 407.4,449.1 408.6,454.2 406.3,454.8" fill="#717171" stroke="#717171" stroke-width="0.6" stroke-linejoin="round"/>
<polygon points="406.3,462.1 409.7,461.0 410.3,464.4 407.4,465.0" fill="#6c6c6c" stroke="#6c6c6c" stroke-width="0.6" stroke-linejoin="round"/>
<polygon points="266.5,529.3 270.4,528.7 271.5,533.8 267.6,534.4" fill="#7d7d7d" stroke="#7d7d7d" stroke-width="0.6" stroke-linejoin="round"/>
<polygon points="270.4,543.4 273.2,542.9 274.9,549.1 271.9,549.1" fill="#7d7d7d" stroke="#7d7d7d" stroke-width="0.6" stroke-linejoin="round"/>
<polygon points="317.3,522.5 320.1,522.0 321.2,532.1 318.4,533.3" fill="#6c6c6c" stroke="#6c6c6c" stroke-width="0.6" stroke-linejoin="round"/>
<polygon points="324.6,535.5 329.7,529.9 332.0,531.6 327.4,541.2 325.2,540.0" fill="#797979" stroke="#797979" stroke-width="0.6" stroke-linejoin="round"/>
<polygon points="353.6,522.5 356.6,522.0 356.8,528.7 354.6,528.7" fill="#686868" stroke="#686868" stroke-width="0.6" stroke-linejoin="round"/>
<polygon points="283.6,511.8 285.9,511.6 286.1,513.8 283.9,514.1" fill="#797979" stroke="#797979" stroke-width="0.6" stroke-linejoin="round"/>
<polygon points="248.2,536.1 249.8,536.1 249.8,540.0 248.2,540.0" fill="#606060" stroke="#606060" stroke-width="0.6" stroke-linejoin="round"/>
<polygon points="277.8,528.7 279.1,528.7 280.2,532.1 278.9,532.4" fill="#606060" stroke="#606060" stroke-width="0.6" stroke-linejoin="round"/>
<polygon points="344.4,527.6 347.2,527.0 347.8,532.7 345.3,533.3" fill="#5b5b5b" stroke="#5b5b5b" stroke-width="0.6" stroke-linejoin="round"/>
<polygon points="349.5,543.4 351.2,543.4 351.2,547.9 349.6,547.9" fill="#5b5b5b" stroke="#5b5b5b" stroke-width="0.6" stroke-linejoin="round"/>
<polygon points="341.6,505.0 345.5,503.9 347.2,508.4 343.3,509.5" fill="#757575" stroke="#757575" stroke-width="0.6" stroke-linejoin="round"/>
<polygon points="372.6,505.0 374.9,504.5 376.0,509.5 373.7,510.1" fill="#646464" stroke="#646464" stroke-width="0.6" stroke-linejoin="round"/>
<polygon points="367.5,497.1 370.4,496.6 371.5,501.6 368.7,502.2" fill="#757575" stroke="#757575" stroke-width="0.6" stroke-linejoin="round"/>
<polygon points="469.6,372.9 477.5,367.3 482.0,375.2 475.2,383.1 470.7,379.7" fill="#2d2d2d"/>
<polygon points="457.1,386.5 464.5,385.9 466.2,392.1 459.4,393.8" fill="#3e3e3e"/>
<polygon points="472.9,352.6 479.7,350.3 482.0,359.4 475.2,363.9" fill="#2d2d2d"/>
<polygon points="445.8,368.4 452.6,363.9 459.4,368.4 463.9,375.2 459.4,379.7 452.6,384.2 448.1,393.2 452.6,400.0 448.1,402.3 443.6,395.5 445.8,384.2 448.1,377.4" fill="#a4a4a4" stroke="#a4a4a4" stroke-width="0.36" stroke-linejoin="round"/>
<polygon points="424.4,395.5 432.3,393.2 434.6,398.9 427.8,402.3" fill="#a4a4a4" stroke="#a4a4a4" stroke-width="0.36" stroke-linejoin="round"/>
<polygon points="436.8,384.2 442.5,383.1 443.6,388.7 437.9,389.9" fill="#a4a4a4" stroke="#a4a4a4" stroke-width="0.36" stroke-linejoin="round"/>
<polygon points="450.4,397.8 459.4,396.6 461.7,402.3 453.7,405.7" fill="#b5b5b5" stroke="#b5b5b5" stroke-width="0.36" stroke-linejoin="round"/>
<polygon points="480.9,361.6 487.1,360.5 488.8,375.2 482.0,374.0" fill="#a4a4a4" stroke="#a4a4a4" stroke-width="0.36" stroke-linejoin="round"/>
<polygon points="463.9,383.1 469.6,381.9 470.7,387.6 465.0,388.7" fill="#9f9f9f" stroke="#9f9f9f" stroke-width="0.36" stroke-linejoin="round"/>
<polygon points="470.7,393.2 475.2,392.1 476.3,396.6 471.8,397.8" fill="#acacac" stroke="#acacac" stroke-width="0.36" stroke-linejoin="round"/>
<polygon points="451.5,359.4 454.9,358.2 456.0,362.7 452.6,363.3" fill="#acacac" stroke="#acacac" stroke-width="0.36" stroke-linejoin="round"/>
<polygon points="344.8,445.2 348.7,442.9 349.3,449.7 345.9,457.6 343.1,459.9 344.2,452.0" fill="#a8a8a8" stroke="#a8a8a8" stroke-width="0.36" stroke-linejoin="round"/>
<polygon points="360.6,459.9 362.8,459.9 363.2,465.5 360.9,465.5" fill="#9f9f9f" stroke="#9f9f9f" stroke-width="0.36" stroke-linejoin="round"/>
<polygon points="294.0,488.7 296.8,488.1 299.0,492.6 296.8,493.7" fill="#9f9f9f" stroke="#9f9f9f" stroke-width="0.36" stroke-linejoin="round"/>
<polygon points="385.4,415.8 387.1,415.6 387.3,418.1 385.7,418.3" fill="#9b9b9b" stroke="#9b9b9b" stroke-width="0.36" stroke-linejoin="round"/>
<polygon points="348.2,485.8 350.4,485.6 350.6,488.1 348.4,488.3" fill="#9b9b9b" stroke="#9b9b9b" stroke-width="0.36" stroke-linejoin="round"/>
<polygon points="370.2,483.0 371.9,482.8 372.1,484.9 370.4,485.2" fill="#9b9b9b" stroke="#9b9b9b" stroke-width="0.36" stroke-linejoin="round"/>
<polygon points="319.0,529.3 320.9,529.1 321.1,531.0 319.2,531.2" fill="#9b9b9b" stroke="#9b9b9b" stroke-width="0.36" stroke-linejoin="round"/></g></g>
</g>
<path d="M219.1 548.3L486.3 335.2M363.1 548.3L486.3 450.1" stroke="#000" stroke-width="1" stroke-dasharray="12.4 11.25" fill="none"/>
<path d="M25.4 40.85V549.3M104.1 40.85V549.3M182.8 40.85V549.3M261.6 40.85V549.3M340.3 40.85V549.3M419 40.85V549.3M12.9 70.3H486.6M12.9 154.9H486.6M12.9 239.5H486.6M12.9 324.2H486.6M12.9 408.8H486.6M12.9 493.4H486.6" stroke="#000" stroke-width="1.15" stroke-dasharray="3.1 5.15" fill="none"/>
<g style="font-family:'Liberation Sans',sans-serif;font-size:12.4px;letter-spacing:0.3px" fill="#000" stroke="#000" stroke-width="0.2">
<text x="25.4" y="302.5" text-anchor="middle">-112</text>
<text x="104.1" y="302.5" text-anchor="middle">-110</text>
<text x="182.8" y="302.5" text-anchor="middle">-108</text>
<text x="261.6" y="302.5" text-anchor="middle">-106</text>
<text x="340.3" y="302.5" text-anchor="middle">-104</text>
<text x="419" y="302.5" text-anchor="middle">-102</text>
<text x="242.4" y="70.3" text-anchor="middle">16</text>
<text x="242.4" y="154.9" text-anchor="middle">14</text>
<text x="242.4" y="239.5" text-anchor="middle">12</text>
<text x="242.4" y="324.2" text-anchor="middle">10</text>
<text x="242.4" y="408.8" text-anchor="middle">8</text>
<text x="242.4" y="493.4" text-anchor="middle">6</text>
</g>
<path d="M242.8 292.5h13.2v4.4h-13.2z M247.2 288.1h4.4v13.2h-4.4z" fill="#000"/>
<text x="36" y="65.9" style="font-family:'Liberation Sans',sans-serif;font-size:25px" fill="#000" stroke="#000" stroke-width="0.25">2A23 rain types</text>
<text x="438.2" y="523.3" style="font-family:'Liberation Sans',sans-serif;font-size:30px" fill="#000" stroke="#000" stroke-width="0.25">(h)</text>
<rect x="495" y="40.70" width="9" height="169.27" fill="#ff4000"/>
<rect x="495" y="209.97" width="9" height="169.27" fill="#0000ff"/>
<rect x="495" y="40.70" width="9" height="507.80" fill="none" stroke="#333" stroke-width="0.8"/>
<path d="M504 40.70h2M504 209.97h2M504 379.23h2" stroke="#000" stroke-width="1" fill="none"/>
<g style="font-family:'Liberation Sans',sans-serif;font-size:20px" fill="#000" stroke="#000" stroke-width="0.25">
<text x="507.8" y="48.20">Conv</text>
<text x="507.8" y="217.47">Strat</text>
<text x="507.8" y="386.73">N/A</text>
</g>
</g>
<g transform="translate(1181.10,1181.10)">
<g clip-path="url(#mapclip)">
<defs><clipPath id="clipi"><polygon points="219.1,548.6 486.7,335.0 486.7,548.6"/></clipPath></defs>
<filter id="fi" filterUnits="userSpaceOnUse" x="180" y="300" width="330" height="270" color-interpolation-filters="sRGB">
<feTurbulence type="fractalNoise" baseFrequency="0.15" numOctaves="2" seed="21" result="dn"/>
<feDisplacementMap in="SourceGraphic" in2="dn" scale="6" xChannelSelector="R" yChannelSelector="G" result="dp"/>
<feGaussianBlur in="dp" stdDeviation="1.6" result="bl"/>
<feTurbulence type="fractalNoise" baseFrequency="0.4" numOctaves="2" seed="3" result="fn0"/>
<feColorMatrix in="fn0" type="matrix" values="1 0 0 0 0 1 0 0 0 0 1 0 0 0 0 0 0 0 0 1" result="fg0"/>
<feComposite in="bl" in2="fg0" operator="arithmetic" k1="0" k2="1" k3="0.12" k4="-0.06" result="fld0"/>
<feComponentTransfer in="fld0" result="col"><feFuncR type="discrete" tableValues="1.000 1.000 1.000 1.000 1.000 1.000 1.000 1.000 1.000 1.000 1.000 1.000 1.000 1.000 0.912 0.882 0.853 0.824 0.794 0.765 0.735 0.706 0.676 0.647 0.618 0.588 0.533 0.502 0.502 0.471 0.471 0.439 0.439 0.408 0.816 0.722 0.627 0.533 0.439 0.314 0.282 0.267 0.235 0.235 0.235 0.235 0.235 0.235 0.235 0.235 0.235 0.235 0.235 0.235 0.235 0.235 0.235 0.235 0.235 0.235"/><feFuncG type="discrete" tableValues="1.000 1.000 1.000 1.000 1.000 1.000 1.000 1.000 1.000 1.000 1.000 1.000 1.000 1.000 0.912 0.882 0.853 0.824 0.794 0.765 0.735 0.706 0.676 0.647 0.618 0.588 0.910 0.867 0.867 0.824 0.824 0.780 0.780 0.737 0.831 0.816 0.784 0.753 0.722 0.690 0.565 0.439 0.314 0.314 0.314 0.314 0.314 0.314 0.314 0.314 0.314 0.314 0.314 0.314 0.314 0.314 0.314 0.314 0.314 0.314"/><feFuncB type="discrete" tableValues="1.000 1.000 1.000 1.000 1.000 1.000 1.000 1.000 1.000 1.000 1.000 1.000 1.000 1.000 0.910 0.880 0.850 0.820 0.790 0.760 0.730 0.700 0.670 0.640 0.610 0.580 0.533 0.502 0.502 0.471 0.471 0.439 0.439 0.408 1.000 1.000 1.000 1.000 1.000 1.000 1.000 1.000 1.000 1.000 1.000 1.000 1.000 1.000 1.000 1.000 1.000 1.000 1.000 1.000 1.000 1.000 1.000 1.000 1.000 1.000"/></feComponentTransfer>
<feMerge><feMergeNode in="col"/></feMerge>
</filter>
<g clip-path="url(#clipi)"><g filter="url(#fi)"><rect x="180" y="300" width="330" height="270" fill="#000"/>
<polygon points="377.8,436.3 382.9,417.6 403.2,402.4 420.1,390.5 420.1,407.5 411.7,417.6 399.8,424.4 389.6,434.6 382.9,439.7" fill="#757575"/>
<polygon points="404.9,424.4 416.7,416.0 426.9,419.3 435.4,431.2 433.7,441.4 425.2,451.5 418.4,456.6 413.4,441.4 406.6,434.6" fill="#757575"/>
<polygon points="387.9,429.5 399.8,427.8 406.6,438.0 401.5,449.8 391.3,446.4" fill="#757575"/>
<polygon points="443.8,424.4 454.0,417.6 459.1,421.0 450.6,436.3 444.7,434.6" fill="#757575"/>
<polygon points="467.6,360.1 477.7,353.3 487.9,349.9 487.9,390.5 477.7,397.3 469.3,383.8" fill="#757575"/>
<polygon points="419.9,388.7 431.2,377.4 448.1,363.9 466.2,350.3 470.7,352.6 466.2,361.6 472.9,367.3 482.0,361.6 485.9,352.6 488.8,352.6 488.8,388.7 482.0,393.2 475.2,397.8 466.2,402.3 459.4,409.1 452.6,415.8 445.8,418.1 436.8,415.8 430.0,409.1 423.3,402.3 418.7,395.5" fill="#868686" stroke="#868686" stroke-width="1.5" stroke-linejoin="round"/>
<polygon points="409.7,420.3 416.5,417.0 423.3,420.3 419.9,427.1 412.0,426.0" fill="#7d7d7d" stroke="#7d7d7d" stroke-width="1.5" stroke-linejoin="round"/>
<polygon points="421.0,431.6 430.0,428.2 436.8,433.9 436.8,442.9 430.0,448.6 423.3,445.2 421.0,438.4" fill="#828282" stroke="#828282" stroke-width="1.5" stroke-linejoin="round"/>
<polygon points="381.5,415.8 387.1,414.7 390.5,420.3 386.0,429.4 380.3,437.3 378.1,435.0 381.5,427.1" fill="#797979" stroke="#797979" stroke-width="1.5" stroke-linejoin="round"/>
<polygon points="402.9,398.9 414.2,389.9 419.9,393.2 412.0,400.0" fill="#686868" stroke="#686868" stroke-width="1.5" stroke-linejoin="round"/>
<polygon points="396.2,438.4 399.5,437.3 401.8,447.4 398.4,452.0 396.7,445.2" fill="#7d7d7d" stroke="#7d7d7d" stroke-width="1.5" stroke-linejoin="round"/>
<polygon points="417.6,452.0 422.1,449.7 425.5,455.4 421.0,458.7" fill="#7d7d7d" stroke="#7d7d7d" stroke-width="1.5" stroke-linejoin="round"/>
<polygon points="392.8,457.6 397.3,456.5 398.4,461.0 393.9,462.1" fill="#828282" stroke="#828282" stroke-width="1.5" stroke-linejoin="round"/>
<polygon points="346.5,445.2 353.2,438.4 357.8,442.9 351.0,449.7 346.5,457.6 343.1,465.5 339.7,474.6 335.2,480.2 334.0,477.9 338.6,470.0 340.8,461.0" fill="#868686" stroke="#868686" stroke-width="1.5" stroke-linejoin="round"/>
<polygon points="329.5,458.7 335.2,453.7 338.6,455.4 334.0,461.0" fill="#8a8a8a" stroke="#8a8a8a" stroke-width="1.5" stroke-linejoin="round"/>
<polygon points="360.0,448.6 362.3,449.7 363.4,459.9 364.5,471.2 369.1,476.8 371.3,481.3 367.9,480.2 362.3,475.7 359.5,467.8 360.0,458.7" fill="#828282" stroke="#828282" stroke-width="1.5" stroke-linejoin="round"/>
<polygon points="383.7,475.7 389.4,473.4 393.9,481.3 396.2,489.2 391.6,490.4 387.1,484.7" fill="#828282" stroke="#828282" stroke-width="1.5" stroke-linejoin="round"/>
<polygon points="378.7,477.9 380.3,477.4 383.7,487.0 382.0,488.1" fill="#757575" stroke="#757575" stroke-width="1.5" stroke-linejoin="round"/>
<polygon points="291.1,488.1 301.3,481.3 303.6,482.5 299.0,491.5 296.8,499.4 293.4,506.2 291.7,499.4" fill="#868686" stroke="#868686" stroke-width="1.5" stroke-linejoin="round"/>
<polygon points="321.6,482.5 326.1,480.2 327.8,488.1 326.1,496.0 322.7,497.1 323.3,489.2" fill="#797979" stroke="#797979" stroke-width="1.5" stroke-linejoin="round"/>
<polygon points="346.5,488.1 351.0,490.4 353.2,499.4 357.8,510.7 355.5,512.9 349.9,503.9 346.5,496.0" fill="#828282" stroke="#828282" stroke-width="1.5" stroke-linejoin="round"/>
<polygon points="341.9,488.1 345.3,487.0 345.3,492.6 342.5,493.7" fill="#717171" stroke="#717171" stroke-width="1.5" stroke-linejoin="round"/>
<polygon points="343.1,502.8 346.5,501.7 347.6,507.3 344.2,508.4" fill="#717171" stroke="#717171" stroke-width="1.5" stroke-linejoin="round"/>
<polygon points="369.1,485.8 372.4,487.0 374.7,497.1 371.3,501.7 368.5,493.7" fill="#7d7d7d" stroke="#7d7d7d" stroke-width="1.5" stroke-linejoin="round"/>
<polygon points="372.4,502.8 374.7,502.2 376.4,508.4 374.1,509.6" fill="#6c6c6c" stroke="#6c6c6c" stroke-width="1.5" stroke-linejoin="round"/>
<polygon points="318.2,510.7 322.7,507.9 325.6,509.6 322.7,514.1 318.8,514.6" fill="#797979" stroke="#797979" stroke-width="1.5" stroke-linejoin="round"/>
<polygon points="445.8,426.0 451.5,423.7 452.6,429.4 448.1,433.9 445.8,431.6" fill="#757575" stroke="#757575" stroke-width="1.5" stroke-linejoin="round"/>
<polygon points="440.2,437.3 443.6,436.2 444.2,440.1 441.3,441.2" fill="#686868" stroke="#686868" stroke-width="1.5" stroke-linejoin="round"/>
<polygon points="430.0,418.1 436.8,417.0 439.1,420.3 432.3,422.6" fill="#717171" stroke="#717171" stroke-width="1.5" stroke-linejoin="round"/>
<polygon points="389.4,446.3 392.2,445.2 393.3,449.7 390.5,450.3" fill="#6c6c6c" stroke="#6c6c6c" stroke-width="1.5" stroke-linejoin="round"/>
<polygon points="405.2,449.7 407.4,449.1 408.6,454.2 406.3,454.8" fill="#717171" stroke="#717171" stroke-width="1.5" stroke-linejoin="round"/>
<polygon points="406.3,462.1 409.7,461.0 410.3,464.4 407.4,465.0" fill="#6c6c6c" stroke="#6c6c6c" stroke-width="1.5" stroke-linejoin="round"/>
<polygon points="266.5,529.3 270.4,528.7 271.5,533.8 267.6,534.4" fill="#7d7d7d" stroke="#7d7d7d" stroke-width="1.5" stroke-linejoin="round"/>
<polygon points="270.4,543.4 273.2,542.9 274.9,549.1 271.9,549.1" fill="#7d7d7d" stroke="#7d7d7d" stroke-width="1.5" stroke-linejoin="round"/>
<polygon points="317.3,522.5 320.1,522.0 321.2,532.1 318.4,533.3" fill="#6c6c6c" stroke="#6c6c6c" stroke-width="1.5" stroke-linejoin="round"/>
<polygon points="324.6,535.5 329.7,529.9 332.0,531.6 327.4,541.2 325.2,540.0" fill="#797979" stroke="#797979" stroke-width="1.5" stroke-linejoin="round"/>
<polygon points="353.6,522.5 356.6,522.0 356.8,528.7 354.6,528.7" fill="#686868" stroke="#686868" stroke-width="1.5" stroke-linejoin="round"/>
<polygon points="283.6,511.8 285.9,511.6 286.1,513.8 283.9,514.1" fill="#797979" stroke="#797979" stroke-width="1.5" stroke-linejoin="round"/>
<polygon points="248.2,536.1 249.8,536.1 249.8,540.0 248.2,540.0" fill="#606060" stroke="#606060" stroke-width="1.5" stroke-linejoin="round"/>
<polygon points="277.8,528.7 279.1,528.7 280.2,532.1 278.9,532.4" fill="#606060" stroke="#606060" stroke-width="1.5" stroke-linejoin="round"/>
<polygon points="344.4,527.6 347.2,527.0 347.8,532.7 345.3,533.3" fill="#5b5b5b" stroke="#5b5b5b" stroke-width="1.5" stroke-linejoin="round"/>
<polygon points="349.5,543.4 351.2,543.4 351.2,547.9 349.6,547.9" fill="#5b5b5b" stroke="#5b5b5b" stroke-width="1.5" stroke-linejoin="round"/>
<polygon points="341.6,505.0 345.5,503.9 347.2,508.4 343.3,509.5" fill="#757575" stroke="#757575" stroke-width="1.5" stroke-linejoin="round"/>
<polygon points="372.6,505.0 374.9,504.5 376.0,509.5 373.7,510.1" fill="#646464" stroke="#646464" stroke-width="1.5" stroke-linejoin="round"/>
<polygon points="367.5,497.1 370.4,496.6 371.5,501.6 368.7,502.2" fill="#757575" stroke="#757575" stroke-width="1.5" stroke-linejoin="round"/>
<polygon points="469.6,372.9 477.5,367.3 482.0,375.2 475.2,383.1 470.7,379.7" fill="#2d2d2d"/>
<polygon points="457.1,386.5 464.5,385.9 466.2,392.1 459.4,393.8" fill="#3e3e3e"/>
<polygon points="472.9,352.6 479.7,350.3 482.0,359.4 475.2,363.9" fill="#2d2d2d"/>
<polygon points="445.8,368.4 452.6,363.9 459.4,368.4 463.9,375.2 459.4,379.7 452.6,384.2 448.1,393.2 452.6,400.0 448.1,402.3 443.6,395.5 445.8,384.2 448.1,377.4" fill="#a4a4a4" stroke="#a4a4a4" stroke-width="0.8999999999999999" stroke-linejoin="round"/>
<polygon points="424.4,395.5 432.3,393.2 434.6,398.9 427.8,402.3" fill="#a4a4a4" stroke="#a4a4a4" stroke-width="0.8999999999999999" stroke-linejoin="round"/>
<polygon points="436.8,384.2 442.5,383.1 443.6,388.7 437.9,389.9" fill="#a4a4a4" stroke="#a4a4a4" stroke-width="0.8999999999999999" stroke-linejoin="round"/>
<polygon points="450.4,397.8 459.4,396.6 461.7,402.3 453.7,405.7" fill="#b5b5b5" stroke="#b5b5b5" stroke-width="0.8999999999999999" stroke-linejoin="round"/>
<polygon points="480.9,361.6 487.1,360.5 488.8,375.2 482.0,374.0" fill="#a4a4a4" stroke="#a4a4a4" stroke-width="0.8999999999999999" stroke-linejoin="round"/>
<polygon points="463.9,383.1 469.6,381.9 470.7,387.6 465.0,388.7" fill="#9f9f9f" stroke="#9f9f9f" stroke-width="0.8999999999999999" stroke-linejoin="round"/>
<polygon points="470.7,393.2 475.2,392.1 476.3,396.6 471.8,397.8" fill="#acacac" stroke="#acacac" stroke-width="0.8999999999999999" stroke-linejoin="round"/>
<polygon points="451.5,359.4 454.9,358.2 456.0,362.7 452.6,363.3" fill="#acacac" stroke="#acacac" stroke-width="0.8999999999999999" stroke-linejoin="round"/>
<polygon points="344.8,445.2 348.7,442.9 349.3,449.7 345.9,457.6 343.1,459.9 344.2,452.0" fill="#a8a8a8" stroke="#a8a8a8" stroke-width="0.8999999999999999" stroke-linejoin="round"/>
<polygon points="360.6,459.9 362.8,459.9 363.2,465.5 360.9,465.5" fill="#9f9f9f" stroke="#9f9f9f" stroke-width="0.8999999999999999" stroke-linejoin="round"/>
<polygon points="294.0,488.7 296.8,488.1 299.0,492.6 296.8,493.7" fill="#9f9f9f" stroke="#9f9f9f" stroke-width="0.8999999999999999" stroke-linejoin="round"/>
<polygon points="385.4,415.8 387.1,415.6 387.3,418.1 385.7,418.3" fill="#9b9b9b" stroke="#9b9b9b" stroke-width="0.8999999999999999" stroke-linejoin="round"/>
<polygon points="348.2,485.8 350.4,485.6 350.6,488.1 348.4,488.3" fill="#9b9b9b" stroke="#9b9b9b" stroke-width="0.8999999999999999" stroke-linejoin="round"/>
<polygon points="370.2,483.0 371.9,482.8 372.1,484.9 370.4,485.2" fill="#9b9b9b" stroke="#9b9b9b" stroke-width="0.8999999999999999" stroke-linejoin="round"/>
<polygon points="319.0,529.3 320.9,529.1 321.1,531.0 319.2,531.2" fill="#9b9b9b" stroke="#9b9b9b" stroke-width="0.8999999999999999" stroke-linejoin="round"/></g></g>
</g>
<path d="M219.1 548.3L486.3 335.2M363.1 548.3L486.3 450.1" stroke="#000" stroke-width="1" stroke-dasharray="12.4 11.25" fill="none"/>
<path d="M25.4 40.85V549.3M104.1 40.85V549.3M182.8 40.85V549.3M261.6 40.85V549.3M340.3 40.85V549.3M419 40.85V549.3M12.9 70.3H486.6M12.9 154.9H486.6M12.9 239.5H486.6M12.9 324.2H486.6M12.9 408.8H486.6M12.9 493.4H486.6" stroke="#000" stroke-width="1.15" stroke-dasharray="3.1 5.15" fill="none"/>
<g style="font-family:'Liberation Sans',sans-serif;font-size:12.4px;letter-spacing:0.3px" fill="#000" stroke="#000" stroke-width="0.2">
<text x="25.4" y="302.5" text-anchor="middle">-112</text>
<text x="104.1" y="302.5" text-anchor="middle">-110</text>
<text x="182.8" y="302.5" text-anchor="middle">-108</text>
<text x="261.6" y="302.5" text-anchor="middle">-106</text>
<text x="340.3" y="302.5" text-anchor="middle">-104</text>
<text x="419" y="302.5" text-anchor="middle">-102</text>
<text x="242.4" y="70.3" text-anchor="middle">16</text>
<text x="242.4" y="154.9" text-anchor="middle">14</text>
<text x="242.4" y="239.5" text-anchor="middle">12</text>
<text x="242.4" y="324.2" text-anchor="middle">10</text>
<text x="242.4" y="408.8" text-anchor="middle">8</text>
<text x="242.4" y="493.4" text-anchor="middle">6</text>
</g>
<path d="M242.8 292.5h13.2v4.4h-13.2z M247.2 288.1h4.4v13.2h-4.4z" fill="#000"/>
<text x="36" y="65.9" style="font-family:'Liberation Sans',sans-serif;font-size:25px" fill="#000" stroke="#000" stroke-width="0.25">2A23 storm height (km)</text>
<text x="438.2" y="523.3" style="font-family:'Liberation Sans',sans-serif;font-size:30px" fill="#000" stroke="#000" stroke-width="0.25">(i)</text>
<rect x="495" y="531.57" width="9" height="8.76" fill="#f8f8f7"/>
<rect x="495" y="523.11" width="9" height="8.76" fill="#f0f0f0"/>
<rect x="495" y="514.65" width="9" height="8.76" fill="#e8e8e8"/>
<rect x="495" y="506.18" width="9" height="8.76" fill="#e1e1e0"/>
<rect x="495" y="497.72" width="9" height="8.76" fill="#dadad9"/>
<rect x="495" y="489.26" width="9" height="8.76" fill="#d2d2d1"/>
<rect x="495" y="480.79" width="9" height="8.76" fill="#cacaca"/>
<rect x="495" y="472.33" width="9" height="8.76" fill="#c3c3c2"/>
<rect x="495" y="463.87" width="9" height="8.76" fill="#bcbcba"/>
<rect x="495" y="455.40" width="9" height="8.76" fill="#b4b4b3"/>
<rect x="495" y="446.94" width="9" height="8.76" fill="#acacab"/>
<rect x="495" y="438.48" width="9" height="8.76" fill="#a5a5a3"/>
<rect x="495" y="430.01" width="9" height="8.76" fill="#9e9e9c"/>
<rect x="495" y="421.55" width="9" height="8.76" fill="#969694"/>
<rect x="495" y="413.09" width="9" height="8.76" fill="#88e888"/>
<rect x="495" y="404.62" width="9" height="8.76" fill="#80dd80"/>
<rect x="495" y="396.16" width="9" height="8.76" fill="#78d278"/>
<rect x="495" y="387.70" width="9" height="8.76" fill="#70c770"/>
<rect x="495" y="379.23" width="9" height="8.76" fill="#68bc68"/>
<rect x="495" y="370.77" width="9" height="8.76" fill="#d0d4ff"/>
<rect x="495" y="362.31" width="9" height="8.76" fill="#b8d0ff"/>
<rect x="495" y="353.84" width="9" height="8.76" fill="#a0c8ff"/>
<rect x="495" y="345.38" width="9" height="8.76" fill="#88c0ff"/>
<rect x="495" y="336.92" width="9" height="8.76" fill="#70b8ff"/>
<rect x="495" y="328.45" width="9" height="8.76" fill="#50b0ff"/>
<rect x="495" y="319.99" width="9" height="8.76" fill="#4890ff"/>
<rect x="495" y="311.53" width="9" height="8.76" fill="#4470ff"/>
<rect x="495" y="303.06" width="9" height="8.76" fill="#3c50ff"/>
<rect x="495" y="294.60" width="9" height="8.76" fill="#3030ff"/>
<rect x="495" y="286.14" width="9" height="8.76" fill="#0000ff"/>
<rect x="495" y="277.67" width="9" height="8.76" fill="#0202ef"/>
<rect x="495" y="269.21" width="9" height="8.76" fill="#0404e0"/>
<rect x="495" y="260.75" width="9" height="8.76" fill="#0606d0"/>
<rect x="495" y="252.28" width="9" height="8.76" fill="#0808c0"/>
<rect x="495" y="243.82" width="9" height="8.76" fill="#ffff00"/>
<rect x="495" y="235.36" width="9" height="8.76" fill="#fff300"/>
<rect x="495" y="226.89" width="9" height="8.76" fill="#ffe800"/>
<rect x="495" y="218.43" width="9" height="8.76" fill="#ffdc00"/>
<rect x="495" y="209.97" width="9" height="8.76" fill="#ffd000"/>
<rect x="495" y="201.50" width="9" height="8.76" fill="#ff9208"/>
<rect x="495" y="193.04" width="9" height="8.76" fill="#ff8a06"/>
<rect x="495" y="184.58" width="9" height="8.76" fill="#ff8104"/>
<rect x="495" y="176.11" width="9" height="8.76" fill="#ff7802"/>
<rect x="495" y="167.65" width="9" height="8.76" fill="#ff7000"/>
<rect x="495" y="159.19" width="9" height="8.76" fill="#ff4400"/>
<rect x="495" y="150.72" width="9" height="8.76" fill="#ff3902"/>
<rect x="495" y="142.26" width="9" height="8.76" fill="#ff2e04"/>
<rect x="495" y="133.80" width="9" height="8.76" fill="#ff2306"/>
<rect x="495" y="125.33" width="9" height="8.76" fill="#ff1808"/>
<rect x="495" y="116.87" width="9" height="8.76" fill="#cc0000"/>
<rect x="495" y="108.41" width="9" height="8.76" fill="#c10301"/>
<rect x="495" y="99.94" width="9" height="8.76" fill="#b60602"/>
<rect x="495" y="91.48" width="9" height="8.76" fill="#ab0903"/>
<rect x="495" y="83.02" width="9" height="8.76" fill="#a00c04"/>
<rect x="495" y="74.55" width="9" height="8.76" fill="#620e06"/>
<rect x="495" y="66.09" width="9" height="8.76" fill="#60110a"/>
<rect x="495" y="57.63" width="9" height="8.76" fill="#5d140f"/>
<rect x="495" y="49.16" width="9" height="8.76" fill="#5a1714"/>
<rect x="495" y="40.70" width="9" height="8.76" fill="#581a18"/>
<path d="M504 548.50h2M504 497.72h2M504 446.94h2M504 396.16h2M504 345.38h2M504 294.60h2M504 243.82h2M504 193.04h2M504 142.26h2M504 91.48h2" stroke="#000" stroke-width="1" fill="none"/>
<g style="font-family:'Liberation Sans',sans-serif;font-size:20px" fill="#000" stroke="#000" stroke-width="0.25" text-anchor="middle">
<text x="532.7" y="557.00">0.0</text>
<text x="532.7" y="506.22">2.0</text>
<text x="532.7" y="455.44">4.0</text>
<text x="532.7" y="404.66">6.0</text>
<text x="532.7" y="353.88">8.0</text>
<text x="532.7" y="303.10">10.0</text>
<text x="532.7" y="252.32">12.0</text>
<text x="532.7" y="201.54">14.0</text>
<text x="532.7" y="150.76">16.0</text>
<text x="532.7" y="99.98">18.0</text>
</g>
</g>
</g></svg></body></html>
